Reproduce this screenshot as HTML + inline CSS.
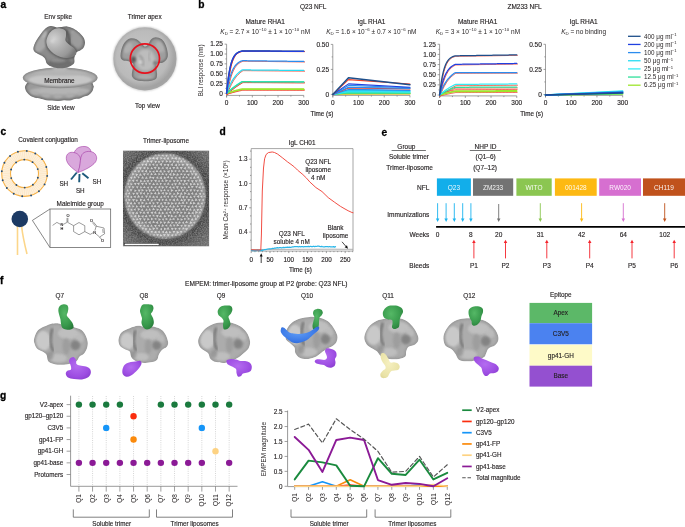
<!DOCTYPE html>
<html><head><meta charset="utf-8"><style>
html,body{margin:0;padding:0;background:#fff;}
svg{display:block;font-family:"Liberation Sans",sans-serif;will-change:transform;}
</style></head><body>
<svg width="685" height="527" viewBox="0 0 685 527">
<rect width="685" height="527" fill="#fff"/>
<text x="0.40" y="7.80" font-size="10.2" text-anchor="start" font-weight="bold" fill="#000" stroke="#000" stroke-width="0.3" >a</text>
<text x="198.20" y="7.80" font-size="10.2" text-anchor="start" font-weight="bold" fill="#000" stroke="#000" stroke-width="0.3" >b</text>
<text x="0.60" y="135.40" font-size="10.2" text-anchor="start" font-weight="bold" fill="#000" stroke="#000" stroke-width="0.3" >c</text>
<text x="219.60" y="135.40" font-size="10.2" text-anchor="start" font-weight="bold" fill="#000" stroke="#000" stroke-width="0.3" >d</text>
<text x="381.60" y="135.50" font-size="10.2" text-anchor="start" font-weight="bold" fill="#000" stroke="#000" stroke-width="0.3" >e</text>
<text x="0.00" y="283.80" font-size="10.2" text-anchor="start" font-weight="bold" fill="#000" stroke="#000" stroke-width="0.3" >f</text>
<text x="0.00" y="399.30" font-size="10.2" text-anchor="start" font-weight="bold" fill="#000" stroke="#000" stroke-width="0.3" >g</text>
<line x1="226.60" y1="44.17" x2="226.60" y2="97.40" stroke="#777" stroke-width="0.7" />
<line x1="226.60" y1="95.40" x2="303.76" y2="95.40" stroke="#777" stroke-width="0.7" />
<line x1="224.60" y1="93.30" x2="226.60" y2="93.30" stroke="#777" stroke-width="0.7" />
<text x="222.90" y="95.60" font-size="6.5" text-anchor="end" font-weight="normal" fill="#231f20" stroke="#231f20" stroke-width="0.14" >0</text>
<line x1="224.60" y1="83.47" x2="226.60" y2="83.47" stroke="#777" stroke-width="0.7" />
<text x="222.90" y="85.77" font-size="6.5" text-anchor="end" font-weight="normal" fill="#231f20" stroke="#231f20" stroke-width="0.14" >0.25</text>
<line x1="224.60" y1="73.65" x2="226.60" y2="73.65" stroke="#777" stroke-width="0.7" />
<text x="222.90" y="75.95" font-size="6.5" text-anchor="end" font-weight="normal" fill="#231f20" stroke="#231f20" stroke-width="0.14" >0.50</text>
<line x1="224.60" y1="63.83" x2="226.60" y2="63.83" stroke="#777" stroke-width="0.7" />
<text x="222.90" y="66.12" font-size="6.5" text-anchor="end" font-weight="normal" fill="#231f20" stroke="#231f20" stroke-width="0.14" >0.75</text>
<line x1="224.60" y1="54.00" x2="226.60" y2="54.00" stroke="#777" stroke-width="0.7" />
<text x="222.90" y="56.30" font-size="6.5" text-anchor="end" font-weight="normal" fill="#231f20" stroke="#231f20" stroke-width="0.14" >1.00</text>
<line x1="224.60" y1="44.17" x2="226.60" y2="44.17" stroke="#777" stroke-width="0.7" />
<text x="222.90" y="46.47" font-size="6.5" text-anchor="end" font-weight="normal" fill="#231f20" stroke="#231f20" stroke-width="0.14" >1.25</text>
<line x1="225.40" y1="88.39" x2="226.60" y2="88.39" stroke="#777" stroke-width="0.7" />
<line x1="225.40" y1="78.56" x2="226.60" y2="78.56" stroke="#777" stroke-width="0.7" />
<line x1="225.40" y1="68.74" x2="226.60" y2="68.74" stroke="#777" stroke-width="0.7" />
<line x1="225.40" y1="58.91" x2="226.60" y2="58.91" stroke="#777" stroke-width="0.7" />
<line x1="225.40" y1="49.09" x2="226.60" y2="49.09" stroke="#777" stroke-width="0.7" />
<line x1="226.60" y1="95.40" x2="226.60" y2="97.40" stroke="#777" stroke-width="0.7" />
<text x="226.60" y="105.20" font-size="6.5" text-anchor="middle" font-weight="normal" fill="#231f20" stroke="#231f20" stroke-width="0.14" >0</text>
<line x1="239.46" y1="95.40" x2="239.46" y2="96.60" stroke="#777" stroke-width="0.7" />
<line x1="252.32" y1="95.40" x2="252.32" y2="97.40" stroke="#777" stroke-width="0.7" />
<text x="252.32" y="105.20" font-size="6.5" text-anchor="middle" font-weight="normal" fill="#231f20" stroke="#231f20" stroke-width="0.14" >100</text>
<line x1="265.18" y1="95.40" x2="265.18" y2="96.60" stroke="#777" stroke-width="0.7" />
<line x1="278.04" y1="95.40" x2="278.04" y2="97.40" stroke="#777" stroke-width="0.7" />
<text x="278.04" y="105.20" font-size="6.5" text-anchor="middle" font-weight="normal" fill="#231f20" stroke="#231f20" stroke-width="0.14" >200</text>
<line x1="290.90" y1="95.40" x2="290.90" y2="96.60" stroke="#777" stroke-width="0.7" />
<line x1="303.76" y1="95.40" x2="303.76" y2="97.40" stroke="#777" stroke-width="0.7" />
<text x="303.76" y="105.20" font-size="6.5" text-anchor="middle" font-weight="normal" fill="#231f20" stroke="#231f20" stroke-width="0.14" >300</text>
<polyline points="227.00,94.20 227.77,93.97 228.54,93.75 229.31,93.53 230.09,93.31 230.86,93.10 231.63,92.89 232.40,92.68 233.17,92.48 233.94,92.28 234.72,92.09 235.49,91.90 236.26,91.71 237.03,91.52 237.80,91.34 238.57,91.17 239.35,90.99 240.12,90.82 240.89,90.65 241.66,90.49 242.43,90.32 243.20,90.27 243.98,90.27 244.75,90.27 245.52,90.27 246.29,90.28 247.06,90.28 247.83,90.28 248.60,90.28 249.38,90.28 250.15,90.28 250.92,90.28 251.69,90.28 252.46,90.28 253.23,90.29 254.01,90.29 254.78,90.29 255.55,90.29 256.32,90.29 257.09,90.29 257.86,90.29 258.64,90.29 259.41,90.30 260.18,90.30 260.95,90.30 261.72,90.30 262.49,90.30 263.27,90.30 264.04,90.30 264.81,90.30 265.58,90.30 266.35,90.31 267.12,90.31 267.89,90.31 268.67,90.31 269.44,90.31 270.21,90.31 270.98,90.31 271.75,90.31 272.52,90.32 273.30,90.32 274.07,90.32 274.84,90.32 275.61,90.32 276.38,90.32 277.15,90.32 277.93,90.32 278.70,90.32 279.47,90.33 280.24,90.33 281.01,90.33 281.78,90.33 282.56,90.33 283.33,90.33 284.10,90.33 284.87,90.33 285.64,90.34 286.41,90.34 287.18,90.34 287.96,90.34 288.73,90.34 289.50,90.34 290.27,90.34 291.04,90.34 291.81,90.34 292.59,90.35 293.36,90.35 294.13,90.35 294.90,90.35 295.67,90.35 296.44,90.35 297.22,90.35 297.99,90.35 298.76,90.35 299.53,90.36 300.30,90.36 301.07,90.36 301.85,90.36 302.62,90.36 303.39,90.36 304.16,90.36" fill="none" stroke="#f0402a" stroke-width="0.9" stroke-linejoin="round" stroke-linecap="round" />
<polyline points="227.00,94.20 227.77,93.94 228.54,93.68 229.31,93.42 230.09,93.18 230.86,92.93 231.63,92.69 232.40,92.45 233.17,92.22 233.94,91.99 234.72,91.77 235.49,91.55 236.26,91.34 237.03,91.12 237.80,90.92 238.57,90.71 239.35,90.51 240.12,90.31 240.89,90.12 241.66,89.93 242.43,89.74 243.20,89.68 243.98,89.68 244.75,89.68 245.52,89.69 246.29,89.69 247.06,89.69 247.83,89.69 248.60,89.69 249.38,89.69 250.15,89.69 250.92,89.69 251.69,89.70 252.46,89.70 253.23,89.70 254.01,89.70 254.78,89.70 255.55,89.70 256.32,89.70 257.09,89.71 257.86,89.71 258.64,89.71 259.41,89.71 260.18,89.71 260.95,89.71 261.72,89.71 262.49,89.72 263.27,89.72 264.04,89.72 264.81,89.72 265.58,89.72 266.35,89.72 267.12,89.72 267.89,89.72 268.67,89.73 269.44,89.73 270.21,89.73 270.98,89.73 271.75,89.73 272.52,89.73 273.30,89.73 274.07,89.74 274.84,89.74 275.61,89.74 276.38,89.74 277.15,89.74 277.93,89.74 278.70,89.74 279.47,89.74 280.24,89.75 281.01,89.75 281.78,89.75 282.56,89.75 283.33,89.75 284.10,89.75 284.87,89.75 285.64,89.76 286.41,89.76 287.18,89.76 287.96,89.76 288.73,89.76 289.50,89.76 290.27,89.76 291.04,89.76 291.81,89.77 292.59,89.77 293.36,89.77 294.13,89.77 294.90,89.77 295.67,89.77 296.44,89.77 297.22,89.78 297.99,89.78 298.76,89.78 299.53,89.78 300.30,89.78 301.07,89.78 301.85,89.78 302.62,89.78 303.39,89.79 304.16,89.79" fill="none" stroke="#f0402a" stroke-width="0.9" stroke-linejoin="round" stroke-linecap="round" />
<polyline points="227.20,94.20 227.97,93.48 228.74,92.77 229.51,92.08 230.29,91.41 231.06,90.75 231.83,90.11 232.60,89.48 233.37,88.87 234.14,88.27 234.92,87.69 235.69,87.12 236.46,86.56 237.23,86.02 238.00,85.49 238.77,84.97 239.55,84.46 240.32,83.97 241.09,83.49 241.86,83.02 242.63,82.56 243.40,82.41 244.18,82.42 244.95,82.42 245.72,82.42 246.49,82.43 247.26,82.43 248.03,82.43 248.80,82.44 249.58,82.44 250.35,82.44 251.12,82.45 251.89,82.45 252.66,82.45 253.43,82.46 254.21,82.46 254.98,82.47 255.75,82.47 256.52,82.47 257.29,82.48 258.06,82.48 258.84,82.48 259.61,82.49 260.38,82.49 261.15,82.49 261.92,82.50 262.69,82.50 263.47,82.50 264.24,82.51 265.01,82.51 265.78,82.51 266.55,82.52 267.32,82.52 268.09,82.52 268.87,82.53 269.64,82.53 270.41,82.54 271.18,82.54 271.95,82.54 272.72,82.55 273.50,82.55 274.27,82.55 275.04,82.56 275.81,82.56 276.58,82.56 277.35,82.57 278.13,82.57 278.90,82.57 279.67,82.58 280.44,82.58 281.21,82.58 281.98,82.59 282.76,82.59 283.53,82.59 284.30,82.60 285.07,82.60 285.84,82.61 286.61,82.61 287.38,82.61 288.16,82.62 288.93,82.62 289.70,82.62 290.47,82.63 291.24,82.63 292.01,82.63 292.79,82.64 293.56,82.64 294.33,82.64 295.10,82.65 295.87,82.65 296.64,82.65 297.42,82.66 298.19,82.66 298.96,82.66 299.73,82.67 300.50,82.67 301.27,82.67 302.05,82.68 302.82,82.68 303.59,82.68 304.36,82.69" fill="none" stroke="#f0402a" stroke-width="0.9" stroke-linejoin="round" stroke-linecap="round" />
<polyline points="227.20,94.20 227.97,93.49 228.74,92.79 229.51,92.11 230.29,91.45 231.06,90.80 231.83,90.17 232.60,89.56 233.37,88.96 234.14,88.37 234.92,87.79 235.69,87.23 236.46,86.69 237.23,86.15 238.00,85.63 238.77,85.12 239.55,84.63 240.32,84.14 241.09,83.67 241.86,83.21 242.63,82.75 243.40,82.61 244.18,82.61 244.95,82.62 245.72,82.62 246.49,82.62 247.26,82.63 248.03,82.63 248.80,82.63 249.58,82.64 250.35,82.64 251.12,82.64 251.89,82.65 252.66,82.65 253.43,82.65 254.21,82.66 254.98,82.66 255.75,82.66 256.52,82.67 257.29,82.67 258.06,82.67 258.84,82.68 259.61,82.68 260.38,82.69 261.15,82.69 261.92,82.69 262.69,82.70 263.47,82.70 264.24,82.70 265.01,82.71 265.78,82.71 266.55,82.71 267.32,82.72 268.09,82.72 268.87,82.72 269.64,82.73 270.41,82.73 271.18,82.73 271.95,82.74 272.72,82.74 273.50,82.74 274.27,82.75 275.04,82.75 275.81,82.75 276.58,82.76 277.35,82.76 278.13,82.76 278.90,82.77 279.67,82.77 280.44,82.77 281.21,82.78 281.98,82.78 282.76,82.78 283.53,82.79 284.30,82.79 285.07,82.80 285.84,82.80 286.61,82.80 287.38,82.81 288.16,82.81 288.93,82.81 289.70,82.82 290.47,82.82 291.24,82.82 292.01,82.83 292.79,82.83 293.56,82.83 294.33,82.84 295.10,82.84 295.87,82.84 296.64,82.85 297.42,82.85 298.19,82.85 298.96,82.86 299.73,82.86 300.50,82.86 301.27,82.87 302.05,82.87 302.82,82.87 303.59,82.88 304.36,82.88" fill="none" stroke="#f0402a" stroke-width="0.9" stroke-linejoin="round" stroke-linecap="round" />
<polyline points="227.40,94.00 228.17,91.84 228.94,89.84 229.71,87.98 230.49,86.25 231.26,84.65 232.03,83.17 232.80,81.79 233.57,80.52 234.34,79.33 235.12,78.23 235.89,77.21 236.66,76.26 237.43,75.39 238.20,74.57 238.97,73.82 239.75,73.11 240.52,72.46 241.29,71.86 242.06,71.30 242.83,70.78 243.60,70.62 244.38,70.63 245.15,70.64 245.92,70.64 246.69,70.65 247.46,70.66 248.23,70.66 249.00,70.67 249.78,70.68 250.55,70.68 251.32,70.69 252.09,70.70 252.86,70.71 253.63,70.71 254.41,70.72 255.18,70.73 255.95,70.73 256.72,70.74 257.49,70.75 258.26,70.75 259.04,70.76 259.81,70.77 260.58,70.77 261.35,70.78 262.12,70.79 262.89,70.80 263.67,70.80 264.44,70.81 265.21,70.82 265.98,70.82 266.75,70.83 267.52,70.84 268.29,70.84 269.07,70.85 269.84,70.86 270.61,70.87 271.38,70.87 272.15,70.88 272.92,70.89 273.70,70.89 274.47,70.90 275.24,70.91 276.01,70.91 276.78,70.92 277.55,70.93 278.33,70.93 279.10,70.94 279.87,70.95 280.64,70.96 281.41,70.96 282.18,70.97 282.96,70.98 283.73,70.98 284.50,70.99 285.27,71.00 286.04,71.00 286.81,71.01 287.58,71.02 288.36,71.02 289.13,71.03 289.90,71.04 290.67,71.05 291.44,71.05 292.21,71.06 292.99,71.07 293.76,71.07 294.53,71.08 295.30,71.09 296.07,71.09 296.84,71.10 297.62,71.11 298.39,71.11 299.16,71.12 299.93,71.13 300.70,71.13 301.47,71.14 302.25,71.15 303.02,71.16 303.79,71.16 304.56,71.17" fill="none" stroke="#f0402a" stroke-width="0.9" stroke-linejoin="round" stroke-linecap="round" />
<polyline points="227.40,93.80 228.17,89.18 228.94,85.18 229.71,81.71 230.49,78.71 231.26,76.11 232.03,73.86 232.80,71.91 233.57,70.23 234.34,68.77 235.12,67.50 235.89,66.41 236.66,65.46 237.43,64.64 238.20,63.93 238.97,63.31 239.75,62.78 240.52,62.32 241.29,61.92 242.06,61.57 242.83,61.27 243.60,61.19 244.38,61.20 245.15,61.21 245.92,61.22 246.69,61.23 247.46,61.24 248.23,61.25 249.00,61.26 249.78,61.27 250.55,61.28 251.32,61.29 252.09,61.29 252.86,61.30 253.63,61.31 254.41,61.32 255.18,61.33 255.95,61.34 256.72,61.35 257.49,61.36 258.26,61.37 259.04,61.38 259.81,61.39 260.58,61.40 261.35,61.41 262.12,61.42 262.89,61.43 263.67,61.44 264.44,61.45 265.21,61.46 265.98,61.47 266.75,61.48 267.52,61.49 268.29,61.50 269.07,61.51 269.84,61.52 270.61,61.53 271.38,61.54 272.15,61.55 272.92,61.56 273.70,61.57 274.47,61.58 275.24,61.59 276.01,61.60 276.78,61.61 277.55,61.62 278.33,61.62 279.10,61.63 279.87,61.64 280.64,61.65 281.41,61.66 282.18,61.67 282.96,61.68 283.73,61.69 284.50,61.70 285.27,61.71 286.04,61.72 286.81,61.73 287.58,61.74 288.36,61.75 289.13,61.76 289.90,61.77 290.67,61.78 291.44,61.79 292.21,61.80 292.99,61.81 293.76,61.82 294.53,61.83 295.30,61.84 296.07,61.85 296.84,61.86 297.62,61.87 298.39,61.87 299.16,61.88 299.93,61.89 300.70,61.90 301.47,61.91 302.25,61.92 303.02,61.93 303.79,61.94 304.56,61.95" fill="none" stroke="#f0402a" stroke-width="0.9" stroke-linejoin="round" stroke-linecap="round" />
<polyline points="227.20,93.60 227.97,85.74 228.74,79.31 229.51,74.05 230.29,69.75 231.06,66.23 231.83,63.36 232.60,61.00 233.37,59.08 234.14,57.50 234.92,56.22 235.69,55.16 236.46,54.30 237.23,53.60 238.00,53.02 238.77,52.55 239.55,52.16 240.32,51.85 241.09,51.59 241.86,51.38 242.63,51.21 243.40,51.16 244.18,51.16 244.95,51.17 245.72,51.17 246.49,51.17 247.26,51.18 248.03,51.18 248.80,51.19 249.58,51.19 250.35,51.19 251.12,51.20 251.89,51.20 252.66,51.20 253.43,51.21 254.21,51.21 254.98,51.22 255.75,51.22 256.52,51.22 257.29,51.23 258.06,51.23 258.84,51.23 259.61,51.24 260.38,51.24 261.15,51.25 261.92,51.25 262.69,51.25 263.47,51.26 264.24,51.26 265.01,51.27 265.78,51.27 266.55,51.27 267.32,51.28 268.09,51.28 268.87,51.28 269.64,51.29 270.41,51.29 271.18,51.30 271.95,51.30 272.72,51.30 273.50,51.31 274.27,51.31 275.04,51.31 275.81,51.32 276.58,51.32 277.35,51.33 278.13,51.33 278.90,51.33 279.67,51.34 280.44,51.34 281.21,51.35 281.98,51.35 282.76,51.35 283.53,51.36 284.30,51.36 285.07,51.36 285.84,51.37 286.61,51.37 287.38,51.38 288.16,51.38 288.93,51.38 289.70,51.39 290.47,51.39 291.24,51.39 292.01,51.40 292.79,51.40 293.56,51.41 294.33,51.41 295.10,51.41 295.87,51.42 296.64,51.42 297.42,51.43 298.19,51.43 298.96,51.43 299.73,51.44 300.50,51.44 301.27,51.44 302.05,51.45 302.82,51.45 303.59,51.46 304.36,51.46" fill="none" stroke="#f0402a" stroke-width="0.9" stroke-linejoin="round" stroke-linecap="round" />
<polyline points="227.20,93.60 227.97,85.78 228.74,79.38 229.51,74.14 230.29,69.86 231.06,66.36 231.83,63.50 232.60,61.15 233.37,59.24 234.14,57.67 234.92,56.39 235.69,55.34 236.46,54.48 237.23,53.78 238.00,53.21 238.77,52.74 239.55,52.35 240.32,52.04 241.09,51.78 241.86,51.57 242.63,51.40 243.40,51.36 244.18,51.36 244.95,51.36 245.72,51.37 246.49,51.37 247.26,51.37 248.03,51.38 248.80,51.38 249.58,51.39 250.35,51.39 251.12,51.39 251.89,51.40 252.66,51.40 253.43,51.40 254.21,51.41 254.98,51.41 255.75,51.42 256.52,51.42 257.29,51.42 258.06,51.43 258.84,51.43 259.61,51.43 260.38,51.44 261.15,51.44 261.92,51.45 262.69,51.45 263.47,51.45 264.24,51.46 265.01,51.46 265.78,51.47 266.55,51.47 267.32,51.47 268.09,51.48 268.87,51.48 269.64,51.48 270.41,51.49 271.18,51.49 271.95,51.50 272.72,51.50 273.50,51.50 274.27,51.51 275.04,51.51 275.81,51.51 276.58,51.52 277.35,51.52 278.13,51.53 278.90,51.53 279.67,51.53 280.44,51.54 281.21,51.54 281.98,51.54 282.76,51.55 283.53,51.55 284.30,51.56 285.07,51.56 285.84,51.56 286.61,51.57 287.38,51.57 288.16,51.57 288.93,51.58 289.70,51.58 290.47,51.59 291.24,51.59 292.01,51.59 292.79,51.60 293.56,51.60 294.33,51.61 295.10,51.61 295.87,51.61 296.64,51.62 297.42,51.62 298.19,51.62 298.96,51.63 299.73,51.63 300.50,51.64 301.27,51.64 302.05,51.64 302.82,51.65 303.59,51.65 304.36,51.65" fill="none" stroke="#f0402a" stroke-width="0.9" stroke-linejoin="round" stroke-linecap="round" />
<polyline points="226.60,93.30 227.37,93.07 228.14,92.85 228.91,92.63 229.69,92.41 230.46,92.20 231.23,91.99 232.00,91.78 232.77,91.58 233.54,91.38 234.32,91.19 235.09,91.00 235.86,90.81 236.63,90.62 237.40,90.44 238.17,90.27 238.95,90.09 239.72,89.92 240.49,89.75 241.26,89.59 242.03,89.42 242.80,89.37 243.58,89.37 244.35,89.37 245.12,89.37 245.89,89.38 246.66,89.38 247.43,89.38 248.20,89.38 248.98,89.38 249.75,89.38 250.52,89.38 251.29,89.38 252.06,89.38 252.83,89.39 253.61,89.39 254.38,89.39 255.15,89.39 255.92,89.39 256.69,89.39 257.46,89.39 258.24,89.39 259.01,89.40 259.78,89.40 260.55,89.40 261.32,89.40 262.09,89.40 262.87,89.40 263.64,89.40 264.41,89.40 265.18,89.40 265.95,89.41 266.72,89.41 267.49,89.41 268.27,89.41 269.04,89.41 269.81,89.41 270.58,89.41 271.35,89.41 272.12,89.42 272.90,89.42 273.67,89.42 274.44,89.42 275.21,89.42 275.98,89.42 276.75,89.42 277.53,89.42 278.30,89.42 279.07,89.43 279.84,89.43 280.61,89.43 281.38,89.43 282.16,89.43 282.93,89.43 283.70,89.43 284.47,89.43 285.24,89.44 286.01,89.44 286.78,89.44 287.56,89.44 288.33,89.44 289.10,89.44 289.87,89.44 290.64,89.44 291.41,89.44 292.19,89.45 292.96,89.45 293.73,89.45 294.50,89.45 295.27,89.45 296.04,89.45 296.82,89.45 297.59,89.45 298.36,89.45 299.13,89.46 299.90,89.46 300.67,89.46 301.45,89.46 302.22,89.46 302.99,89.46 303.76,89.46" fill="none" stroke="#9ee52c" stroke-width="1.25" stroke-linejoin="round" stroke-linecap="round" />
<polyline points="226.60,93.30 227.37,93.04 228.14,92.78 228.91,92.52 229.69,92.28 230.46,92.03 231.23,91.79 232.00,91.55 232.77,91.32 233.54,91.09 234.32,90.87 235.09,90.65 235.86,90.44 236.63,90.22 237.40,90.02 238.17,89.81 238.95,89.61 239.72,89.41 240.49,89.22 241.26,89.03 242.03,88.84 242.80,88.78 243.58,88.78 244.35,88.78 245.12,88.79 245.89,88.79 246.66,88.79 247.43,88.79 248.20,88.79 248.98,88.79 249.75,88.79 250.52,88.79 251.29,88.80 252.06,88.80 252.83,88.80 253.61,88.80 254.38,88.80 255.15,88.80 255.92,88.80 256.69,88.81 257.46,88.81 258.24,88.81 259.01,88.81 259.78,88.81 260.55,88.81 261.32,88.81 262.09,88.82 262.87,88.82 263.64,88.82 264.41,88.82 265.18,88.82 265.95,88.82 266.72,88.82 267.49,88.82 268.27,88.83 269.04,88.83 269.81,88.83 270.58,88.83 271.35,88.83 272.12,88.83 272.90,88.83 273.67,88.84 274.44,88.84 275.21,88.84 275.98,88.84 276.75,88.84 277.53,88.84 278.30,88.84 279.07,88.84 279.84,88.85 280.61,88.85 281.38,88.85 282.16,88.85 282.93,88.85 283.70,88.85 284.47,88.85 285.24,88.86 286.01,88.86 286.78,88.86 287.56,88.86 288.33,88.86 289.10,88.86 289.87,88.86 290.64,88.86 291.41,88.87 292.19,88.87 292.96,88.87 293.73,88.87 294.50,88.87 295.27,88.87 296.04,88.87 296.82,88.88 297.59,88.88 298.36,88.88 299.13,88.88 299.90,88.88 300.67,88.88 301.45,88.88 302.22,88.88 302.99,88.89 303.76,88.89" fill="none" stroke="#9ee52c" stroke-width="1.25" stroke-linejoin="round" stroke-linecap="round" />
<polyline points="226.60,93.30 227.37,92.58 228.14,91.87 228.91,91.18 229.69,90.51 230.46,89.85 231.23,89.21 232.00,88.58 232.77,87.97 233.54,87.37 234.32,86.79 235.09,86.22 235.86,85.66 236.63,85.12 237.40,84.59 238.17,84.07 238.95,83.56 239.72,83.07 240.49,82.59 241.26,82.12 242.03,81.66 242.80,81.51 243.58,81.52 244.35,81.52 245.12,81.52 245.89,81.53 246.66,81.53 247.43,81.53 248.20,81.54 248.98,81.54 249.75,81.54 250.52,81.55 251.29,81.55 252.06,81.55 252.83,81.56 253.61,81.56 254.38,81.57 255.15,81.57 255.92,81.57 256.69,81.58 257.46,81.58 258.24,81.58 259.01,81.59 259.78,81.59 260.55,81.59 261.32,81.60 262.09,81.60 262.87,81.60 263.64,81.61 264.41,81.61 265.18,81.61 265.95,81.62 266.72,81.62 267.49,81.62 268.27,81.63 269.04,81.63 269.81,81.64 270.58,81.64 271.35,81.64 272.12,81.65 272.90,81.65 273.67,81.65 274.44,81.66 275.21,81.66 275.98,81.66 276.75,81.67 277.53,81.67 278.30,81.67 279.07,81.68 279.84,81.68 280.61,81.68 281.38,81.69 282.16,81.69 282.93,81.69 283.70,81.70 284.47,81.70 285.24,81.71 286.01,81.71 286.78,81.71 287.56,81.72 288.33,81.72 289.10,81.72 289.87,81.73 290.64,81.73 291.41,81.73 292.19,81.74 292.96,81.74 293.73,81.74 294.50,81.75 295.27,81.75 296.04,81.75 296.82,81.76 297.59,81.76 298.36,81.76 299.13,81.77 299.90,81.77 300.67,81.77 301.45,81.78 302.22,81.78 302.99,81.78 303.76,81.79" fill="none" stroke="#34ecf4" stroke-width="1.25" stroke-linejoin="round" stroke-linecap="round" />
<polyline points="226.60,93.30 227.37,92.59 228.14,91.89 228.91,91.21 229.69,90.55 230.46,89.90 231.23,89.27 232.00,88.66 232.77,88.06 233.54,87.47 234.32,86.89 235.09,86.33 235.86,85.79 236.63,85.25 237.40,84.73 238.17,84.22 238.95,83.73 239.72,83.24 240.49,82.77 241.26,82.31 242.03,81.85 242.80,81.71 243.58,81.71 244.35,81.72 245.12,81.72 245.89,81.72 246.66,81.73 247.43,81.73 248.20,81.73 248.98,81.74 249.75,81.74 250.52,81.74 251.29,81.75 252.06,81.75 252.83,81.75 253.61,81.76 254.38,81.76 255.15,81.76 255.92,81.77 256.69,81.77 257.46,81.77 258.24,81.78 259.01,81.78 259.78,81.79 260.55,81.79 261.32,81.79 262.09,81.80 262.87,81.80 263.64,81.80 264.41,81.81 265.18,81.81 265.95,81.81 266.72,81.82 267.49,81.82 268.27,81.82 269.04,81.83 269.81,81.83 270.58,81.83 271.35,81.84 272.12,81.84 272.90,81.84 273.67,81.85 274.44,81.85 275.21,81.85 275.98,81.86 276.75,81.86 277.53,81.86 278.30,81.87 279.07,81.87 279.84,81.87 280.61,81.88 281.38,81.88 282.16,81.88 282.93,81.89 283.70,81.89 284.47,81.90 285.24,81.90 286.01,81.90 286.78,81.91 287.56,81.91 288.33,81.91 289.10,81.92 289.87,81.92 290.64,81.92 291.41,81.93 292.19,81.93 292.96,81.93 293.73,81.94 294.50,81.94 295.27,81.94 296.04,81.95 296.82,81.95 297.59,81.95 298.36,81.96 299.13,81.96 299.90,81.96 300.67,81.97 301.45,81.97 302.22,81.97 302.99,81.98 303.76,81.98" fill="none" stroke="#2fe09a" stroke-width="1.25" stroke-linejoin="round" stroke-linecap="round" />
<polyline points="226.60,93.30 227.37,91.14 228.14,89.14 228.91,87.28 229.69,85.55 230.46,83.95 231.23,82.47 232.00,81.09 232.77,79.82 233.54,78.63 234.32,77.53 235.09,76.51 235.86,75.56 236.63,74.69 237.40,73.87 238.17,73.12 238.95,72.41 239.72,71.76 240.49,71.16 241.26,70.60 242.03,70.08 242.80,69.92 243.58,69.93 244.35,69.94 245.12,69.94 245.89,69.95 246.66,69.96 247.43,69.96 248.20,69.97 248.98,69.98 249.75,69.98 250.52,69.99 251.29,70.00 252.06,70.01 252.83,70.01 253.61,70.02 254.38,70.03 255.15,70.03 255.92,70.04 256.69,70.05 257.46,70.05 258.24,70.06 259.01,70.07 259.78,70.07 260.55,70.08 261.32,70.09 262.09,70.10 262.87,70.10 263.64,70.11 264.41,70.12 265.18,70.12 265.95,70.13 266.72,70.14 267.49,70.14 268.27,70.15 269.04,70.16 269.81,70.17 270.58,70.17 271.35,70.18 272.12,70.19 272.90,70.19 273.67,70.20 274.44,70.21 275.21,70.21 275.98,70.22 276.75,70.23 277.53,70.23 278.30,70.24 279.07,70.25 279.84,70.26 280.61,70.26 281.38,70.27 282.16,70.28 282.93,70.28 283.70,70.29 284.47,70.30 285.24,70.30 286.01,70.31 286.78,70.32 287.56,70.32 288.33,70.33 289.10,70.34 289.87,70.35 290.64,70.35 291.41,70.36 292.19,70.37 292.96,70.37 293.73,70.38 294.50,70.39 295.27,70.39 296.04,70.40 296.82,70.41 297.59,70.41 298.36,70.42 299.13,70.43 299.90,70.43 300.67,70.44 301.45,70.45 302.22,70.46 302.99,70.46 303.76,70.47" fill="none" stroke="#28dcf2" stroke-width="1.25" stroke-linejoin="round" stroke-linecap="round" />
<polyline points="226.60,93.30 227.37,88.68 228.14,84.68 228.91,81.21 229.69,78.21 230.46,75.61 231.23,73.36 232.00,71.41 232.77,69.73 233.54,68.27 234.32,67.00 235.09,65.91 235.86,64.96 236.63,64.14 237.40,63.43 238.17,62.81 238.95,62.28 239.72,61.82 240.49,61.42 241.26,61.07 242.03,60.77 242.80,60.69 243.58,60.70 244.35,60.71 245.12,60.72 245.89,60.73 246.66,60.74 247.43,60.75 248.20,60.76 248.98,60.77 249.75,60.78 250.52,60.79 251.29,60.79 252.06,60.80 252.83,60.81 253.61,60.82 254.38,60.83 255.15,60.84 255.92,60.85 256.69,60.86 257.46,60.87 258.24,60.88 259.01,60.89 259.78,60.90 260.55,60.91 261.32,60.92 262.09,60.93 262.87,60.94 263.64,60.95 264.41,60.96 265.18,60.97 265.95,60.98 266.72,60.99 267.49,61.00 268.27,61.01 269.04,61.02 269.81,61.03 270.58,61.04 271.35,61.05 272.12,61.06 272.90,61.07 273.67,61.08 274.44,61.09 275.21,61.10 275.98,61.11 276.75,61.12 277.53,61.12 278.30,61.13 279.07,61.14 279.84,61.15 280.61,61.16 281.38,61.17 282.16,61.18 282.93,61.19 283.70,61.20 284.47,61.21 285.24,61.22 286.01,61.23 286.78,61.24 287.56,61.25 288.33,61.26 289.10,61.27 289.87,61.28 290.64,61.29 291.41,61.30 292.19,61.31 292.96,61.32 293.73,61.33 294.50,61.34 295.27,61.35 296.04,61.36 296.82,61.37 297.59,61.37 298.36,61.38 299.13,61.39 299.90,61.40 300.67,61.41 301.45,61.42 302.22,61.43 302.99,61.44 303.76,61.45" fill="none" stroke="#2b8cee" stroke-width="1.25" stroke-linejoin="round" stroke-linecap="round" />
<polyline points="226.60,93.30 227.37,85.44 228.14,79.01 228.91,73.75 229.69,69.45 230.46,65.93 231.23,63.06 232.00,60.70 232.77,58.78 233.54,57.20 234.32,55.92 235.09,54.86 235.86,54.00 236.63,53.30 237.40,52.72 238.17,52.25 238.95,51.86 239.72,51.55 240.49,51.29 241.26,51.08 242.03,50.91 242.80,50.86 243.58,50.86 244.35,50.87 245.12,50.87 245.89,50.87 246.66,50.88 247.43,50.88 248.20,50.89 248.98,50.89 249.75,50.89 250.52,50.90 251.29,50.90 252.06,50.90 252.83,50.91 253.61,50.91 254.38,50.92 255.15,50.92 255.92,50.92 256.69,50.93 257.46,50.93 258.24,50.93 259.01,50.94 259.78,50.94 260.55,50.95 261.32,50.95 262.09,50.95 262.87,50.96 263.64,50.96 264.41,50.97 265.18,50.97 265.95,50.97 266.72,50.98 267.49,50.98 268.27,50.98 269.04,50.99 269.81,50.99 270.58,51.00 271.35,51.00 272.12,51.00 272.90,51.01 273.67,51.01 274.44,51.01 275.21,51.02 275.98,51.02 276.75,51.03 277.53,51.03 278.30,51.03 279.07,51.04 279.84,51.04 280.61,51.05 281.38,51.05 282.16,51.05 282.93,51.06 283.70,51.06 284.47,51.06 285.24,51.07 286.01,51.07 286.78,51.08 287.56,51.08 288.33,51.08 289.10,51.09 289.87,51.09 290.64,51.09 291.41,51.10 292.19,51.10 292.96,51.11 293.73,51.11 294.50,51.11 295.27,51.12 296.04,51.12 296.82,51.13 297.59,51.13 298.36,51.13 299.13,51.14 299.90,51.14 300.67,51.14 301.45,51.15 302.22,51.15 302.99,51.16 303.76,51.16" fill="none" stroke="#1d4e8a" stroke-width="1.25" stroke-linejoin="round" stroke-linecap="round" />
<polyline points="226.60,93.30 227.37,85.48 228.14,79.08 228.91,73.84 229.69,69.56 230.46,66.06 231.23,63.20 232.00,60.85 232.77,58.94 233.54,57.37 234.32,56.09 235.09,55.04 235.86,54.18 236.63,53.48 237.40,52.91 238.17,52.44 238.95,52.05 239.72,51.74 240.49,51.48 241.26,51.27 242.03,51.10 242.80,51.06 243.58,51.06 244.35,51.06 245.12,51.07 245.89,51.07 246.66,51.07 247.43,51.08 248.20,51.08 248.98,51.09 249.75,51.09 250.52,51.09 251.29,51.10 252.06,51.10 252.83,51.10 253.61,51.11 254.38,51.11 255.15,51.12 255.92,51.12 256.69,51.12 257.46,51.13 258.24,51.13 259.01,51.13 259.78,51.14 260.55,51.14 261.32,51.15 262.09,51.15 262.87,51.15 263.64,51.16 264.41,51.16 265.18,51.17 265.95,51.17 266.72,51.17 267.49,51.18 268.27,51.18 269.04,51.18 269.81,51.19 270.58,51.19 271.35,51.20 272.12,51.20 272.90,51.20 273.67,51.21 274.44,51.21 275.21,51.21 275.98,51.22 276.75,51.22 277.53,51.23 278.30,51.23 279.07,51.23 279.84,51.24 280.61,51.24 281.38,51.24 282.16,51.25 282.93,51.25 283.70,51.26 284.47,51.26 285.24,51.26 286.01,51.27 286.78,51.27 287.56,51.27 288.33,51.28 289.10,51.28 289.87,51.29 290.64,51.29 291.41,51.29 292.19,51.30 292.96,51.30 293.73,51.31 294.50,51.31 295.27,51.31 296.04,51.32 296.82,51.32 297.59,51.32 298.36,51.33 299.13,51.33 299.90,51.34 300.67,51.34 301.45,51.34 302.22,51.35 302.99,51.35 303.76,51.35" fill="none" stroke="#2040e0" stroke-width="1.25" stroke-linejoin="round" stroke-linecap="round" />
<line x1="439.60" y1="44.25" x2="439.60" y2="97.90" stroke="#777" stroke-width="0.7" />
<line x1="439.60" y1="95.90" x2="516.76" y2="95.90" stroke="#777" stroke-width="0.7" />
<line x1="437.60" y1="95.00" x2="439.60" y2="95.00" stroke="#777" stroke-width="0.7" />
<text x="435.90" y="97.30" font-size="6.5" text-anchor="end" font-weight="normal" fill="#231f20" stroke="#231f20" stroke-width="0.14" >0</text>
<line x1="437.60" y1="84.85" x2="439.60" y2="84.85" stroke="#777" stroke-width="0.7" />
<text x="435.90" y="87.15" font-size="6.5" text-anchor="end" font-weight="normal" fill="#231f20" stroke="#231f20" stroke-width="0.14" >0.25</text>
<line x1="437.60" y1="74.70" x2="439.60" y2="74.70" stroke="#777" stroke-width="0.7" />
<text x="435.90" y="77.00" font-size="6.5" text-anchor="end" font-weight="normal" fill="#231f20" stroke="#231f20" stroke-width="0.14" >0.50</text>
<line x1="437.60" y1="64.55" x2="439.60" y2="64.55" stroke="#777" stroke-width="0.7" />
<text x="435.90" y="66.85" font-size="6.5" text-anchor="end" font-weight="normal" fill="#231f20" stroke="#231f20" stroke-width="0.14" >0.75</text>
<line x1="437.60" y1="54.40" x2="439.60" y2="54.40" stroke="#777" stroke-width="0.7" />
<text x="435.90" y="56.70" font-size="6.5" text-anchor="end" font-weight="normal" fill="#231f20" stroke="#231f20" stroke-width="0.14" >1.00</text>
<line x1="437.60" y1="44.25" x2="439.60" y2="44.25" stroke="#777" stroke-width="0.7" />
<text x="435.90" y="46.55" font-size="6.5" text-anchor="end" font-weight="normal" fill="#231f20" stroke="#231f20" stroke-width="0.14" >1.25</text>
<line x1="438.40" y1="89.92" x2="439.60" y2="89.92" stroke="#777" stroke-width="0.7" />
<line x1="438.40" y1="79.78" x2="439.60" y2="79.78" stroke="#777" stroke-width="0.7" />
<line x1="438.40" y1="69.62" x2="439.60" y2="69.62" stroke="#777" stroke-width="0.7" />
<line x1="438.40" y1="59.48" x2="439.60" y2="59.48" stroke="#777" stroke-width="0.7" />
<line x1="438.40" y1="49.32" x2="439.60" y2="49.32" stroke="#777" stroke-width="0.7" />
<line x1="439.60" y1="95.90" x2="439.60" y2="97.90" stroke="#777" stroke-width="0.7" />
<text x="439.60" y="105.20" font-size="6.5" text-anchor="middle" font-weight="normal" fill="#231f20" stroke="#231f20" stroke-width="0.14" >0</text>
<line x1="452.46" y1="95.90" x2="452.46" y2="97.10" stroke="#777" stroke-width="0.7" />
<line x1="465.32" y1="95.90" x2="465.32" y2="97.90" stroke="#777" stroke-width="0.7" />
<text x="465.32" y="105.20" font-size="6.5" text-anchor="middle" font-weight="normal" fill="#231f20" stroke="#231f20" stroke-width="0.14" >100</text>
<line x1="478.18" y1="95.90" x2="478.18" y2="97.10" stroke="#777" stroke-width="0.7" />
<line x1="491.04" y1="95.90" x2="491.04" y2="97.90" stroke="#777" stroke-width="0.7" />
<text x="491.04" y="105.20" font-size="6.5" text-anchor="middle" font-weight="normal" fill="#231f20" stroke="#231f20" stroke-width="0.14" >200</text>
<line x1="503.90" y1="95.90" x2="503.90" y2="97.10" stroke="#777" stroke-width="0.7" />
<line x1="516.76" y1="95.90" x2="516.76" y2="97.90" stroke="#777" stroke-width="0.7" />
<text x="516.76" y="105.20" font-size="6.5" text-anchor="middle" font-weight="normal" fill="#231f20" stroke="#231f20" stroke-width="0.14" >300</text>
<polyline points="439.90,96.00 440.67,95.80 441.44,95.60 442.21,95.41 442.99,95.22 443.76,95.03 444.53,94.85 445.30,94.67 446.07,94.49 446.84,94.32 447.62,94.15 448.39,93.98 449.16,93.81 449.93,93.65 450.70,93.49 451.47,93.34 452.25,93.18 453.02,93.03 453.79,92.88 454.56,92.74 455.33,92.60 456.10,92.55 456.88,92.55 457.65,92.55 458.42,92.55 459.19,92.54 459.96,92.54 460.73,92.54 461.50,92.54 462.28,92.54 463.05,92.54 463.82,92.54 464.59,92.54 465.36,92.54 466.13,92.53 466.91,92.53 467.68,92.53 468.45,92.53 469.22,92.53 469.99,92.53 470.76,92.53 471.54,92.53 472.31,92.53 473.08,92.53 473.85,92.52 474.62,92.52 475.39,92.52 476.17,92.52 476.94,92.52 477.71,92.52 478.48,92.52 479.25,92.52 480.02,92.52 480.79,92.52 481.57,92.51 482.34,92.51 483.11,92.51 483.88,92.51 484.65,92.51 485.42,92.51 486.20,92.51 486.97,92.51 487.74,92.51 488.51,92.50 489.28,92.50 490.05,92.50 490.83,92.50 491.60,92.50 492.37,92.50 493.14,92.50 493.91,92.50 494.68,92.50 495.46,92.50 496.23,92.49 497.00,92.49 497.77,92.49 498.54,92.49 499.31,92.49 500.08,92.49 500.86,92.49 501.63,92.49 502.40,92.49 503.17,92.48 503.94,92.48 504.71,92.48 505.49,92.48 506.26,92.48 507.03,92.48 507.80,92.48 508.57,92.48 509.34,92.48 510.12,92.48 510.89,92.47 511.66,92.47 512.43,92.47 513.20,92.47 513.97,92.47 514.75,92.47 515.52,92.47 516.29,92.47 517.06,92.47" fill="none" stroke="#f0402a" stroke-width="0.9" stroke-linejoin="round" stroke-linecap="round" />
<polyline points="439.90,93.80 440.67,93.56 441.44,93.33 442.21,93.10 442.99,92.88 443.76,92.66 444.53,92.44 445.30,92.23 446.07,92.02 446.84,91.82 447.62,91.62 448.39,91.42 449.16,91.23 449.93,91.04 450.70,90.85 451.47,90.67 452.25,90.49 453.02,90.31 453.79,90.13 454.56,89.96 455.33,89.80 456.10,89.74 456.88,89.73 457.65,89.73 458.42,89.73 459.19,89.72 459.96,89.72 460.73,89.72 461.50,89.71 462.28,89.71 463.05,89.70 463.82,89.70 464.59,89.70 465.36,89.69 466.13,89.69 466.91,89.69 467.68,89.68 468.45,89.68 469.22,89.67 469.99,89.67 470.76,89.67 471.54,89.66 472.31,89.66 473.08,89.66 473.85,89.65 474.62,89.65 475.39,89.65 476.17,89.64 476.94,89.64 477.71,89.63 478.48,89.63 479.25,89.63 480.02,89.62 480.79,89.62 481.57,89.62 482.34,89.61 483.11,89.61 483.88,89.60 484.65,89.60 485.42,89.60 486.20,89.59 486.97,89.59 487.74,89.58 488.51,89.58 489.28,89.58 490.05,89.57 490.83,89.57 491.60,89.57 492.37,89.56 493.14,89.56 493.91,89.55 494.68,89.55 495.46,89.55 496.23,89.54 497.00,89.54 497.77,89.54 498.54,89.53 499.31,89.53 500.08,89.52 500.86,89.52 501.63,89.52 502.40,89.51 503.17,89.51 503.94,89.50 504.71,89.50 505.49,89.50 506.26,89.49 507.03,89.49 507.80,89.49 508.57,89.48 509.34,89.48 510.12,89.47 510.89,89.47 511.66,89.47 512.43,89.46 513.20,89.46 513.97,89.45 514.75,89.45 515.52,89.45 516.29,89.44 517.06,89.44" fill="none" stroke="#f0402a" stroke-width="0.9" stroke-linejoin="round" stroke-linecap="round" />
<polyline points="440.10,95.80 440.87,95.31 441.64,94.84 442.41,94.38 443.19,93.93 443.96,93.49 444.73,93.07 445.50,92.66 446.27,92.25 447.04,91.86 447.82,91.48 448.59,91.11 449.36,90.75 450.13,90.39 450.90,90.05 451.67,89.72 452.45,89.39 453.22,89.08 453.99,88.77 454.76,88.47 455.53,88.18 456.30,88.08 457.08,88.08 457.85,88.08 458.62,88.08 459.39,88.08 460.16,88.07 460.93,88.07 461.70,88.07 462.48,88.07 463.25,88.06 464.02,88.06 464.79,88.06 465.56,88.06 466.33,88.05 467.11,88.05 467.88,88.05 468.65,88.05 469.42,88.05 470.19,88.04 470.96,88.04 471.74,88.04 472.51,88.04 473.28,88.03 474.05,88.03 474.82,88.03 475.59,88.03 476.37,88.02 477.14,88.02 477.91,88.02 478.68,88.02 479.45,88.01 480.22,88.01 480.99,88.01 481.77,88.01 482.54,88.01 483.31,88.00 484.08,88.00 484.85,88.00 485.62,88.00 486.40,87.99 487.17,87.99 487.94,87.99 488.71,87.99 489.48,87.98 490.25,87.98 491.03,87.98 491.80,87.98 492.57,87.97 493.34,87.97 494.11,87.97 494.88,87.97 495.66,87.97 496.43,87.96 497.20,87.96 497.97,87.96 498.74,87.96 499.51,87.95 500.28,87.95 501.06,87.95 501.83,87.95 502.60,87.94 503.37,87.94 504.14,87.94 504.91,87.94 505.69,87.93 506.46,87.93 507.23,87.93 508.00,87.93 508.77,87.93 509.54,87.92 510.32,87.92 511.09,87.92 511.86,87.92 512.63,87.91 513.40,87.91 514.17,87.91 514.95,87.91 515.72,87.90 516.49,87.90 517.26,87.90" fill="none" stroke="#f0402a" stroke-width="0.9" stroke-linejoin="round" stroke-linecap="round" />
<polyline points="440.20,96.30 440.97,95.62 441.74,94.95 442.51,94.31 443.29,93.69 444.06,93.08 444.83,92.49 445.60,91.92 446.37,91.37 447.14,90.83 447.92,90.31 448.69,89.80 449.46,89.31 450.23,88.83 451.00,88.37 451.77,87.92 452.55,87.49 453.32,87.06 454.09,86.65 454.86,86.26 455.63,85.87 456.40,85.74 457.18,85.73 457.95,85.73 458.72,85.72 459.49,85.71 460.26,85.71 461.03,85.70 461.80,85.70 462.58,85.69 463.35,85.68 464.12,85.68 464.89,85.67 465.66,85.66 466.43,85.66 467.21,85.65 467.98,85.64 468.75,85.64 469.52,85.63 470.29,85.63 471.06,85.62 471.84,85.61 472.61,85.61 473.38,85.60 474.15,85.59 474.92,85.59 475.69,85.58 476.47,85.57 477.24,85.57 478.01,85.56 478.78,85.55 479.55,85.55 480.32,85.54 481.09,85.54 481.87,85.53 482.64,85.52 483.41,85.52 484.18,85.51 484.95,85.50 485.72,85.50 486.50,85.49 487.27,85.48 488.04,85.48 488.81,85.47 489.58,85.46 490.35,85.46 491.13,85.45 491.90,85.44 492.67,85.44 493.44,85.43 494.21,85.42 494.98,85.42 495.76,85.41 496.53,85.41 497.30,85.40 498.07,85.39 498.84,85.39 499.61,85.38 500.38,85.37 501.16,85.37 501.93,85.36 502.70,85.35 503.47,85.35 504.24,85.34 505.01,85.33 505.79,85.33 506.56,85.32 507.33,85.31 508.10,85.31 508.87,85.30 509.64,85.29 510.42,85.29 511.19,85.28 511.96,85.27 512.73,85.27 513.50,85.26 514.27,85.25 515.05,85.25 515.82,85.24 516.59,85.23 517.36,85.23" fill="none" stroke="#f0402a" stroke-width="0.9" stroke-linejoin="round" stroke-linecap="round" />
<polyline points="440.20,95.60 440.97,93.54 441.74,91.62 442.51,89.85 443.29,88.20 444.06,86.67 444.83,85.26 445.60,83.94 446.37,82.72 447.14,81.59 447.92,80.54 448.69,79.57 449.46,78.66 450.23,77.82 451.00,77.05 451.77,76.32 452.55,75.66 453.32,75.03 454.09,74.46 454.86,73.92 455.63,73.43 456.40,73.27 457.18,73.27 457.95,73.27 458.72,73.27 459.49,73.26 460.26,73.26 461.03,73.26 461.80,73.26 462.58,73.26 463.35,73.26 464.12,73.26 464.89,73.25 465.66,73.25 466.43,73.25 467.21,73.25 467.98,73.25 468.75,73.25 469.52,73.25 470.29,73.24 471.06,73.24 471.84,73.24 472.61,73.24 473.38,73.24 474.15,73.24 474.92,73.24 475.69,73.24 476.47,73.23 477.24,73.23 478.01,73.23 478.78,73.23 479.55,73.23 480.32,73.23 481.09,73.23 481.87,73.22 482.64,73.22 483.41,73.22 484.18,73.22 484.95,73.22 485.72,73.22 486.50,73.22 487.27,73.22 488.04,73.21 488.81,73.21 489.58,73.21 490.35,73.21 491.13,73.21 491.90,73.21 492.67,73.21 493.44,73.20 494.21,73.20 494.98,73.20 495.76,73.20 496.53,73.20 497.30,73.20 498.07,73.20 498.84,73.20 499.61,73.19 500.38,73.19 501.16,73.19 501.93,73.19 502.70,73.19 503.47,73.19 504.24,73.19 505.01,73.18 505.79,73.18 506.56,73.18 507.33,73.18 508.10,73.18 508.87,73.18 509.64,73.18 510.42,73.18 511.19,73.17 511.96,73.17 512.73,73.17 513.50,73.17 514.27,73.17 515.05,73.17 515.82,73.17 516.59,73.16 517.36,73.16" fill="none" stroke="#f0402a" stroke-width="0.9" stroke-linejoin="round" stroke-linecap="round" />
<polyline points="440.20,95.60 440.97,91.67 441.74,88.20 442.51,85.14 443.29,82.45 444.06,80.07 444.83,77.98 445.60,76.13 446.37,74.51 447.14,73.07 447.92,71.81 448.69,70.69 449.46,69.71 450.23,68.84 451.00,68.08 451.77,67.40 452.55,66.81 453.32,66.28 454.09,65.82 454.86,65.42 455.63,65.06 456.40,64.94 457.18,64.93 457.95,64.92 458.72,64.91 459.49,64.90 460.26,64.88 461.03,64.87 461.80,64.86 462.58,64.85 463.35,64.84 464.12,64.83 464.89,64.82 465.66,64.81 466.43,64.80 467.21,64.78 467.98,64.77 468.75,64.76 469.52,64.75 470.29,64.74 471.06,64.73 471.84,64.72 472.61,64.71 473.38,64.70 474.15,64.68 474.92,64.67 475.69,64.66 476.47,64.65 477.24,64.64 478.01,64.63 478.78,64.62 479.55,64.61 480.32,64.60 481.09,64.58 481.87,64.57 482.64,64.56 483.41,64.55 484.18,64.54 484.95,64.53 485.72,64.52 486.50,64.51 487.27,64.49 488.04,64.48 488.81,64.47 489.58,64.46 490.35,64.45 491.13,64.44 491.90,64.43 492.67,64.42 493.44,64.41 494.21,64.39 494.98,64.38 495.76,64.37 496.53,64.36 497.30,64.35 498.07,64.34 498.84,64.33 499.61,64.32 500.38,64.30 501.16,64.29 501.93,64.28 502.70,64.27 503.47,64.26 504.24,64.25 505.01,64.24 505.79,64.23 506.56,64.21 507.33,64.20 508.10,64.19 508.87,64.18 509.64,64.17 510.42,64.16 511.19,64.15 511.96,64.13 512.73,64.12 513.50,64.11 514.27,64.10 515.05,64.09 515.82,64.08 516.59,64.07 517.36,64.06" fill="none" stroke="#f0402a" stroke-width="0.9" stroke-linejoin="round" stroke-linecap="round" />
<polyline points="440.10,95.50 440.87,88.88 441.64,83.34 442.41,78.72 443.19,74.86 443.96,71.64 444.73,68.94 445.50,66.69 446.27,64.81 447.04,63.24 447.82,61.93 448.59,60.84 449.36,59.92 450.13,59.16 450.90,58.52 451.67,57.99 452.45,57.54 453.22,57.17 453.99,56.86 454.76,56.60 455.53,56.38 456.30,56.31 457.08,56.30 457.85,56.29 458.62,56.28 459.39,56.27 460.16,56.25 460.93,56.24 461.70,56.23 462.48,56.22 463.25,56.21 464.02,56.20 464.79,56.18 465.56,56.17 466.33,56.16 467.11,56.15 467.88,56.14 468.65,56.12 469.42,56.11 470.19,56.10 470.96,56.09 471.74,56.08 472.51,56.07 473.28,56.05 474.05,56.04 474.82,56.03 475.59,56.02 476.37,56.01 477.14,55.99 477.91,55.98 478.68,55.97 479.45,55.96 480.22,55.95 480.99,55.94 481.77,55.92 482.54,55.91 483.31,55.90 484.08,55.89 484.85,55.88 485.62,55.86 486.40,55.85 487.17,55.84 487.94,55.83 488.71,55.82 489.48,55.80 490.25,55.79 491.03,55.78 491.80,55.77 492.57,55.76 493.34,55.74 494.11,55.73 494.88,55.72 495.66,55.71 496.43,55.70 497.20,55.69 497.97,55.67 498.74,55.66 499.51,55.65 500.28,55.64 501.06,55.63 501.83,55.61 502.60,55.60 503.37,55.59 504.14,55.58 504.91,55.57 505.69,55.55 506.46,55.54 507.23,55.53 508.00,55.52 508.77,55.51 509.54,55.49 510.32,55.48 511.09,55.47 511.86,55.46 512.63,55.45 513.40,55.43 514.17,55.42 514.95,55.41 515.72,55.40 516.49,55.39 517.26,55.37" fill="none" stroke="#f0402a" stroke-width="0.9" stroke-linejoin="round" stroke-linecap="round" />
<polyline points="439.60,95.00 440.37,94.80 441.14,94.60 441.91,94.41 442.69,94.22 443.46,94.03 444.23,93.85 445.00,93.67 445.77,93.49 446.54,93.32 447.32,93.15 448.09,92.98 448.86,92.81 449.63,92.65 450.40,92.49 451.17,92.34 451.95,92.18 452.72,92.03 453.49,91.88 454.26,91.74 455.03,91.60 455.80,91.55 456.58,91.55 457.35,91.55 458.12,91.55 458.89,91.54 459.66,91.54 460.43,91.54 461.20,91.54 461.98,91.54 462.75,91.54 463.52,91.54 464.29,91.54 465.06,91.54 465.83,91.53 466.61,91.53 467.38,91.53 468.15,91.53 468.92,91.53 469.69,91.53 470.46,91.53 471.24,91.53 472.01,91.53 472.78,91.53 473.55,91.52 474.32,91.52 475.09,91.52 475.87,91.52 476.64,91.52 477.41,91.52 478.18,91.52 478.95,91.52 479.72,91.52 480.49,91.52 481.27,91.51 482.04,91.51 482.81,91.51 483.58,91.51 484.35,91.51 485.12,91.51 485.90,91.51 486.67,91.51 487.44,91.51 488.21,91.50 488.98,91.50 489.75,91.50 490.53,91.50 491.30,91.50 492.07,91.50 492.84,91.50 493.61,91.50 494.38,91.50 495.16,91.50 495.93,91.49 496.70,91.49 497.47,91.49 498.24,91.49 499.01,91.49 499.78,91.49 500.56,91.49 501.33,91.49 502.10,91.49 502.87,91.48 503.64,91.48 504.41,91.48 505.19,91.48 505.96,91.48 506.73,91.48 507.50,91.48 508.27,91.48 509.04,91.48 509.82,91.48 510.59,91.47 511.36,91.47 512.13,91.47 512.90,91.47 513.67,91.47 514.45,91.47 515.22,91.47 515.99,91.47 516.76,91.47" fill="none" stroke="#9ee52c" stroke-width="1.25" stroke-linejoin="round" stroke-linecap="round" />
<polyline points="439.60,95.00 440.37,94.76 441.14,94.53 441.91,94.30 442.69,94.08 443.46,93.86 444.23,93.64 445.00,93.43 445.77,93.22 446.54,93.02 447.32,92.82 448.09,92.62 448.86,92.43 449.63,92.24 450.40,92.05 451.17,91.87 451.95,91.69 452.72,91.51 453.49,91.33 454.26,91.16 455.03,91.00 455.80,90.94 456.58,90.93 457.35,90.93 458.12,90.93 458.89,90.92 459.66,90.92 460.43,90.92 461.20,90.91 461.98,90.91 462.75,90.90 463.52,90.90 464.29,90.90 465.06,90.89 465.83,90.89 466.61,90.89 467.38,90.88 468.15,90.88 468.92,90.87 469.69,90.87 470.46,90.87 471.24,90.86 472.01,90.86 472.78,90.86 473.55,90.85 474.32,90.85 475.09,90.85 475.87,90.84 476.64,90.84 477.41,90.83 478.18,90.83 478.95,90.83 479.72,90.82 480.49,90.82 481.27,90.82 482.04,90.81 482.81,90.81 483.58,90.80 484.35,90.80 485.12,90.80 485.90,90.79 486.67,90.79 487.44,90.78 488.21,90.78 488.98,90.78 489.75,90.77 490.53,90.77 491.30,90.77 492.07,90.76 492.84,90.76 493.61,90.75 494.38,90.75 495.16,90.75 495.93,90.74 496.70,90.74 497.47,90.74 498.24,90.73 499.01,90.73 499.78,90.72 500.56,90.72 501.33,90.72 502.10,90.71 502.87,90.71 503.64,90.70 504.41,90.70 505.19,90.70 505.96,90.69 506.73,90.69 507.50,90.69 508.27,90.68 509.04,90.68 509.82,90.67 510.59,90.67 511.36,90.67 512.13,90.66 512.90,90.66 513.67,90.65 514.45,90.65 515.22,90.65 515.99,90.64 516.76,90.64" fill="none" stroke="#9ee52c" stroke-width="1.25" stroke-linejoin="round" stroke-linecap="round" />
<polyline points="439.60,95.00 440.37,94.51 441.14,94.04 441.91,93.58 442.69,93.13 443.46,92.69 444.23,92.27 445.00,91.86 445.77,91.45 446.54,91.06 447.32,90.68 448.09,90.31 448.86,89.95 449.63,89.59 450.40,89.25 451.17,88.92 451.95,88.59 452.72,88.28 453.49,87.97 454.26,87.67 455.03,87.38 455.80,87.28 456.58,87.28 457.35,87.28 458.12,87.28 458.89,87.28 459.66,87.27 460.43,87.27 461.20,87.27 461.98,87.27 462.75,87.26 463.52,87.26 464.29,87.26 465.06,87.26 465.83,87.25 466.61,87.25 467.38,87.25 468.15,87.25 468.92,87.25 469.69,87.24 470.46,87.24 471.24,87.24 472.01,87.24 472.78,87.23 473.55,87.23 474.32,87.23 475.09,87.23 475.87,87.22 476.64,87.22 477.41,87.22 478.18,87.22 478.95,87.21 479.72,87.21 480.49,87.21 481.27,87.21 482.04,87.21 482.81,87.20 483.58,87.20 484.35,87.20 485.12,87.20 485.90,87.19 486.67,87.19 487.44,87.19 488.21,87.19 488.98,87.18 489.75,87.18 490.53,87.18 491.30,87.18 492.07,87.17 492.84,87.17 493.61,87.17 494.38,87.17 495.16,87.17 495.93,87.16 496.70,87.16 497.47,87.16 498.24,87.16 499.01,87.15 499.78,87.15 500.56,87.15 501.33,87.15 502.10,87.14 502.87,87.14 503.64,87.14 504.41,87.14 505.19,87.13 505.96,87.13 506.73,87.13 507.50,87.13 508.27,87.13 509.04,87.12 509.82,87.12 510.59,87.12 511.36,87.12 512.13,87.11 512.90,87.11 513.67,87.11 514.45,87.11 515.22,87.10 515.99,87.10 516.76,87.10" fill="none" stroke="#2fe09a" stroke-width="1.25" stroke-linejoin="round" stroke-linecap="round" />
<polyline points="439.60,95.00 440.37,94.32 441.14,93.65 441.91,93.01 442.69,92.39 443.46,91.78 444.23,91.19 445.00,90.62 445.77,90.07 446.54,89.53 447.32,89.01 448.09,88.50 448.86,88.01 449.63,87.53 450.40,87.07 451.17,86.62 451.95,86.19 452.72,85.76 453.49,85.35 454.26,84.96 455.03,84.57 455.80,84.44 456.58,84.43 457.35,84.43 458.12,84.42 458.89,84.41 459.66,84.41 460.43,84.40 461.20,84.40 461.98,84.39 462.75,84.38 463.52,84.38 464.29,84.37 465.06,84.36 465.83,84.36 466.61,84.35 467.38,84.34 468.15,84.34 468.92,84.33 469.69,84.33 470.46,84.32 471.24,84.31 472.01,84.31 472.78,84.30 473.55,84.29 474.32,84.29 475.09,84.28 475.87,84.27 476.64,84.27 477.41,84.26 478.18,84.25 478.95,84.25 479.72,84.24 480.49,84.24 481.27,84.23 482.04,84.22 482.81,84.22 483.58,84.21 484.35,84.20 485.12,84.20 485.90,84.19 486.67,84.18 487.44,84.18 488.21,84.17 488.98,84.16 489.75,84.16 490.53,84.15 491.30,84.14 492.07,84.14 492.84,84.13 493.61,84.12 494.38,84.12 495.16,84.11 495.93,84.11 496.70,84.10 497.47,84.09 498.24,84.09 499.01,84.08 499.78,84.07 500.56,84.07 501.33,84.06 502.10,84.05 502.87,84.05 503.64,84.04 504.41,84.03 505.19,84.03 505.96,84.02 506.73,84.01 507.50,84.01 508.27,84.00 509.04,83.99 509.82,83.99 510.59,83.98 511.36,83.97 512.13,83.97 512.90,83.96 513.67,83.95 514.45,83.95 515.22,83.94 515.99,83.93 516.76,83.93" fill="none" stroke="#34ecf4" stroke-width="1.25" stroke-linejoin="round" stroke-linecap="round" />
<polyline points="439.60,95.00 440.37,92.94 441.14,91.02 441.91,89.25 442.69,87.60 443.46,86.07 444.23,84.66 445.00,83.34 445.77,82.12 446.54,80.99 447.32,79.94 448.09,78.97 448.86,78.06 449.63,77.22 450.40,76.45 451.17,75.72 451.95,75.06 452.72,74.43 453.49,73.86 454.26,73.32 455.03,72.83 455.80,72.67 456.58,72.67 457.35,72.67 458.12,72.67 458.89,72.66 459.66,72.66 460.43,72.66 461.20,72.66 461.98,72.66 462.75,72.66 463.52,72.66 464.29,72.65 465.06,72.65 465.83,72.65 466.61,72.65 467.38,72.65 468.15,72.65 468.92,72.65 469.69,72.64 470.46,72.64 471.24,72.64 472.01,72.64 472.78,72.64 473.55,72.64 474.32,72.64 475.09,72.64 475.87,72.63 476.64,72.63 477.41,72.63 478.18,72.63 478.95,72.63 479.72,72.63 480.49,72.63 481.27,72.62 482.04,72.62 482.81,72.62 483.58,72.62 484.35,72.62 485.12,72.62 485.90,72.62 486.67,72.62 487.44,72.61 488.21,72.61 488.98,72.61 489.75,72.61 490.53,72.61 491.30,72.61 492.07,72.61 492.84,72.60 493.61,72.60 494.38,72.60 495.16,72.60 495.93,72.60 496.70,72.60 497.47,72.60 498.24,72.60 499.01,72.59 499.78,72.59 500.56,72.59 501.33,72.59 502.10,72.59 502.87,72.59 503.64,72.59 504.41,72.58 505.19,72.58 505.96,72.58 506.73,72.58 507.50,72.58 508.27,72.58 509.04,72.58 509.82,72.58 510.59,72.57 511.36,72.57 512.13,72.57 512.90,72.57 513.67,72.57 514.45,72.57 515.22,72.57 515.99,72.56 516.76,72.56" fill="none" stroke="#2b8cee" stroke-width="1.25" stroke-linejoin="round" stroke-linecap="round" />
<polyline points="439.60,95.00 440.37,91.07 441.14,87.60 441.91,84.54 442.69,81.85 443.46,79.47 444.23,77.38 445.00,75.53 445.77,73.91 446.54,72.47 447.32,71.21 448.09,70.09 448.86,69.11 449.63,68.24 450.40,67.48 451.17,66.80 451.95,66.21 452.72,65.68 453.49,65.22 454.26,64.82 455.03,64.46 455.80,64.34 456.58,64.33 457.35,64.32 458.12,64.31 458.89,64.30 459.66,64.28 460.43,64.27 461.20,64.26 461.98,64.25 462.75,64.24 463.52,64.23 464.29,64.22 465.06,64.21 465.83,64.20 466.61,64.18 467.38,64.17 468.15,64.16 468.92,64.15 469.69,64.14 470.46,64.13 471.24,64.12 472.01,64.11 472.78,64.10 473.55,64.08 474.32,64.07 475.09,64.06 475.87,64.05 476.64,64.04 477.41,64.03 478.18,64.02 478.95,64.01 479.72,64.00 480.49,63.98 481.27,63.97 482.04,63.96 482.81,63.95 483.58,63.94 484.35,63.93 485.12,63.92 485.90,63.91 486.67,63.89 487.44,63.88 488.21,63.87 488.98,63.86 489.75,63.85 490.53,63.84 491.30,63.83 492.07,63.82 492.84,63.81 493.61,63.79 494.38,63.78 495.16,63.77 495.93,63.76 496.70,63.75 497.47,63.74 498.24,63.73 499.01,63.72 499.78,63.70 500.56,63.69 501.33,63.68 502.10,63.67 502.87,63.66 503.64,63.65 504.41,63.64 505.19,63.63 505.96,63.61 506.73,63.60 507.50,63.59 508.27,63.58 509.04,63.57 509.82,63.56 510.59,63.55 511.36,63.53 512.13,63.52 512.90,63.51 513.67,63.50 514.45,63.49 515.22,63.48 515.99,63.47 516.76,63.46" fill="none" stroke="#2040e0" stroke-width="1.25" stroke-linejoin="round" stroke-linecap="round" />
<polyline points="439.60,95.00 440.37,88.38 441.14,82.84 441.91,78.22 442.69,74.36 443.46,71.14 444.23,68.44 445.00,66.19 445.77,64.31 446.54,62.74 447.32,61.43 448.09,60.34 448.86,59.42 449.63,58.66 450.40,58.02 451.17,57.49 451.95,57.04 452.72,56.67 453.49,56.36 454.26,56.10 455.03,55.88 455.80,55.81 456.58,55.80 457.35,55.79 458.12,55.78 458.89,55.77 459.66,55.75 460.43,55.74 461.20,55.73 461.98,55.72 462.75,55.71 463.52,55.70 464.29,55.68 465.06,55.67 465.83,55.66 466.61,55.65 467.38,55.64 468.15,55.62 468.92,55.61 469.69,55.60 470.46,55.59 471.24,55.58 472.01,55.57 472.78,55.55 473.55,55.54 474.32,55.53 475.09,55.52 475.87,55.51 476.64,55.49 477.41,55.48 478.18,55.47 478.95,55.46 479.72,55.45 480.49,55.44 481.27,55.42 482.04,55.41 482.81,55.40 483.58,55.39 484.35,55.38 485.12,55.36 485.90,55.35 486.67,55.34 487.44,55.33 488.21,55.32 488.98,55.30 489.75,55.29 490.53,55.28 491.30,55.27 492.07,55.26 492.84,55.24 493.61,55.23 494.38,55.22 495.16,55.21 495.93,55.20 496.70,55.19 497.47,55.17 498.24,55.16 499.01,55.15 499.78,55.14 500.56,55.13 501.33,55.11 502.10,55.10 502.87,55.09 503.64,55.08 504.41,55.07 505.19,55.05 505.96,55.04 506.73,55.03 507.50,55.02 508.27,55.01 509.04,54.99 509.82,54.98 510.59,54.97 511.36,54.96 512.13,54.95 512.90,54.93 513.67,54.92 514.45,54.91 515.22,54.90 515.99,54.89 516.76,54.87" fill="none" stroke="#1d4e8a" stroke-width="1.25" stroke-linejoin="round" stroke-linecap="round" />
<line x1="332.80" y1="44.40" x2="332.80" y2="97.40" stroke="#777" stroke-width="0.7" />
<line x1="332.80" y1="95.40" x2="409.96" y2="95.40" stroke="#777" stroke-width="0.7" />
<line x1="330.80" y1="94.40" x2="332.80" y2="94.40" stroke="#777" stroke-width="0.7" />
<text x="329.10" y="96.70" font-size="6.5" text-anchor="end" font-weight="normal" fill="#231f20" stroke="#231f20" stroke-width="0.14" >0</text>
<line x1="330.80" y1="69.40" x2="332.80" y2="69.40" stroke="#777" stroke-width="0.7" />
<text x="329.10" y="71.70" font-size="6.5" text-anchor="end" font-weight="normal" fill="#231f20" stroke="#231f20" stroke-width="0.14" >0.25</text>
<line x1="330.80" y1="44.40" x2="332.80" y2="44.40" stroke="#777" stroke-width="0.7" />
<text x="329.10" y="46.70" font-size="6.5" text-anchor="end" font-weight="normal" fill="#231f20" stroke="#231f20" stroke-width="0.14" >0.50</text>
<line x1="331.60" y1="81.90" x2="332.80" y2="81.90" stroke="#777" stroke-width="0.7" />
<line x1="331.60" y1="56.90" x2="332.80" y2="56.90" stroke="#777" stroke-width="0.7" />
<line x1="332.80" y1="95.40" x2="332.80" y2="97.40" stroke="#777" stroke-width="0.7" />
<text x="332.80" y="105.20" font-size="6.5" text-anchor="middle" font-weight="normal" fill="#231f20" stroke="#231f20" stroke-width="0.14" >0</text>
<line x1="345.66" y1="95.40" x2="345.66" y2="96.60" stroke="#777" stroke-width="0.7" />
<line x1="358.52" y1="95.40" x2="358.52" y2="97.40" stroke="#777" stroke-width="0.7" />
<text x="358.52" y="105.20" font-size="6.5" text-anchor="middle" font-weight="normal" fill="#231f20" stroke="#231f20" stroke-width="0.14" >100</text>
<line x1="371.38" y1="95.40" x2="371.38" y2="96.60" stroke="#777" stroke-width="0.7" />
<line x1="384.24" y1="95.40" x2="384.24" y2="97.40" stroke="#777" stroke-width="0.7" />
<text x="384.24" y="105.20" font-size="6.5" text-anchor="middle" font-weight="normal" fill="#231f20" stroke="#231f20" stroke-width="0.14" >200</text>
<line x1="397.10" y1="95.40" x2="397.10" y2="96.60" stroke="#777" stroke-width="0.7" />
<line x1="409.96" y1="95.40" x2="409.96" y2="97.40" stroke="#777" stroke-width="0.7" />
<text x="409.96" y="105.20" font-size="6.5" text-anchor="middle" font-weight="normal" fill="#231f20" stroke="#231f20" stroke-width="0.14" >300</text>
<polyline points="332.80,94.40 348.49,94.00 409.96,93.40" fill="none" stroke="#9ee52c" stroke-width="1.1" stroke-linejoin="round" stroke-linecap="round" />
<polyline points="332.80,94.40 348.49,93.60 409.96,93.00" fill="none" stroke="#9ee52c" stroke-width="1.1" stroke-linejoin="round" stroke-linecap="round" />
<polyline points="332.80,94.40 348.49,94.20 409.96,94.10" fill="none" stroke="#e8c040" stroke-width="1.1" stroke-linejoin="round" stroke-linecap="round" />
<polyline points="332.80,94.40 348.49,92.90 409.96,93.20" fill="none" stroke="#2fe09a" stroke-width="1.1" stroke-linejoin="round" stroke-linecap="round" />
<polyline points="332.80,94.40 348.49,92.40 409.96,92.70" fill="none" stroke="#2fe09a" stroke-width="1.1" stroke-linejoin="round" stroke-linecap="round" />
<polyline points="332.80,94.40 348.49,91.60 409.96,92.20" fill="none" stroke="#34ecf4" stroke-width="1.1" stroke-linejoin="round" stroke-linecap="round" />
<polyline points="332.80,94.40 348.49,90.90 409.96,91.40" fill="none" stroke="#28dcf2" stroke-width="1.1" stroke-linejoin="round" stroke-linecap="round" />
<polyline points="332.80,94.40 348.49,90.10 409.96,90.90" fill="none" stroke="#28dcf2" stroke-width="1.1" stroke-linejoin="round" stroke-linecap="round" />
<polyline points="332.80,94.40 348.49,89.40 409.96,90.40" fill="none" stroke="#2b8cee" stroke-width="1.1" stroke-linejoin="round" stroke-linecap="round" />
<polyline points="332.80,94.40 348.49,87.90 409.96,88.90" fill="none" stroke="#f0402a" stroke-width="1.1" stroke-linejoin="round" stroke-linecap="round" />
<polyline points="332.80,94.40 348.49,87.20 409.96,88.40" fill="none" stroke="#2b8cee" stroke-width="1.1" stroke-linejoin="round" stroke-linecap="round" />
<polyline points="332.80,94.40 348.49,85.40 409.96,87.80" fill="none" stroke="#2b8cee" stroke-width="1.1" stroke-linejoin="round" stroke-linecap="round" />
<polyline points="332.80,94.40 348.49,83.90 409.96,87.20" fill="none" stroke="#2040e0" stroke-width="1.1" stroke-linejoin="round" stroke-linecap="round" />
<polyline points="332.80,94.40 348.49,79.60 409.96,84.00" fill="none" stroke="#f0402a" stroke-width="1.1" stroke-linejoin="round" stroke-linecap="round" />
<polyline points="332.80,94.40 348.49,77.80 409.96,84.70" fill="none" stroke="#1d4e8a" stroke-width="1.5" stroke-linejoin="round" stroke-linecap="round" />
<line x1="545.50" y1="44.30" x2="545.50" y2="97.40" stroke="#777" stroke-width="0.7" />
<line x1="545.50" y1="95.40" x2="622.66" y2="95.40" stroke="#777" stroke-width="0.7" />
<line x1="543.50" y1="94.50" x2="545.50" y2="94.50" stroke="#777" stroke-width="0.7" />
<text x="541.80" y="96.80" font-size="6.5" text-anchor="end" font-weight="normal" fill="#231f20" stroke="#231f20" stroke-width="0.14" >0</text>
<line x1="543.50" y1="69.40" x2="545.50" y2="69.40" stroke="#777" stroke-width="0.7" />
<text x="541.80" y="71.70" font-size="6.5" text-anchor="end" font-weight="normal" fill="#231f20" stroke="#231f20" stroke-width="0.14" >0.25</text>
<line x1="543.50" y1="44.30" x2="545.50" y2="44.30" stroke="#777" stroke-width="0.7" />
<text x="541.80" y="46.60" font-size="6.5" text-anchor="end" font-weight="normal" fill="#231f20" stroke="#231f20" stroke-width="0.14" >0.50</text>
<line x1="544.30" y1="81.95" x2="545.50" y2="81.95" stroke="#777" stroke-width="0.7" />
<line x1="544.30" y1="56.85" x2="545.50" y2="56.85" stroke="#777" stroke-width="0.7" />
<line x1="545.50" y1="95.40" x2="545.50" y2="97.40" stroke="#777" stroke-width="0.7" />
<text x="545.50" y="105.20" font-size="6.5" text-anchor="middle" font-weight="normal" fill="#231f20" stroke="#231f20" stroke-width="0.14" >0</text>
<line x1="558.36" y1="95.40" x2="558.36" y2="96.60" stroke="#777" stroke-width="0.7" />
<line x1="571.22" y1="95.40" x2="571.22" y2="97.40" stroke="#777" stroke-width="0.7" />
<text x="571.22" y="105.20" font-size="6.5" text-anchor="middle" font-weight="normal" fill="#231f20" stroke="#231f20" stroke-width="0.14" >100</text>
<line x1="584.08" y1="95.40" x2="584.08" y2="96.60" stroke="#777" stroke-width="0.7" />
<line x1="596.94" y1="95.40" x2="596.94" y2="97.40" stroke="#777" stroke-width="0.7" />
<text x="596.94" y="105.20" font-size="6.5" text-anchor="middle" font-weight="normal" fill="#231f20" stroke="#231f20" stroke-width="0.14" >200</text>
<line x1="609.80" y1="95.40" x2="609.80" y2="96.60" stroke="#777" stroke-width="0.7" />
<line x1="622.66" y1="95.40" x2="622.66" y2="97.40" stroke="#777" stroke-width="0.7" />
<text x="622.66" y="105.20" font-size="6.5" text-anchor="middle" font-weight="normal" fill="#231f20" stroke="#231f20" stroke-width="0.14" >300</text>
<polyline points="545.50,95.00 622.66,94.00" fill="none" stroke="#9ee52c" stroke-width="1.5" stroke-linejoin="round" stroke-linecap="round" />
<polyline points="545.50,95.00 622.66,93.50" fill="none" stroke="#2fe09a" stroke-width="1.5" stroke-linejoin="round" stroke-linecap="round" />
<polyline points="545.50,95.00 622.66,90.99" fill="none" stroke="#34ecf4" stroke-width="1.5" stroke-linejoin="round" stroke-linecap="round" />
<polyline points="545.50,95.00 622.66,91.49" fill="none" stroke="#28dcf2" stroke-width="1.5" stroke-linejoin="round" stroke-linecap="round" />
<polyline points="545.50,95.00 622.66,91.99" fill="none" stroke="#2b8cee" stroke-width="1.5" stroke-linejoin="round" stroke-linecap="round" />
<polyline points="545.50,95.00 622.66,92.49" fill="none" stroke="#2040e0" stroke-width="1.5" stroke-linejoin="round" stroke-linecap="round" />
<polyline points="545.50,95.00 622.66,92.99" fill="none" stroke="#1d4e8a" stroke-width="1.5" stroke-linejoin="round" stroke-linecap="round" />
<text x="313.20" y="8.80" font-size="6.5" text-anchor="middle" font-weight="normal" fill="#231f20" stroke="#231f20" stroke-width="0.14" >Q23 NFL</text>
<text x="524.60" y="8.80" font-size="6.5" text-anchor="middle" font-weight="normal" fill="#231f20" stroke="#231f20" stroke-width="0.14" >ZM233 NFL</text>
<text x="265.30" y="23.60" font-size="6.5" text-anchor="middle" font-weight="normal" fill="#231f20" stroke="#231f20" stroke-width="0.14" >Mature RHA1</text>
<text x="371.50" y="23.60" font-size="6.5" text-anchor="middle" font-weight="normal" fill="#231f20" stroke="#231f20" stroke-width="0.14" >IgL RHA1</text>
<text x="477.60" y="23.60" font-size="6.5" text-anchor="middle" font-weight="normal" fill="#231f20" stroke="#231f20" stroke-width="0.14" >Mature RHA1</text>
<text x="583.70" y="23.60" font-size="6.5" text-anchor="middle" font-weight="normal" fill="#231f20" stroke="#231f20" stroke-width="0.14" >IgL RHA1</text>
<text x="265.2" y="33.9" font-size="6.5" text-anchor="middle" fill="#231f20"><tspan font-style="italic">K</tspan><tspan font-size="4.4" dy="1.3">D</tspan><tspan dy="-1.3"> = 2.7 × 10<tspan font-size="4.4" dy="-2.7">−10</tspan><tspan dy="2.7"> ± 1 × 10</tspan><tspan font-size="4.4" dy="-2.7">−10</tspan><tspan dy="2.7"> nM</tspan></tspan></text>
<text x="371.3" y="33.9" font-size="6.5" text-anchor="middle" fill="#231f20"><tspan font-style="italic">K</tspan><tspan font-size="4.4" dy="1.3">D</tspan><tspan dy="-1.3"> = 1.6 × 10<tspan font-size="4.4" dy="-2.7">−6</tspan><tspan dy="2.7"> ± 0.7 × 10</tspan><tspan font-size="4.4" dy="-2.7">−6</tspan><tspan dy="2.7"> nM</tspan></tspan></text>
<text x="477.9" y="33.9" font-size="6.5" text-anchor="middle" fill="#231f20"><tspan font-style="italic">K</tspan><tspan font-size="4.4" dy="1.3">D</tspan><tspan dy="-1.3"> = 3 × 10<tspan font-size="4.4" dy="-2.7">−10</tspan><tspan dy="2.7"> ± 1 × 10</tspan><tspan font-size="4.4" dy="-2.7">−10</tspan><tspan dy="2.7"> nM</tspan></tspan></text>
<text x="583.6" y="33.9" font-size="6.5" text-anchor="middle" fill="#231f20"><tspan font-style="italic">K</tspan><tspan font-size="4.4" dy="1.3">D</tspan><tspan dy="-1.3"> = no binding</tspan></text>
<text x="322.00" y="115.80" font-size="6.3" text-anchor="middle" font-weight="normal" fill="#231f20" stroke="#231f20" stroke-width="0.14" >Time (s)</text>
<text x="531.70" y="115.80" font-size="6.3" text-anchor="middle" font-weight="normal" fill="#231f20" stroke="#231f20" stroke-width="0.14" >Time (s)</text>
<text transform="translate(203.4,70.3) rotate(-90)" font-size="6.3" text-anchor="middle" fill="#231f20">BLI response (nm)</text>
<line x1="628.00" y1="36.30" x2="640.60" y2="36.30" stroke="#1d4e8a" stroke-width="1.3" />
<text x="644" y="38.50" font-size="6.3" fill="#231f20">400 μg ml<tspan font-size="4.2" dy="-2.4">−1</tspan></text>
<line x1="628.00" y1="44.45" x2="640.60" y2="44.45" stroke="#2040e0" stroke-width="1.3" />
<text x="644" y="46.65" font-size="6.3" fill="#231f20">200 μg ml<tspan font-size="4.2" dy="-2.4">−1</tspan></text>
<line x1="628.00" y1="52.60" x2="640.60" y2="52.60" stroke="#2b8cee" stroke-width="1.3" />
<text x="644" y="54.80" font-size="6.3" fill="#231f20">100 μg ml<tspan font-size="4.2" dy="-2.4">−1</tspan></text>
<line x1="628.00" y1="60.75" x2="640.60" y2="60.75" stroke="#28dcf2" stroke-width="1.3" />
<text x="644" y="62.95" font-size="6.3" fill="#231f20">50 μg ml<tspan font-size="4.2" dy="-2.4">−1</tspan></text>
<line x1="628.00" y1="68.90" x2="640.60" y2="68.90" stroke="#34ecf4" stroke-width="1.3" />
<text x="644" y="71.10" font-size="6.3" fill="#231f20">25 μg ml<tspan font-size="4.2" dy="-2.4">−1</tspan></text>
<line x1="628.00" y1="77.05" x2="640.60" y2="77.05" stroke="#2fe09a" stroke-width="1.3" />
<text x="644" y="79.25" font-size="6.3" fill="#231f20">12.5 μg ml<tspan font-size="4.2" dy="-2.4">−1</tspan></text>
<line x1="628.00" y1="85.20" x2="640.60" y2="85.20" stroke="#9ee52c" stroke-width="1.3" />
<text x="644" y="87.40" font-size="6.3" fill="#231f20">6.25 μg ml<tspan font-size="4.2" dy="-2.4">−1</tspan></text>
<defs>
<radialGradient id="gA" cx="0.35" cy="0.3" r="0.8"><stop offset="0" stop-color="#dcdcdc"/><stop offset="0.55" stop-color="#a4a4a4"/><stop offset="1" stop-color="#5e5e5e"/></radialGradient>
<radialGradient id="gB" cx="0.4" cy="0.35" r="0.75"><stop offset="0" stop-color="#d2d2d2"/><stop offset="0.6" stop-color="#9a9a9a"/><stop offset="1" stop-color="#666"/></radialGradient>
<linearGradient id="gDisc" x1="0" y1="0" x2="0" y2="1"><stop offset="0" stop-color="#a9a9a9"/><stop offset="0.35" stop-color="#c4c4c4"/><stop offset="0.7" stop-color="#bdbdbd"/><stop offset="1" stop-color="#8c8c8c"/></linearGradient>
<linearGradient id="gLow" x1="0" y1="0" x2="0" y2="1"><stop offset="0" stop-color="#7a7a7a"/><stop offset="0.4" stop-color="#a2a2a2"/><stop offset="1" stop-color="#6e6e6e"/></linearGradient>
<radialGradient id="gTop" cx="0.45" cy="0.45" r="0.6"><stop offset="0" stop-color="#c9c9c9"/><stop offset="0.8" stop-color="#bcbcbc"/><stop offset="1" stop-color="#9a9a9a"/></radialGradient>
<radialGradient id="gLobe" cx="0.5" cy="0.4" r="0.7"><stop offset="0" stop-color="#8d8d8d"/><stop offset="0.7" stop-color="#9f9f9f"/><stop offset="1" stop-color="#777"/></radialGradient>
<radialGradient id="gCen" cx="0.45" cy="0.4" r="0.6"><stop offset="0" stop-color="#d8d8d8"/><stop offset="1" stop-color="#a5a5a5"/></radialGradient>
</defs>
<filter id="blur1" x="-0.3" y="-0.3" width="1.6" height="1.6"><feGaussianBlur stdDeviation="1.0"/></filter>
<filter id="blur2" x="-0.3" y="-0.3" width="1.6" height="1.6"><feGaussianBlur stdDeviation="1.8"/></filter>
<clipPath id="clLow"><path d="M25.20,86.00 C25.93,84.50 26.70,82.17 30.00,81.00 C33.30,79.83 40.00,79.42 45.00,79.00 C50.00,78.58 55.00,78.50 60.00,78.50 C65.00,78.50 70.00,78.58 75.00,79.00 C80.00,79.42 86.90,79.83 90.00,81.00 C93.10,82.17 93.03,84.83 93.60,86.00 C94.17,87.17 93.58,87.17 93.40,88.00 C93.22,88.83 92.98,90.08 92.50,91.00 C92.02,91.92 91.25,92.75 90.50,93.50 C89.75,94.25 89.08,95.00 88.00,95.50 C86.92,96.00 85.33,96.00 84.00,96.50 C82.67,97.00 81.50,98.08 80.00,98.50 C78.50,98.92 76.67,98.67 75.00,99.00 C73.33,99.33 71.83,100.30 70.00,100.50 C68.17,100.70 66.00,100.10 64.00,100.20 C62.00,100.30 60.00,101.05 58.00,101.10 C56.00,101.15 54.00,100.65 52.00,100.50 C50.00,100.35 48.00,100.53 46.00,100.20 C44.00,99.87 41.83,98.90 40.00,98.50 C38.17,98.10 36.67,98.30 35.00,97.80 C33.33,97.30 31.33,96.38 30.00,95.50 C28.67,94.62 27.73,93.42 27.00,92.50 C26.27,91.58 25.90,91.08 25.60,90.00 C25.30,88.92 24.47,87.50 25.20,86.00 Z"/></clipPath>
<g clip-path="url(#clLow)"><path d="M25.20,86.00 C25.93,84.50 26.70,82.17 30.00,81.00 C33.30,79.83 40.00,79.42 45.00,79.00 C50.00,78.58 55.00,78.50 60.00,78.50 C65.00,78.50 70.00,78.58 75.00,79.00 C80.00,79.42 86.90,79.83 90.00,81.00 C93.10,82.17 93.03,84.83 93.60,86.00 C94.17,87.17 93.58,87.17 93.40,88.00 C93.22,88.83 92.98,90.08 92.50,91.00 C92.02,91.92 91.25,92.75 90.50,93.50 C89.75,94.25 89.08,95.00 88.00,95.50 C86.92,96.00 85.33,96.00 84.00,96.50 C82.67,97.00 81.50,98.08 80.00,98.50 C78.50,98.92 76.67,98.67 75.00,99.00 C73.33,99.33 71.83,100.30 70.00,100.50 C68.17,100.70 66.00,100.10 64.00,100.20 C62.00,100.30 60.00,101.05 58.00,101.10 C56.00,101.15 54.00,100.65 52.00,100.50 C50.00,100.35 48.00,100.53 46.00,100.20 C44.00,99.87 41.83,98.90 40.00,98.50 C38.17,98.10 36.67,98.30 35.00,97.80 C33.33,97.30 31.33,96.38 30.00,95.50 C28.67,94.62 27.73,93.42 27.00,92.50 C26.27,91.58 25.90,91.08 25.60,90.00 C25.30,88.92 24.47,87.50 25.20,86.00 Z" fill="#9a9a9a"/>
<ellipse cx="60" cy="91" rx="30" ry="4" fill="#b4b4b4" filter="url(#blur1)"/>
<ellipse cx="34" cy="93" rx="4.5" ry="2.2" fill="#acacac" filter="url(#blur1)"/>
<ellipse cx="46" cy="95.5" rx="4.5" ry="2.2" fill="#acacac" filter="url(#blur1)"/>
<ellipse cx="58" cy="96.5" rx="4.5" ry="2.2" fill="#acacac" filter="url(#blur1)"/>
<ellipse cx="70" cy="95.5" rx="4.5" ry="2.2" fill="#acacac" filter="url(#blur1)"/>
<ellipse cx="82" cy="93.5" rx="4.5" ry="2.2" fill="#acacac" filter="url(#blur1)"/>
<path d="M25.20,86.00 C25.93,84.50 26.70,82.17 30.00,81.00 C33.30,79.83 40.00,79.42 45.00,79.00 C50.00,78.58 55.00,78.50 60.00,78.50 C65.00,78.50 70.00,78.58 75.00,79.00 C80.00,79.42 86.90,79.83 90.00,81.00 C93.10,82.17 93.03,84.83 93.60,86.00 C94.17,87.17 93.58,87.17 93.40,88.00 C93.22,88.83 92.98,90.08 92.50,91.00 C92.02,91.92 91.25,92.75 90.50,93.50 C89.75,94.25 89.08,95.00 88.00,95.50 C86.92,96.00 85.33,96.00 84.00,96.50 C82.67,97.00 81.50,98.08 80.00,98.50 C78.50,98.92 76.67,98.67 75.00,99.00 C73.33,99.33 71.83,100.30 70.00,100.50 C68.17,100.70 66.00,100.10 64.00,100.20 C62.00,100.30 60.00,101.05 58.00,101.10 C56.00,101.15 54.00,100.65 52.00,100.50 C50.00,100.35 48.00,100.53 46.00,100.20 C44.00,99.87 41.83,98.90 40.00,98.50 C38.17,98.10 36.67,98.30 35.00,97.80 C33.33,97.30 31.33,96.38 30.00,95.50 C28.67,94.62 27.73,93.42 27.00,92.50 C26.27,91.58 25.90,91.08 25.60,90.00 C25.30,88.92 24.47,87.50 25.20,86.00 Z" fill="none" stroke="#6a6a6a" stroke-width="2.6" filter="url(#blur1)"/>
</g>
<clipPath id="clDisc"><ellipse cx="60.2" cy="77.8" rx="37.5" ry="10.4"/></clipPath>
<g clip-path="url(#clDisc)"><ellipse cx="60.2" cy="77.8" rx="37.5" ry="10.4" fill="#adadad"/>
<ellipse cx="60.2" cy="80" rx="32" ry="6.5" fill="#c6c6c6" filter="url(#blur1)"/>
<ellipse cx="60.2" cy="72.5" rx="28" ry="3.2" fill="#b4b4b4" filter="url(#blur1)"/>
<ellipse cx="60.2" cy="77.8" rx="37.5" ry="10.4" fill="none" stroke="#7e7e7e" stroke-width="2.4" filter="url(#blur1)"/>
</g>
<ellipse cx="60" cy="69" rx="8" ry="3" fill="#b8b8b8" filter="url(#blur1)"/>
<clipPath id="clSp"><path d="M33.40,48.10 C33.57,46.53 34.50,44.08 35.40,42.20 C36.30,40.32 37.57,38.62 38.80,36.80 C40.03,34.98 41.48,32.87 42.80,31.30 C44.12,29.73 45.22,28.27 46.70,27.40 C48.18,26.53 50.05,26.10 51.70,26.10 C53.35,26.10 54.97,27.27 56.60,27.40 C58.23,27.53 59.70,27.07 61.50,26.90 C63.30,26.73 65.42,26.15 67.40,26.40 C69.38,26.65 71.42,27.33 73.40,28.40 C75.38,29.47 77.58,31.23 79.30,32.80 C81.02,34.37 82.75,36.15 83.70,37.80 C84.65,39.45 85.00,41.07 85.00,42.70 C85.00,44.33 84.48,46.28 83.70,47.60 C82.92,48.92 81.53,49.78 80.30,50.60 C79.07,51.42 77.28,51.35 76.30,52.50 C75.32,53.65 74.72,55.85 74.40,57.50 C74.08,59.15 74.90,61.08 74.40,62.40 C73.90,63.72 72.88,64.50 71.40,65.40 C69.92,66.30 67.80,67.33 65.50,67.80 C63.20,68.27 60.07,68.45 57.60,68.20 C55.13,67.95 52.52,67.10 50.70,66.30 C48.88,65.50 47.60,64.55 46.70,63.40 C45.80,62.25 45.95,60.55 45.30,59.40 C44.65,58.25 44.03,57.40 42.80,56.50 C41.57,55.60 39.30,54.82 37.90,54.00 C36.50,53.18 35.15,52.58 34.40,51.60 C33.65,50.62 33.23,49.67 33.40,48.10 Z"/></clipPath>
<g clip-path="url(#clSp)"><path d="M33.40,48.10 C33.57,46.53 34.50,44.08 35.40,42.20 C36.30,40.32 37.57,38.62 38.80,36.80 C40.03,34.98 41.48,32.87 42.80,31.30 C44.12,29.73 45.22,28.27 46.70,27.40 C48.18,26.53 50.05,26.10 51.70,26.10 C53.35,26.10 54.97,27.27 56.60,27.40 C58.23,27.53 59.70,27.07 61.50,26.90 C63.30,26.73 65.42,26.15 67.40,26.40 C69.38,26.65 71.42,27.33 73.40,28.40 C75.38,29.47 77.58,31.23 79.30,32.80 C81.02,34.37 82.75,36.15 83.70,37.80 C84.65,39.45 85.00,41.07 85.00,42.70 C85.00,44.33 84.48,46.28 83.70,47.60 C82.92,48.92 81.53,49.78 80.30,50.60 C79.07,51.42 77.28,51.35 76.30,52.50 C75.32,53.65 74.72,55.85 74.40,57.50 C74.08,59.15 74.90,61.08 74.40,62.40 C73.90,63.72 72.88,64.50 71.40,65.40 C69.92,66.30 67.80,67.33 65.50,67.80 C63.20,68.27 60.07,68.45 57.60,68.20 C55.13,67.95 52.52,67.10 50.70,66.30 C48.88,65.50 47.60,64.55 46.70,63.40 C45.80,62.25 45.95,60.55 45.30,59.40 C44.65,58.25 44.03,57.40 42.80,56.50 C41.57,55.60 39.30,54.82 37.90,54.00 C36.50,53.18 35.15,52.58 34.40,51.60 C33.65,50.62 33.23,49.67 33.40,48.10 Z" fill="#8c8c8c"/>
<ellipse cx="41" cy="43" rx="6" ry="11" fill="#a8a8a8" transform="rotate(35 41 43)" filter="url(#blur1)"/>
<ellipse cx="44" cy="34" rx="3" ry="4" fill="#b4b4b4" filter="url(#blur1)"/>
<ellipse cx="76" cy="32" rx="5" ry="3" fill="#a6a6a6" filter="url(#blur1)"/>
<ellipse cx="77" cy="39" rx="6" ry="9" fill="#9c9c9c" filter="url(#blur1)"/>
<path d="M66,30 C69,35 70,41 69,46" fill="none" stroke="#4e4e4e" stroke-width="2.2" filter="url(#blur1)"/>
<ellipse cx="60" cy="63" rx="12" ry="4.5" fill="#6e6e6e" filter="url(#blur1)"/>
<ellipse cx="58" cy="60" rx="8" ry="2.5" fill="#8e8e8e" filter="url(#blur1)"/>
<path d="M33.40,48.10 C33.57,46.53 34.50,44.08 35.40,42.20 C36.30,40.32 37.57,38.62 38.80,36.80 C40.03,34.98 41.48,32.87 42.80,31.30 C44.12,29.73 45.22,28.27 46.70,27.40 C48.18,26.53 50.05,26.10 51.70,26.10 C53.35,26.10 54.97,27.27 56.60,27.40 C58.23,27.53 59.70,27.07 61.50,26.90 C63.30,26.73 65.42,26.15 67.40,26.40 C69.38,26.65 71.42,27.33 73.40,28.40 C75.38,29.47 77.58,31.23 79.30,32.80 C81.02,34.37 82.75,36.15 83.70,37.80 C84.65,39.45 85.00,41.07 85.00,42.70 C85.00,44.33 84.48,46.28 83.70,47.60 C82.92,48.92 81.53,49.78 80.30,50.60 C79.07,51.42 77.28,51.35 76.30,52.50 C75.32,53.65 74.72,55.85 74.40,57.50 C74.08,59.15 74.90,61.08 74.40,62.40 C73.90,63.72 72.88,64.50 71.40,65.40 C69.92,66.30 67.80,67.33 65.50,67.80 C63.20,68.27 60.07,68.45 57.60,68.20 C55.13,67.95 52.52,67.10 50.70,66.30 C48.88,65.50 47.60,64.55 46.70,63.40 C45.80,62.25 45.95,60.55 45.30,59.40 C44.65,58.25 44.03,57.40 42.80,56.50 C41.57,55.60 39.30,54.82 37.90,54.00 C36.50,53.18 35.15,52.58 34.40,51.60 C33.65,50.62 33.23,49.67 33.40,48.10 Z" fill="none" stroke="#5e5e5e" stroke-width="1.8" filter="url(#blur1)"/>
</g>
<radialGradient id="gFront" gradientUnits="userSpaceOnUse" cx="54" cy="39" r="24"><stop offset="0" stop-color="#d2d2d2"/><stop offset="0.4" stop-color="#b2b2b2"/><stop offset="0.8" stop-color="#989898"/><stop offset="1" stop-color="#7a7a7a"/></radialGradient>
<path d="M46.70,39.20 C47.20,37.38 48.38,34.52 49.70,32.80 C51.02,31.08 52.80,29.63 54.60,28.90 C56.40,28.17 58.68,28.08 60.50,28.40 C62.32,28.72 64.58,29.57 65.50,30.80 C66.42,32.03 66.00,34.15 66.00,35.80 C66.00,37.45 64.93,39.22 65.50,40.70 C66.07,42.18 67.92,43.38 69.40,44.70 C70.88,46.02 73.25,47.13 74.40,48.60 C75.55,50.07 76.47,52.18 76.30,53.50 C76.13,54.82 74.88,55.75 73.40,56.50 C71.92,57.25 69.55,57.92 67.40,58.00 C65.25,58.08 62.80,57.75 60.50,57.00 C58.20,56.25 55.57,54.90 53.60,53.50 C51.63,52.10 49.85,50.23 48.70,48.60 C47.55,46.97 47.03,45.27 46.70,43.70 C46.37,42.13 46.20,41.02 46.70,39.20 Z" fill="none" stroke="#505050" stroke-width="2.0" filter="url(#blur1)" clip-path="url(#clSp)"/>
<path d="M46.70,39.20 C47.20,37.38 48.38,34.52 49.70,32.80 C51.02,31.08 52.80,29.63 54.60,28.90 C56.40,28.17 58.68,28.08 60.50,28.40 C62.32,28.72 64.58,29.57 65.50,30.80 C66.42,32.03 66.00,34.15 66.00,35.80 C66.00,37.45 64.93,39.22 65.50,40.70 C66.07,42.18 67.92,43.38 69.40,44.70 C70.88,46.02 73.25,47.13 74.40,48.60 C75.55,50.07 76.47,52.18 76.30,53.50 C76.13,54.82 74.88,55.75 73.40,56.50 C71.92,57.25 69.55,57.92 67.40,58.00 C65.25,58.08 62.80,57.75 60.50,57.00 C58.20,56.25 55.57,54.90 53.60,53.50 C51.63,52.10 49.85,50.23 48.70,48.60 C47.55,46.97 47.03,45.27 46.70,43.70 C46.37,42.13 46.20,41.02 46.70,39.20 Z" fill="url(#gFront)"/>
<circle cx="52.3" cy="41.3" r="1.1" fill="#e6e6e6" filter="url(#blur1)"/>
<radialGradient id="gTV" gradientUnits="userSpaceOnUse" cx="142" cy="55" r="33"><stop offset="0" stop-color="#c6c6c6"/><stop offset="0.8" stop-color="#bababa"/><stop offset="1" stop-color="#a2a2a2"/></radialGradient>
<circle cx="144.9" cy="58.9" r="31.6" fill="url(#gTV)"/>
<circle cx="144.9" cy="58.9" r="31.0" fill="none" stroke="#a8a8a8" stroke-width="1.2" filter="url(#blur1)"/>
<clipPath id="clTV"><path d="M120.60,57.20 C120.27,55.43 120.63,52.33 121.30,49.90 C121.97,47.47 123.17,44.48 124.60,42.60 C126.03,40.72 127.90,39.15 129.90,38.60 C131.90,38.05 134.60,38.42 136.60,39.30 C138.60,40.18 140.47,42.68 141.90,43.90 C143.33,45.12 144.10,46.60 145.20,46.60 C146.30,46.60 147.50,45.12 148.50,43.90 C149.50,42.68 149.98,40.40 151.20,39.30 C152.42,38.20 154.03,37.30 155.80,37.30 C157.57,37.30 160.13,37.98 161.80,39.30 C163.47,40.62 164.80,42.88 165.80,45.20 C166.80,47.52 167.58,50.98 167.80,53.20 C168.02,55.42 167.88,56.95 167.10,58.50 C166.32,60.05 164.77,61.62 163.10,62.50 C161.43,63.38 158.20,62.68 157.10,63.80 C156.00,64.92 156.50,67.42 156.50,69.20 C156.50,70.98 157.22,72.85 157.10,74.50 C156.98,76.15 157.02,78.00 155.80,79.10 C154.58,80.20 152.12,80.77 149.80,81.10 C147.48,81.43 144.33,81.32 141.90,81.10 C139.47,80.88 136.87,80.68 135.20,79.80 C133.53,78.92 132.33,77.57 131.90,75.80 C131.47,74.03 132.38,71.20 132.60,69.20 C132.82,67.20 133.87,65.13 133.20,63.80 C132.53,62.47 130.25,61.75 128.60,61.20 C126.95,60.65 124.63,61.17 123.30,60.50 C121.97,59.83 120.93,58.97 120.60,57.20 Z"/></clipPath>
<g clip-path="url(#clTV)"><path d="M120.60,57.20 C120.27,55.43 120.63,52.33 121.30,49.90 C121.97,47.47 123.17,44.48 124.60,42.60 C126.03,40.72 127.90,39.15 129.90,38.60 C131.90,38.05 134.60,38.42 136.60,39.30 C138.60,40.18 140.47,42.68 141.90,43.90 C143.33,45.12 144.10,46.60 145.20,46.60 C146.30,46.60 147.50,45.12 148.50,43.90 C149.50,42.68 149.98,40.40 151.20,39.30 C152.42,38.20 154.03,37.30 155.80,37.30 C157.57,37.30 160.13,37.98 161.80,39.30 C163.47,40.62 164.80,42.88 165.80,45.20 C166.80,47.52 167.58,50.98 167.80,53.20 C168.02,55.42 167.88,56.95 167.10,58.50 C166.32,60.05 164.77,61.62 163.10,62.50 C161.43,63.38 158.20,62.68 157.10,63.80 C156.00,64.92 156.50,67.42 156.50,69.20 C156.50,70.98 157.22,72.85 157.10,74.50 C156.98,76.15 157.02,78.00 155.80,79.10 C154.58,80.20 152.12,80.77 149.80,81.10 C147.48,81.43 144.33,81.32 141.90,81.10 C139.47,80.88 136.87,80.68 135.20,79.80 C133.53,78.92 132.33,77.57 131.90,75.80 C131.47,74.03 132.38,71.20 132.60,69.20 C132.82,67.20 133.87,65.13 133.20,63.80 C132.53,62.47 130.25,61.75 128.60,61.20 C126.95,60.65 124.63,61.17 123.30,60.50 C121.97,59.83 120.93,58.97 120.60,57.20 Z" fill="#9e9e9e"/>
<ellipse cx="128" cy="48" rx="4" ry="6" fill="#b0b0b0" transform="rotate(35 128 48)" filter="url(#blur1)"/>
<ellipse cx="160" cy="47" rx="4" ry="6" fill="#b0b0b0" transform="rotate(-30 160 47)" filter="url(#blur1)"/>
<ellipse cx="145" cy="77" rx="7" ry="3" fill="#aaaaaa" filter="url(#blur1)"/>
<path d="M120.60,57.20 C120.27,55.43 120.63,52.33 121.30,49.90 C121.97,47.47 123.17,44.48 124.60,42.60 C126.03,40.72 127.90,39.15 129.90,38.60 C131.90,38.05 134.60,38.42 136.60,39.30 C138.60,40.18 140.47,42.68 141.90,43.90 C143.33,45.12 144.10,46.60 145.20,46.60 C146.30,46.60 147.50,45.12 148.50,43.90 C149.50,42.68 149.98,40.40 151.20,39.30 C152.42,38.20 154.03,37.30 155.80,37.30 C157.57,37.30 160.13,37.98 161.80,39.30 C163.47,40.62 164.80,42.88 165.80,45.20 C166.80,47.52 167.58,50.98 167.80,53.20 C168.02,55.42 167.88,56.95 167.10,58.50 C166.32,60.05 164.77,61.62 163.10,62.50 C161.43,63.38 158.20,62.68 157.10,63.80 C156.00,64.92 156.50,67.42 156.50,69.20 C156.50,70.98 157.22,72.85 157.10,74.50 C156.98,76.15 157.02,78.00 155.80,79.10 C154.58,80.20 152.12,80.77 149.80,81.10 C147.48,81.43 144.33,81.32 141.90,81.10 C139.47,80.88 136.87,80.68 135.20,79.80 C133.53,78.92 132.33,77.57 131.90,75.80 C131.47,74.03 132.38,71.20 132.60,69.20 C132.82,67.20 133.87,65.13 133.20,63.80 C132.53,62.47 130.25,61.75 128.60,61.20 C126.95,60.65 124.63,61.17 123.30,60.50 C121.97,59.83 120.93,58.97 120.60,57.20 Z" fill="none" stroke="#6c6c6c" stroke-width="2.6" filter="url(#blur1)"/>
<ellipse cx="145.5" cy="60" rx="10" ry="11" fill="#bdbdbd" filter="url(#blur2)"/>
<ellipse cx="133.5" cy="59.5" rx="2.5" ry="3" fill="#5a5a5a" filter="url(#blur1)"/>
<ellipse cx="155" cy="63" rx="2" ry="2" fill="#7a7a7a" filter="url(#blur1)"/>
<ellipse cx="141" cy="62" rx="2" ry="1.2" fill="#e0e0e0" filter="url(#blur1)"/>
<path d="M139,55 C142,57 144,60 143,66" fill="none" stroke="#8a8a8a" stroke-width="1.2" filter="url(#blur1)"/>
<path d="M150,52 C148,55 148,58 150,61" fill="none" stroke="#949494" stroke-width="1.0" filter="url(#blur1)"/>
</g>
<circle cx="144.9" cy="58.5" r="14.6" fill="none" stroke="#e8101c" stroke-width="1.7"/>
<text x="58.20" y="19.30" font-size="6.4" text-anchor="middle" font-weight="normal" fill="#231f20" stroke="#231f20" stroke-width="0.14" >Env spike</text>
<text x="59.40" y="83.00" font-size="6.4" text-anchor="middle" font-weight="normal" fill="#231f20" stroke="#231f20" stroke-width="0.14" >Membrane</text>
<text x="60.90" y="110.00" font-size="6.4" text-anchor="middle" font-weight="normal" fill="#231f20" stroke="#231f20" stroke-width="0.14" >Side view</text>
<text x="144.70" y="19.20" font-size="6.4" text-anchor="middle" font-weight="normal" fill="#231f20" stroke="#231f20" stroke-width="0.14" >Trimer apex</text>
<text x="147.50" y="108.30" font-size="6.4" text-anchor="middle" font-weight="normal" fill="#231f20" stroke="#231f20" stroke-width="0.14" >Top view</text>
<text x="48.10" y="142.30" font-size="6.4" text-anchor="middle" font-weight="normal" fill="#231f20" stroke="#231f20" stroke-width="0.14" >Covalent conjugation</text>
<circle cx="24.5" cy="173.6" r="18.4" fill="none" stroke="#fef1dd" stroke-width="9.2"/>
<line x1="39.10" y1="173.60" x2="46.70" y2="173.60" stroke="#f9dcae" stroke-width="0.4" />
<line x1="39.03" y1="175.03" x2="46.59" y2="175.78" stroke="#f9dcae" stroke-width="0.4" />
<line x1="38.82" y1="176.45" x2="46.27" y2="177.93" stroke="#f9dcae" stroke-width="0.4" />
<line x1="38.47" y1="177.84" x2="45.74" y2="180.04" stroke="#f9dcae" stroke-width="0.4" />
<line x1="37.99" y1="179.19" x2="45.01" y2="182.10" stroke="#f9dcae" stroke-width="0.4" />
<line x1="37.38" y1="180.48" x2="44.08" y2="184.07" stroke="#f9dcae" stroke-width="0.4" />
<line x1="36.64" y1="181.71" x2="42.96" y2="185.93" stroke="#f9dcae" stroke-width="0.4" />
<line x1="35.79" y1="182.86" x2="41.66" y2="187.68" stroke="#f9dcae" stroke-width="0.4" />
<line x1="34.82" y1="183.92" x2="40.20" y2="189.30" stroke="#f9dcae" stroke-width="0.4" />
<line x1="33.76" y1="184.89" x2="38.58" y2="190.76" stroke="#f9dcae" stroke-width="0.4" />
<line x1="32.61" y1="185.74" x2="36.83" y2="192.06" stroke="#f9dcae" stroke-width="0.4" />
<line x1="31.38" y1="186.48" x2="34.97" y2="193.18" stroke="#f9dcae" stroke-width="0.4" />
<line x1="30.09" y1="187.09" x2="33.00" y2="194.11" stroke="#f9dcae" stroke-width="0.4" />
<line x1="28.74" y1="187.57" x2="30.94" y2="194.84" stroke="#f9dcae" stroke-width="0.4" />
<line x1="27.35" y1="187.92" x2="28.83" y2="195.37" stroke="#f9dcae" stroke-width="0.4" />
<line x1="25.93" y1="188.13" x2="26.68" y2="195.69" stroke="#f9dcae" stroke-width="0.4" />
<line x1="24.50" y1="188.20" x2="24.50" y2="195.80" stroke="#f9dcae" stroke-width="0.4" />
<line x1="23.07" y1="188.13" x2="22.32" y2="195.69" stroke="#f9dcae" stroke-width="0.4" />
<line x1="21.65" y1="187.92" x2="20.17" y2="195.37" stroke="#f9dcae" stroke-width="0.4" />
<line x1="20.26" y1="187.57" x2="18.06" y2="194.84" stroke="#f9dcae" stroke-width="0.4" />
<line x1="18.91" y1="187.09" x2="16.00" y2="194.11" stroke="#f9dcae" stroke-width="0.4" />
<line x1="17.62" y1="186.48" x2="14.03" y2="193.18" stroke="#f9dcae" stroke-width="0.4" />
<line x1="16.39" y1="185.74" x2="12.17" y2="192.06" stroke="#f9dcae" stroke-width="0.4" />
<line x1="15.24" y1="184.89" x2="10.42" y2="190.76" stroke="#f9dcae" stroke-width="0.4" />
<line x1="14.18" y1="183.92" x2="8.80" y2="189.30" stroke="#f9dcae" stroke-width="0.4" />
<line x1="13.21" y1="182.86" x2="7.34" y2="187.68" stroke="#f9dcae" stroke-width="0.4" />
<line x1="12.36" y1="181.71" x2="6.04" y2="185.93" stroke="#f9dcae" stroke-width="0.4" />
<line x1="11.62" y1="180.48" x2="4.92" y2="184.07" stroke="#f9dcae" stroke-width="0.4" />
<line x1="11.01" y1="179.19" x2="3.99" y2="182.10" stroke="#f9dcae" stroke-width="0.4" />
<line x1="10.53" y1="177.84" x2="3.26" y2="180.04" stroke="#f9dcae" stroke-width="0.4" />
<line x1="10.18" y1="176.45" x2="2.73" y2="177.93" stroke="#f9dcae" stroke-width="0.4" />
<line x1="9.97" y1="175.03" x2="2.41" y2="175.78" stroke="#f9dcae" stroke-width="0.4" />
<line x1="9.90" y1="173.60" x2="2.30" y2="173.60" stroke="#f9dcae" stroke-width="0.4" />
<line x1="9.97" y1="172.17" x2="2.41" y2="171.42" stroke="#f9dcae" stroke-width="0.4" />
<line x1="10.18" y1="170.75" x2="2.73" y2="169.27" stroke="#f9dcae" stroke-width="0.4" />
<line x1="10.53" y1="169.36" x2="3.26" y2="167.16" stroke="#f9dcae" stroke-width="0.4" />
<line x1="11.01" y1="168.01" x2="3.99" y2="165.10" stroke="#f9dcae" stroke-width="0.4" />
<line x1="11.62" y1="166.72" x2="4.92" y2="163.13" stroke="#f9dcae" stroke-width="0.4" />
<line x1="12.36" y1="165.49" x2="6.04" y2="161.27" stroke="#f9dcae" stroke-width="0.4" />
<line x1="13.21" y1="164.34" x2="7.34" y2="159.52" stroke="#f9dcae" stroke-width="0.4" />
<line x1="14.18" y1="163.28" x2="8.80" y2="157.90" stroke="#f9dcae" stroke-width="0.4" />
<line x1="15.24" y1="162.31" x2="10.42" y2="156.44" stroke="#f9dcae" stroke-width="0.4" />
<line x1="16.39" y1="161.46" x2="12.17" y2="155.14" stroke="#f9dcae" stroke-width="0.4" />
<line x1="17.62" y1="160.72" x2="14.03" y2="154.02" stroke="#f9dcae" stroke-width="0.4" />
<line x1="18.91" y1="160.11" x2="16.00" y2="153.09" stroke="#f9dcae" stroke-width="0.4" />
<line x1="20.26" y1="159.63" x2="18.06" y2="152.36" stroke="#f9dcae" stroke-width="0.4" />
<line x1="21.65" y1="159.28" x2="20.17" y2="151.83" stroke="#f9dcae" stroke-width="0.4" />
<line x1="23.07" y1="159.07" x2="22.32" y2="151.51" stroke="#f9dcae" stroke-width="0.4" />
<line x1="24.50" y1="159.00" x2="24.50" y2="151.40" stroke="#f9dcae" stroke-width="0.4" />
<line x1="25.93" y1="159.07" x2="26.68" y2="151.51" stroke="#f9dcae" stroke-width="0.4" />
<line x1="27.35" y1="159.28" x2="28.83" y2="151.83" stroke="#f9dcae" stroke-width="0.4" />
<line x1="28.74" y1="159.63" x2="30.94" y2="152.36" stroke="#f9dcae" stroke-width="0.4" />
<line x1="30.09" y1="160.11" x2="33.00" y2="153.09" stroke="#f9dcae" stroke-width="0.4" />
<line x1="31.38" y1="160.72" x2="34.97" y2="154.02" stroke="#f9dcae" stroke-width="0.4" />
<line x1="32.61" y1="161.46" x2="36.83" y2="155.14" stroke="#f9dcae" stroke-width="0.4" />
<line x1="33.76" y1="162.31" x2="38.58" y2="156.44" stroke="#f9dcae" stroke-width="0.4" />
<line x1="34.82" y1="163.28" x2="40.20" y2="157.90" stroke="#f9dcae" stroke-width="0.4" />
<line x1="35.79" y1="164.34" x2="41.66" y2="159.52" stroke="#f9dcae" stroke-width="0.4" />
<line x1="36.64" y1="165.49" x2="42.96" y2="161.27" stroke="#f9dcae" stroke-width="0.4" />
<line x1="37.38" y1="166.72" x2="44.08" y2="163.13" stroke="#f9dcae" stroke-width="0.4" />
<line x1="37.99" y1="168.01" x2="45.01" y2="165.10" stroke="#f9dcae" stroke-width="0.4" />
<line x1="38.47" y1="169.36" x2="45.74" y2="167.16" stroke="#f9dcae" stroke-width="0.4" />
<line x1="38.82" y1="170.75" x2="46.27" y2="169.27" stroke="#f9dcae" stroke-width="0.4" />
<line x1="39.03" y1="172.17" x2="46.59" y2="171.42" stroke="#f9dcae" stroke-width="0.4" />
<circle cx="24.5" cy="173.6" r="22.8" fill="none" stroke="#f5b24a" stroke-width="1.1"/>
<circle cx="24.5" cy="173.6" r="14.0" fill="none" stroke="#f5b24a" stroke-width="1.1"/>
<circle cx="47.19" cy="175.88" r="0.95" fill="#1f4a78"/>
<circle cx="44.59" cy="184.38" r="0.95" fill="#1f4a78"/>
<circle cx="38.93" cy="191.25" r="0.95" fill="#1f4a78"/>
<circle cx="31.08" cy="195.43" r="0.95" fill="#1f4a78"/>
<circle cx="22.22" cy="196.29" r="0.95" fill="#1f4a78"/>
<circle cx="13.72" cy="193.69" r="0.95" fill="#1f4a78"/>
<circle cx="6.85" cy="188.03" r="0.95" fill="#1f4a78"/>
<circle cx="2.67" cy="180.18" r="0.95" fill="#1f4a78"/>
<circle cx="1.81" cy="171.32" r="0.95" fill="#1f4a78"/>
<circle cx="4.41" cy="162.82" r="0.95" fill="#1f4a78"/>
<circle cx="10.07" cy="155.95" r="0.95" fill="#1f4a78"/>
<circle cx="17.92" cy="151.77" r="0.95" fill="#1f4a78"/>
<circle cx="26.78" cy="150.91" r="0.95" fill="#1f4a78"/>
<circle cx="35.28" cy="153.51" r="0.95" fill="#1f4a78"/>
<circle cx="42.15" cy="159.17" r="0.95" fill="#1f4a78"/>
<circle cx="46.33" cy="167.02" r="0.95" fill="#1f4a78"/>
<circle cx="37.87" cy="177.74" r="0.95" fill="#1f4a78"/>
<circle cx="32.89" cy="184.81" r="0.95" fill="#1f4a78"/>
<circle cx="24.70" cy="187.60" r="0.95" fill="#1f4a78"/>
<circle cx="16.43" cy="185.04" r="0.95" fill="#1f4a78"/>
<circle cx="11.25" cy="178.11" r="0.95" fill="#1f4a78"/>
<circle cx="11.13" cy="169.46" r="0.95" fill="#1f4a78"/>
<circle cx="16.11" cy="162.39" r="0.95" fill="#1f4a78"/>
<circle cx="24.30" cy="159.60" r="0.95" fill="#1f4a78"/>
<circle cx="32.57" cy="162.16" r="0.95" fill="#1f4a78"/>
<circle cx="37.75" cy="169.09" r="0.95" fill="#1f4a78"/>
<g stroke="#a23aa4" stroke-width="0.6" fill="#d9a8dc"><path d="M73.5,156 C74,149 79,146 85,146.5 C90,147 92,151 91,156 L82,160 Z"/><path d="M78,172.5 C72,168 66.5,164 66.3,158.5 C66,153.5 70,151.5 74,152.5 C78,153.5 80.5,156 80.5,160 C80.5,165 79.5,169 78,172.5 Z"/><path d="M78,172.5 C85,170 92,166.5 95.5,162 C97.8,158.5 96.5,154 93,152.3 C89,150.5 84,151.5 82,154.5 C80,158 80.5,163 79.5,167 Z"/></g>
<g stroke="#1d5a7c" stroke-width="1.9" stroke-linecap="butt"><line x1="76.8" y1="172.5" x2="71" y2="179.5"/><line x1="79.5" y1="174" x2="79.2" y2="182.2"/><line x1="82.3" y1="173.2" x2="88.5" y2="178.2"/></g>
<text x="63.80" y="185.60" font-size="6.3" text-anchor="middle" font-weight="normal" fill="#231f20" stroke="#231f20" stroke-width="0.14" >SH</text>
<text x="80.30" y="193.40" font-size="6.3" text-anchor="middle" font-weight="normal" fill="#231f20" stroke="#231f20" stroke-width="0.14" >SH</text>
<text x="96.90" y="183.70" font-size="6.3" text-anchor="middle" font-weight="normal" fill="#231f20" stroke="#231f20" stroke-width="0.14" >SH</text>
<g stroke="#fcd68a" stroke-width="1.6" fill="none" stroke-linecap="butt"><path d="M17.5,225 L17.5,255"/><path d="M21.6,226 C22.5,235 25,246 27,254"/></g>
<circle cx="19.8" cy="219" r="8.3" fill="#1c3a64"/>
<text x="80.20" y="205.90" font-size="6.4" text-anchor="middle" font-weight="normal" fill="#231f20" stroke="#231f20" stroke-width="0.14" >Maleimide group</text>
<rect x="50" y="209" width="60.7" height="38.6" fill="none" stroke="#555" stroke-width="0.7"/>
<line x1="32.40" y1="220.40" x2="50.00" y2="209.00" stroke="#555" stroke-width="0.7" />
<line x1="32.40" y1="220.40" x2="50.00" y2="247.60" stroke="#555" stroke-width="0.7" />
<polyline points="52.60,225.40 56.90,222.40 60.60,224.40" fill="none" stroke="#3a3a3a" stroke-width="0.5" stroke-linejoin="round"/>
<polyline points="63.30,224.40 67.40,222.20 73.60,225.70" fill="none" stroke="#3a3a3a" stroke-width="0.5" stroke-linejoin="round"/>
<polyline points="67.00,222.00 67.00,217.90" fill="none" stroke="#3a3a3a" stroke-width="0.5" stroke-linejoin="round"/>
<polyline points="67.90,222.00 67.90,217.90" fill="none" stroke="#3a3a3a" stroke-width="0.5" stroke-linejoin="round"/>
<polyline points="73.60,225.70 79.00,222.50 84.80,225.70 84.80,231.60 79.00,234.80 73.60,231.60 73.60,225.70" fill="none" stroke="#3a3a3a" stroke-width="0.5" stroke-linejoin="round"/>
<polyline points="84.80,231.60 90.20,234.40 93.40,232.60" fill="none" stroke="#3a3a3a" stroke-width="0.5" stroke-linejoin="round"/>
<polyline points="94.90,230.60 96.20,226.20 104.00,228.00 104.60,233.80 99.60,237.00 95.60,233.60" fill="none" stroke="#3a3a3a" stroke-width="0.5" stroke-linejoin="round"/>
<polyline points="102.70,229.20 103.20,233.00" fill="none" stroke="#3a3a3a" stroke-width="0.5" stroke-linejoin="round"/>
<polyline points="95.60,226.40 92.30,222.50" fill="none" stroke="#3a3a3a" stroke-width="0.5" stroke-linejoin="round"/>
<polyline points="96.60,225.80 93.20,221.80" fill="none" stroke="#3a3a3a" stroke-width="0.5" stroke-linejoin="round"/>
<polyline points="99.60,237.00 101.80,239.60" fill="none" stroke="#3a3a3a" stroke-width="0.5" stroke-linejoin="round"/>
<text x="67.90" y="217.40" font-size="3.9" text-anchor="middle" font-weight="normal" fill="#231f20" stroke="#231f20" stroke-width="0.14" >O</text>
<text x="61.90" y="226.00" font-size="3.9" text-anchor="middle" font-weight="normal" fill="#231f20" stroke="#231f20" stroke-width="0.14" >N</text>
<text x="61.90" y="230.40" font-size="3.9" text-anchor="middle" font-weight="normal" fill="#231f20" stroke="#231f20" stroke-width="0.14" >H</text>
<text x="91.60" y="222.20" font-size="3.9" text-anchor="middle" font-weight="normal" fill="#231f20" stroke="#231f20" stroke-width="0.14" >O</text>
<text x="94.60" y="233.70" font-size="3.9" text-anchor="middle" font-weight="normal" fill="#231f20" stroke="#231f20" stroke-width="0.14" >N</text>
<text x="102.60" y="242.40" font-size="3.9" text-anchor="middle" font-weight="normal" fill="#231f20" stroke="#231f20" stroke-width="0.14" >O</text>
<defs><pattern id="tri" width="27" height="27" patternUnits="userSpaceOnUse"><rect width="27" height="27" fill="#8c8c8c"/><polygon points="2.65,0.94 1.39,2.91 0.32,0.83" fill="#d4d4d4"/><circle cx="1.45" cy="1.56" r="0.45" fill="#7a7a7a"/><polygon points="3.31,0.80 5.65,0.86 4.43,2.86" fill="#d4d4d4"/><circle cx="4.47" cy="1.51" r="0.45" fill="#7a7a7a"/><polygon points="6.26,0.53 8.50,1.20 6.80,2.80" fill="#d4d4d4"/><circle cx="7.18" cy="1.51" r="0.45" fill="#7a7a7a"/><polygon points="10.35,2.37 9.91,0.07 12.12,0.84" fill="#d4d4d4"/><circle cx="10.79" cy="1.09" r="0.45" fill="#7a7a7a"/><polygon points="12.62,0.54 14.42,2.04 12.23,2.85" fill="#d4d4d4"/><circle cx="13.09" cy="1.81" r="0.45" fill="#7a7a7a"/><polygon points="17.36,1.69 15.64,3.27 15.13,0.99" fill="#d4d4d4"/><circle cx="16.04" cy="1.98" r="0.45" fill="#7a7a7a"/><polygon points="20.40,2.74 18.31,1.69 20.26,0.41" fill="#d4d4d4"/><circle cx="19.65" cy="1.62" r="0.45" fill="#7a7a7a"/><polygon points="23.27,2.02 20.96,2.37 21.81,0.19" fill="#d4d4d4"/><circle cx="22.02" cy="1.53" r="0.45" fill="#7a7a7a"/><polygon points="26.52,1.50 24.31,2.26 24.75,-0.03" fill="#d4d4d4"/><circle cx="25.19" cy="1.24" r="0.45" fill="#7a7a7a"/><polygon points="2.20,3.31 2.07,5.65 0.12,4.36" fill="#d4d4d4"/><circle cx="1.46" cy="4.44" r="0.45" fill="#7a7a7a"/><polygon points="3.17,4.64 5.19,3.47 5.20,5.81" fill="#d4d4d4"/><circle cx="4.52" cy="4.64" r="0.45" fill="#7a7a7a"/><polygon points="7.42,5.79 6.63,3.59 8.93,4.00" fill="#d4d4d4"/><circle cx="7.66" cy="4.46" r="0.45" fill="#7a7a7a"/><polygon points="11.72,3.86 11.62,6.19 9.65,4.94" fill="#d4d4d4"/><circle cx="11.00" cy="5.00" r="0.45" fill="#7a7a7a"/><polygon points="13.88,5.65 12.46,3.80 14.78,3.50" fill="#d4d4d4"/><circle cx="13.71" cy="4.32" r="0.45" fill="#7a7a7a"/><polygon points="16.43,2.73 17.38,4.86 15.06,4.62" fill="#d4d4d4"/><circle cx="16.29" cy="4.07" r="0.45" fill="#7a7a7a"/><polygon points="18.38,5.73 19.15,3.52 20.68,5.29" fill="#d4d4d4"/><circle cx="19.40" cy="4.85" r="0.45" fill="#7a7a7a"/><polygon points="24.31,4.85 22.28,6.01 22.29,3.68" fill="#d4d4d4"/><circle cx="22.96" cy="4.85" r="0.45" fill="#7a7a7a"/><polygon points="23.88,5.16 25.65,3.64 26.09,5.93" fill="#d4d4d4"/><circle cx="25.21" cy="4.91" r="0.45" fill="#7a7a7a"/><polygon points="3.19,8.00 0.86,8.15 1.89,6.05" fill="#d4d4d4"/><circle cx="1.98" cy="7.40" r="0.45" fill="#7a7a7a"/><polygon points="4.46,9.12 3.55,6.96 5.87,7.25" fill="#d4d4d4"/><circle cx="4.63" cy="7.78" r="0.45" fill="#7a7a7a"/><polygon points="8.40,7.03 6.69,8.62 6.17,6.34" fill="#d4d4d4"/><circle cx="7.09" cy="7.33" r="0.45" fill="#7a7a7a"/><polygon points="10.79,8.47 9.57,6.47 11.91,6.42" fill="#d4d4d4"/><circle cx="10.76" cy="7.12" r="0.45" fill="#7a7a7a"/><polygon points="13.49,5.77 14.02,8.05 11.79,7.37" fill="#d4d4d4"/><circle cx="13.10" cy="7.06" r="0.45" fill="#7a7a7a"/><polygon points="14.90,8.00 16.44,6.23 17.20,8.45" fill="#d4d4d4"/><circle cx="16.18" cy="7.56" r="0.45" fill="#7a7a7a"/><polygon points="20.11,8.72 17.87,8.03 19.59,6.44" fill="#d4d4d4"/><circle cx="19.19" cy="7.73" r="0.45" fill="#7a7a7a"/><polygon points="21.46,7.76 22.68,5.77 23.80,7.82" fill="#d4d4d4"/><circle cx="22.64" cy="7.12" r="0.45" fill="#7a7a7a"/><polygon points="26.54,7.02 24.76,8.54 24.34,6.24" fill="#d4d4d4"/><circle cx="25.21" cy="7.27" r="0.45" fill="#7a7a7a"/><polygon points="2.82,9.41 2.07,11.63 0.52,9.88" fill="#d4d4d4"/><circle cx="1.80" cy="10.30" r="0.45" fill="#7a7a7a"/><polygon points="5.03,9.32 4.73,11.64 2.87,10.22" fill="#d4d4d4"/><circle cx="4.21" cy="10.39" r="0.45" fill="#7a7a7a"/><polygon points="8.99,10.01 7.05,11.31 6.89,8.98" fill="#d4d4d4"/><circle cx="7.64" cy="10.10" r="0.45" fill="#7a7a7a"/><polygon points="10.41,8.92 11.27,11.09 8.96,10.76" fill="#d4d4d4"/><circle cx="10.21" cy="10.26" r="0.45" fill="#7a7a7a"/><polygon points="14.54,10.90 12.20,11.04 13.24,8.95" fill="#d4d4d4"/><circle cx="13.33" cy="10.30" r="0.45" fill="#7a7a7a"/><polygon points="16.15,11.93 14.89,9.96 17.23,9.86" fill="#d4d4d4"/><circle cx="16.09" cy="10.58" r="0.45" fill="#7a7a7a"/><polygon points="18.31,10.76 19.91,9.06 20.59,11.29" fill="#d4d4d4"/><circle cx="19.60" cy="10.37" r="0.45" fill="#7a7a7a"/><polygon points="21.75,9.87 24.09,9.74 23.03,11.83" fill="#d4d4d4"/><circle cx="22.96" cy="10.48" r="0.45" fill="#7a7a7a"/><polygon points="26.63,11.30 24.52,10.29 26.45,8.96" fill="#d4d4d4"/><circle cx="25.87" cy="10.18" r="0.45" fill="#7a7a7a"/><polygon points="1.91,15.17 0.74,13.15 3.07,13.14" fill="#d4d4d4"/><circle cx="1.91" cy="13.82" r="0.45" fill="#7a7a7a"/><polygon points="5.45,13.25 3.99,15.07 3.13,12.90" fill="#d4d4d4"/><circle cx="4.19" cy="13.74" r="0.45" fill="#7a7a7a"/><polygon points="8.19,13.04 7.49,15.27 5.91,13.54" fill="#d4d4d4"/><circle cx="7.20" cy="13.95" r="0.45" fill="#7a7a7a"/><polygon points="11.68,14.24 9.36,13.94 10.78,12.08" fill="#d4d4d4"/><circle cx="10.60" cy="13.42" r="0.45" fill="#7a7a7a"/><polygon points="13.14,15.31 11.82,13.38 14.16,13.20" fill="#d4d4d4"/><circle cx="13.04" cy="13.96" r="0.45" fill="#7a7a7a"/><polygon points="17.31,12.05 17.45,14.38 15.36,13.34" fill="#d4d4d4"/><circle cx="16.70" cy="13.26" r="0.45" fill="#7a7a7a"/><polygon points="20.21,14.50 18.25,13.22 20.33,12.16" fill="#d4d4d4"/><circle cx="19.60" cy="13.29" r="0.45" fill="#7a7a7a"/><polygon points="22.90,14.41 21.47,12.56 23.79,12.24" fill="#d4d4d4"/><circle cx="22.72" cy="13.07" r="0.45" fill="#7a7a7a"/><polygon points="24.54,12.96 26.84,13.42 25.30,15.18" fill="#d4d4d4"/><circle cx="25.56" cy="13.85" r="0.45" fill="#7a7a7a"/><polygon points="1.67,18.21 -0.03,16.60 2.21,15.94" fill="#d4d4d4"/><circle cx="1.28" cy="16.92" r="0.45" fill="#7a7a7a"/><polygon points="2.74,16.72 4.26,14.94 5.04,17.14" fill="#d4d4d4"/><circle cx="4.02" cy="16.27" r="0.45" fill="#7a7a7a"/><polygon points="6.14,17.17 6.66,14.89 8.38,16.47" fill="#d4d4d4"/><circle cx="7.06" cy="16.18" r="0.45" fill="#7a7a7a"/><polygon points="9.70,17.16 10.12,14.86 11.90,16.37" fill="#d4d4d4"/><circle cx="10.57" cy="16.13" r="0.45" fill="#7a7a7a"/><polygon points="13.15,15.85 15.24,16.90 13.29,18.19" fill="#d4d4d4"/><circle cx="13.89" cy="16.98" r="0.45" fill="#7a7a7a"/><polygon points="17.55,17.63 15.36,16.81 17.16,15.32" fill="#d4d4d4"/><circle cx="16.69" cy="16.58" r="0.45" fill="#7a7a7a"/><polygon points="20.18,15.30 19.09,17.37 17.84,15.39" fill="#d4d4d4"/><circle cx="19.04" cy="16.02" r="0.45" fill="#7a7a7a"/><polygon points="24.04,17.14 21.88,18.03 22.19,15.71" fill="#d4d4d4"/><circle cx="22.70" cy="16.96" r="0.45" fill="#7a7a7a"/><polygon points="25.47,15.14 26.88,17.01 24.56,17.30" fill="#d4d4d4"/><circle cx="25.64" cy="16.48" r="0.45" fill="#7a7a7a"/><polygon points="2.52,20.61 0.19,20.73 1.25,18.65" fill="#d4d4d4"/><circle cx="1.32" cy="20.00" r="0.45" fill="#7a7a7a"/><polygon points="5.64,18.94 4.69,21.08 3.31,19.19" fill="#d4d4d4"/><circle cx="4.55" cy="19.74" r="0.45" fill="#7a7a7a"/><polygon points="8.10,18.40 8.68,20.67 6.43,20.04" fill="#d4d4d4"/><circle cx="7.74" cy="19.70" r="0.45" fill="#7a7a7a"/><polygon points="10.38,18.11 12.26,19.51 10.11,20.44" fill="#d4d4d4"/><circle cx="10.92" cy="19.35" r="0.45" fill="#7a7a7a"/><polygon points="12.73,20.54 13.90,18.52 15.07,20.55" fill="#d4d4d4"/><circle cx="13.90" cy="19.87" r="0.45" fill="#7a7a7a"/><polygon points="15.58,19.27 17.91,19.11 16.88,21.21" fill="#d4d4d4"/><circle cx="16.79" cy="19.86" r="0.45" fill="#7a7a7a"/><polygon points="18.45,18.71 20.79,18.70 19.63,20.73" fill="#d4d4d4"/><circle cx="19.62" cy="19.38" r="0.45" fill="#7a7a7a"/><polygon points="21.74,18.04 23.94,18.85 22.14,20.35" fill="#d4d4d4"/><circle cx="22.61" cy="19.08" r="0.45" fill="#7a7a7a"/><polygon points="25.81,18.54 27.24,20.39 24.93,20.71" fill="#d4d4d4"/><circle cx="25.99" cy="19.88" r="0.45" fill="#7a7a7a"/><polygon points="0.21,22.08 2.55,22.04 1.41,24.08" fill="#d4d4d4"/><circle cx="1.39" cy="22.74" r="0.45" fill="#7a7a7a"/><polygon points="5.61,23.52 3.27,23.51 4.44,21.49" fill="#d4d4d4"/><circle cx="4.44" cy="22.84" r="0.45" fill="#7a7a7a"/><polygon points="6.66,21.23 8.99,21.49 7.60,23.37" fill="#d4d4d4"/><circle cx="7.75" cy="22.03" r="0.45" fill="#7a7a7a"/><polygon points="10.05,20.95 11.80,22.50 9.59,23.24" fill="#d4d4d4"/><circle cx="10.48" cy="22.23" r="0.45" fill="#7a7a7a"/><polygon points="14.68,21.97 13.47,23.96 12.34,21.91" fill="#d4d4d4"/><circle cx="13.50" cy="22.61" r="0.45" fill="#7a7a7a"/><polygon points="15.83,23.29 15.36,21.00 17.58,21.74" fill="#d4d4d4"/><circle cx="16.26" cy="22.01" r="0.45" fill="#7a7a7a"/><polygon points="20.33,23.38 18.33,22.18 20.37,21.05" fill="#d4d4d4"/><circle cx="19.68" cy="22.20" r="0.45" fill="#7a7a7a"/><polygon points="21.64,23.14 23.12,21.33 23.95,23.51" fill="#d4d4d4"/><circle cx="22.91" cy="22.66" r="0.45" fill="#7a7a7a"/><polygon points="25.21,21.16 27.24,22.32 25.22,23.50" fill="#d4d4d4"/><circle cx="25.89" cy="22.33" r="0.45" fill="#7a7a7a"/><polygon points="1.66,24.16 2.06,26.47 -0.13,25.66" fill="#d4d4d4"/><circle cx="1.20" cy="25.43" r="0.45" fill="#7a7a7a"/><polygon points="3.90,26.78 4.64,24.56 6.20,26.31" fill="#d4d4d4"/><circle cx="4.91" cy="25.88" r="0.45" fill="#7a7a7a"/><polygon points="8.47,26.34 6.26,25.57 8.02,24.04" fill="#d4d4d4"/><circle cx="7.58" cy="25.32" r="0.45" fill="#7a7a7a"/><polygon points="11.28,24.74 11.06,27.07 9.15,25.71" fill="#d4d4d4"/><circle cx="10.50" cy="25.84" r="0.45" fill="#7a7a7a"/><polygon points="13.48,27.28 12.67,25.09 14.98,25.48" fill="#d4d4d4"/><circle cx="13.71" cy="25.95" r="0.45" fill="#7a7a7a"/><polygon points="15.96,26.78 15.12,24.60 17.43,24.97" fill="#d4d4d4"/><circle cx="16.17" cy="25.45" r="0.45" fill="#7a7a7a"/><polygon points="18.26,24.46 20.52,25.07 18.86,26.72" fill="#d4d4d4"/><circle cx="19.21" cy="25.41" r="0.45" fill="#7a7a7a"/><polygon points="23.21,24.17 23.13,26.51 21.14,25.27" fill="#d4d4d4"/><circle cx="22.49" cy="25.32" r="0.45" fill="#7a7a7a"/><polygon points="27.19,26.06 24.85,26.19 25.91,24.10" fill="#d4d4d4"/><circle cx="25.98" cy="25.45" r="0.45" fill="#7a7a7a"/></pattern><filter id="noise" x="0" y="0" width="1" height="1"><feTurbulence type="fractalNoise" baseFrequency="0.8" numOctaves="2" seed="3"/><feColorMatrix type="matrix" values="0 0 0 0 0.5  0 0 0 0 0.5  0 0 0 0 0.5  1.4 0 0 0 -0.45"/></filter><clipPath id="emclip"><rect x="122.9" y="150.4" width="86.4" height="96.1"/></clipPath><radialGradient id="emBg" gradientUnits="userSpaceOnUse" cx="165" cy="196" r="62"><stop offset="0" stop-color="#3a3a3a"/><stop offset="0.68" stop-color="#3e3e3e"/><stop offset="0.82" stop-color="#565656"/><stop offset="1" stop-color="#6e6e6e"/></radialGradient><radialGradient id="emRim" gradientUnits="userSpaceOnUse" cx="165" cy="196" r="42"><stop offset="0" stop-color="#fff" stop-opacity="0"/><stop offset="0.78" stop-color="#fff" stop-opacity="0"/><stop offset="0.97" stop-color="#fff" stop-opacity="0.3"/><stop offset="1" stop-color="#fff" stop-opacity="0.1"/></radialGradient></defs>
<g clip-path="url(#emclip)">
<rect x="122.9" y="150.4" width="86.4" height="96.1" fill="url(#emBg)"/>
<rect x="122.9" y="150.4" width="86.4" height="96.1" fill="#888" filter="url(#noise)" opacity="0.55"/>
<clipPath id="emc2"><ellipse cx="165" cy="196" rx="40.8" ry="43"/></clipPath>
<ellipse cx="165" cy="196" rx="40.8" ry="43" fill="#7e7e7e"/>
<path clip-path="url(#emc2)" fill="#cfcfcf" d="M150.7,153.7 L153.1,154.8 L151.0,156.3Z M157.0,155.7 L154.2,156.2 L155.2,153.4Z M160.2,155.8 L157.6,156.0 L158.7,153.6Z M163.9,156.5 L161.3,155.8 L163.2,153.9Z M165.2,154.8 L168.0,154.6 L166.7,157.2Z M171.6,153.6 L171.2,156.4 L169.0,154.6Z M173.1,156.6 L172.6,153.5 L175.5,154.7Z M176.4,154.0 L179.0,155.0 L176.9,156.8Z M147.7,158.7 L145.0,159.1 L146.0,156.5Z M149.4,159.9 L149.0,157.0 L151.7,158.1Z M154.0,156.6 L154.8,159.5 L151.9,158.7Z M155.3,158.2 L158.3,157.0 L157.8,160.1Z M162.7,158.1 L160.6,159.7 L160.2,157.0Z M165.6,159.9 L163.0,158.7 L165.3,157.1Z M168.2,156.8 L169.5,159.5 L166.5,159.2Z M171.8,156.7 L174.0,158.6 L171.3,159.6Z M176.8,156.8 L176.7,160.0 L174.0,158.3Z M181.1,159.2 L178.1,159.6 L179.2,156.8Z M184.0,157.3 L184.2,160.1 L181.7,158.9Z M142.2,162.0 L139.5,163.0 L140.0,160.2Z M145.8,162.0 L142.7,162.4 L143.8,159.6Z M146.4,162.6 L147.5,159.6 L149.5,162.1Z M149.7,161.0 L152.8,160.3 L151.8,163.3Z M155.4,163.5 L154.4,160.8 L157.2,161.3Z M160.5,161.5 L158.7,163.4 L157.9,160.8Z M162.8,163.1 L161.1,160.7 L164.0,160.4Z M168.3,161.5 L165.8,162.8 L165.8,160.0Z M171.8,161.1 L169.8,163.3 L168.9,160.5Z M173.3,160.3 L175.5,161.8 L173.1,162.9Z M179.2,160.5 L178.4,163.5 L176.2,161.3Z M182.6,162.6 L179.7,162.2 L181.5,159.8Z M185.1,162.8 L183.2,160.9 L185.8,160.2Z M190.2,161.3 L187.9,162.6 L187.9,159.9Z M140.3,165.0 L137.4,166.1 L137.9,163.0Z M142.6,166.2 L141.2,163.7 L144.0,163.8Z M147.2,163.0 L146.9,166.2 L144.3,164.4Z M151.2,165.6 L148.5,165.5 L149.9,163.3Z M154.2,163.3 L154.3,166.0 L151.9,164.7Z M155.4,164.8 L158.0,163.9 L157.5,166.6Z M159.2,164.1 L162.2,163.1 L161.7,166.2Z M164.8,166.6 L163.6,164.0 L166.4,164.2Z M166.4,164.6 L169.3,163.7 L168.7,166.7Z M172.7,162.9 L173.1,166.1 L170.2,164.9Z M176.8,163.4 L177.1,166.4 L174.3,165.2Z M178.4,166.0 L178.7,163.4 L180.8,165.0Z M182.8,166.4 L181.4,163.7 L184.4,163.9Z M188.9,164.1 L187.0,166.6 L185.8,163.6Z M191.2,166.3 L189.4,164.2 L192.1,163.7Z M131.7,166.5 L134.8,167.3 L132.6,169.5Z M136.2,166.5 L139.0,167.8 L136.4,169.6Z M141.9,167.2 L140.4,169.9 L138.8,167.3Z M145.3,169.6 L142.8,167.9 L145.5,166.5Z M149.5,167.9 L147.4,169.8 L146.9,167.0Z M151.4,166.8 L153.1,168.9 L150.5,169.3Z M156.7,166.8 L155.3,169.5 L153.6,167.0Z M160.6,168.0 L158.2,169.8 L157.9,166.8Z M163.8,169.1 L161.3,168.4 L163.2,166.6Z M165.1,167.8 L168.0,166.7 L167.5,169.8Z M170.9,166.9 L171.1,169.6 L168.6,168.3Z M173.9,169.6 L172.3,167.1 L175.2,166.9Z M178.7,169.3 L175.7,168.3 L178.0,166.2Z M179.7,167.1 L182.8,167.1 L181.2,169.8Z M183.3,168.3 L185.9,166.8 L185.8,169.8Z M187.3,168.2 L189.0,166.1 L190.0,168.6Z M192.9,169.7 L190.4,168.1 L193.0,166.8Z M195.5,169.5 L195.4,166.6 L198.0,168.0Z M132.8,172.4 L129.9,172.0 L131.7,169.7Z M135.2,169.4 L136.2,172.1 L133.4,171.7Z M140.3,170.5 L138.9,173.0 L137.4,170.6Z M140.8,171.1 L143.6,169.8 L143.3,172.8Z M144.4,171.5 L146.9,169.5 L147.3,172.7Z M151.5,170.9 L149.8,173.0 L148.8,170.5Z M154.5,170.2 L154.4,172.9 L152.1,171.4Z M158.5,171.9 L155.7,172.0 L156.9,169.6Z M161.1,169.5 L162.0,172.5 L159.0,171.9Z M163.6,170.0 L166.0,171.3 L163.7,172.7Z M169.0,173.3 L166.9,170.9 L170.1,170.3Z M173.8,171.1 L171.2,172.8 L171.0,169.7Z M174.0,171.0 L176.5,169.8 L176.2,172.6Z M179.0,169.6 L180.7,171.6 L178.1,172.0Z M184.8,171.3 L182.3,172.5 L182.6,169.7Z M188.7,171.9 L185.5,172.3 L186.8,169.4Z M192.1,172.5 L189.3,172.1 L191.0,170.0Z M193.8,172.9 L192.7,170.5 L195.4,170.8Z M198.6,170.0 L198.9,172.8 L196.4,171.6Z M127.7,173.9 L130.7,173.7 L129.4,176.4Z M132.3,172.6 L134.6,174.3 L132.0,175.4Z M135.5,173.4 L138.4,174.3 L136.1,176.4Z M142.0,175.4 L138.9,175.7 L140.2,172.9Z M142.6,173.7 L145.7,173.1 L144.7,176.1Z M146.3,173.9 L148.9,172.9 L148.4,175.6Z M153.0,174.7 L150.3,175.2 L151.2,172.6Z M155.4,172.7 L156.7,175.1 L153.9,175.0Z M158.3,175.4 L158.5,172.8 L160.7,174.3Z M162.5,172.4 L164.2,174.7 L161.3,175.1Z M167.7,173.8 L166.2,175.9 L165.1,173.5Z M168.7,174.4 L171.3,172.8 L171.4,175.9Z M173.2,172.7 L175.7,174.6 L172.8,175.9Z M177.1,173.0 L179.2,175.1 L176.3,175.9Z M182.7,174.8 L180.1,175.3 L181.0,172.8Z M184.7,176.1 L183.4,173.7 L186.1,173.8Z M189.7,173.4 L189.0,176.3 L186.8,174.2Z M191.9,175.8 L191.1,173.0 L193.9,173.8Z M195.8,176.2 L194.4,173.3 L197.6,173.6Z M200.2,176.3 L198.6,173.6 L201.7,173.5Z M129.2,177.5 L126.7,178.9 L126.8,176.1Z M131.9,179.2 L129.7,177.2 L132.5,176.4Z M136.1,178.3 L133.3,178.2 L134.8,175.8Z M138.0,178.8 L137.5,176.1 L140.0,177.0Z M142.6,175.9 L144.1,178.5 L141.1,178.5Z M145.1,178.9 L146.1,176.3 L147.9,178.4Z M150.0,175.7 L151.9,178.0 L148.9,178.4Z M154.6,176.8 L153.5,179.5 L151.7,177.2Z M158.5,179.1 L155.8,178.1 L158.0,176.2Z M161.6,176.1 L162.2,179.2 L159.2,178.2Z M164.0,176.3 L166.5,178.1 L163.7,179.3Z M169.3,178.5 L166.6,177.6 L168.7,175.7Z M170.2,177.2 L173.2,176.8 L172.1,179.5Z M174.4,177.8 L176.5,176.4 L176.7,179.0Z M178.0,177.7 L180.6,176.3 L180.5,179.3Z M183.2,175.7 L184.7,178.0 L182.0,178.2Z M186.4,175.9 L188.1,178.0 L185.4,178.4Z M189.1,178.0 L191.5,176.5 L191.6,179.3Z M194.5,176.0 L195.7,178.7 L192.7,178.4Z M199.1,178.6 L196.5,177.5 L198.7,175.8Z M200.5,176.8 L203.1,176.6 L202.0,179.0Z M128.4,179.1 L131.0,180.7 L128.3,182.1Z M131.7,180.5 L134.3,179.3 L134.1,182.2Z M138.2,179.6 L137.2,182.1 L135.5,180.0Z M142.6,181.3 L140.0,182.4 L140.3,179.6Z M143.1,181.6 L144.9,179.6 L145.8,182.2Z M148.3,182.8 L146.2,180.6 L149.1,179.9Z M153.0,180.4 L151.2,182.3 L150.4,179.8Z M157.0,179.7 L156.0,182.5 L154.0,180.2Z M157.5,181.2 L159.6,179.7 L159.8,182.3Z M161.0,181.3 L162.8,179.2 L163.7,181.9Z M165.6,182.3 L165.2,179.2 L168.1,180.5Z M170.7,179.7 L170.6,182.3 L168.4,180.9Z M175.6,180.0 L174.4,182.5 L172.8,180.3Z M179.3,180.7 L176.7,182.2 L176.7,179.3Z M181.0,182.2 L180.1,179.8 L182.7,180.2Z M184.4,182.8 L183.4,179.8 L186.5,180.5Z M187.0,180.5 L189.4,179.3 L189.3,182.0Z M193.7,179.9 L192.7,182.9 L190.7,180.6Z M197.8,180.5 L196.0,182.8 L194.9,180.0Z M199.8,178.8 L201.5,181.1 L198.7,181.5Z M203.4,182.4 L202.6,179.9 L205.2,180.5Z M126.4,184.0 L128.6,182.2 L129.0,185.0Z M132.8,183.9 L130.7,185.6 L130.3,182.9Z M133.7,183.3 L136.5,182.8 L135.5,185.5Z M139.0,185.5 L136.8,183.3 L139.8,182.5Z M144.0,182.8 L142.6,185.6 L140.8,183.0Z M146.7,185.2 L144.7,183.5 L147.1,182.6Z M149.9,185.3 L148.4,183.0 L151.1,182.8Z M153.6,182.6 L155.1,185.1 L152.2,185.1Z M156.1,185.1 L156.8,182.4 L158.8,184.5Z M162.2,183.5 L160.2,185.3 L159.7,182.7Z M165.7,182.9 L165.2,185.6 L163.2,183.8Z M166.9,184.8 L168.1,182.2 L169.8,184.5Z M173.5,183.2 L172.8,185.7 L171.0,183.9Z M176.8,183.1 L175.7,185.8 L173.9,183.5Z M178.1,184.8 L179.3,181.8 L181.3,184.3Z M185.0,184.0 L182.9,185.7 L182.4,183.0Z M184.9,183.5 L187.7,182.4 L187.3,185.4Z M189.8,182.7 L192.7,183.9 L190.2,185.8Z M196.0,184.5 L193.0,185.3 L193.8,182.3Z M196.8,183.0 L199.4,184.1 L197.2,185.8Z M200.3,182.5 L203.2,183.5 L200.9,185.5Z M123.9,186.6 L126.6,185.6 L126.2,188.5Z M128.3,186.1 L130.8,186.4 L129.3,188.5Z M134.8,186.7 L132.7,188.8 L131.9,185.9Z M137.4,188.8 L135.8,186.5 L138.5,186.3Z M140.4,188.8 L140.0,186.2 L142.5,187.1Z M143.0,188.1 L144.4,185.7 L145.7,188.1Z M148.4,189.0 L146.8,186.9 L149.4,186.6Z M151.0,185.7 L153.2,187.3 L150.7,188.4Z M154.1,187.3 L156.5,186.0 L156.4,188.8Z M160.2,185.6 L160.4,188.4 L157.9,187.2Z M162.1,189.1 L161.4,186.1 L164.4,186.9Z M166.8,188.6 L165.0,186.4 L167.8,185.9Z M171.4,188.8 L168.7,187.7 L171.0,186.0Z M174.7,188.7 L172.2,187.8 L174.3,186.1Z M178.8,186.0 L177.6,188.9 L175.7,186.4Z M183.0,186.9 L181.4,189.2 L180.2,186.6Z M184.8,186.0 L186.2,188.2 L183.5,188.3Z M187.7,188.3 L188.4,185.6 L190.4,187.5Z M191.9,188.4 L191.0,185.8 L193.8,186.3Z M198.0,186.6 L196.0,188.4 L195.4,185.8Z M200.5,185.9 L200.7,188.8 L198.1,187.5Z M202.0,188.5 L202.7,185.4 L205.0,187.6Z M125.0,189.4 L124.0,191.8 L122.4,189.7Z M127.8,189.1 L128.9,191.5 L126.3,191.2Z M132.5,189.3 L131.0,191.7 L129.7,189.3Z M134.4,192.0 L134.5,189.3 L136.9,190.7Z M139.0,192.2 L137.7,189.5 L140.7,189.7Z M144.1,190.3 L141.5,191.7 L141.5,188.7Z M147.9,190.0 L146.2,192.0 L145.3,189.5Z M151.5,189.9 L149.3,192.2 L148.4,189.1Z M152.0,190.9 L153.7,188.6 L154.9,191.2Z M158.2,188.5 L158.8,191.5 L155.9,190.5Z M160.0,189.6 L162.7,190.0 L161.0,192.2Z M164.9,188.8 L165.7,191.3 L163.1,190.8Z M168.2,192.1 L166.9,189.8 L169.5,189.8Z M170.9,192.1 L170.8,188.9 L173.6,190.3Z M175.9,192.3 L174.8,189.9 L177.5,190.1Z M178.8,188.8 L180.8,190.8 L178.0,191.6Z M181.8,189.2 L184.7,189.8 L182.6,192.0Z M186.3,189.3 L188.6,190.6 L186.3,192.0Z M189.3,189.6 L192.2,189.3 L191.0,191.9Z M194.5,191.8 L193.1,189.4 L195.8,189.4Z M196.3,189.9 L199.1,189.8 L197.8,192.3Z M200.0,190.7 L202.5,189.4 L202.4,192.1Z M207.1,190.4 L204.9,191.9 L204.8,189.2Z M126.8,192.3 L126.7,195.4 L124.0,193.7Z M130.4,194.5 L127.7,193.9 L129.6,191.9Z M135.1,193.0 L133.4,195.3 L132.2,192.7Z M137.1,195.3 L135.7,192.6 L138.8,192.8Z M139.5,192.3 L142.5,192.6 L140.8,195.0Z M145.1,194.7 L142.6,193.8 L144.7,192.0Z M147.0,192.4 L149.4,193.5 L147.2,195.1Z M150.7,192.1 L153.0,193.6 L150.5,194.8Z M155.8,191.8 L156.5,194.6 L153.7,193.8Z M157.5,194.4 L158.6,191.6 L160.4,194.0Z M163.8,194.8 L161.2,193.3 L163.8,191.8Z M165.8,195.2 L165.3,192.0 L168.3,193.2Z M169.1,194.9 L169.5,192.1 L171.7,193.9Z M173.2,195.1 L173.7,192.5 L175.7,194.2Z M179.6,193.5 L176.8,194.9 L177.0,191.8Z M179.8,194.8 L181.2,192.0 L182.9,194.6Z M186.7,193.5 L184.0,194.7 L184.3,191.8Z M190.3,194.8 L187.3,194.7 L188.9,192.2Z M193.3,194.9 L190.8,193.8 L193.0,192.1Z M197.5,195.0 L194.6,194.5 L196.4,192.2Z M200.6,195.4 L198.5,193.6 L201.1,192.8Z M202.4,194.1 L204.5,192.5 L204.8,195.2Z M125.7,195.7 L124.4,198.4 L122.7,196.0Z M128.3,195.0 L129.1,197.6 L126.4,197.0Z M132.1,195.7 L132.2,198.4 L129.8,197.1Z M133.3,196.5 L135.9,195.4 L135.6,198.2Z M138.3,194.8 L140.2,197.3 L137.1,197.8Z M142.2,195.3 L143.5,197.7 L140.8,197.5Z M145.1,195.5 L148.0,195.8 L146.3,198.2Z M148.5,197.5 L150.0,195.0 L151.4,197.5Z M152.0,197.5 L153.9,195.3 L154.8,198.0Z M155.4,197.0 L157.7,195.5 L157.8,198.2Z M159.7,197.4 L161.6,195.5 L162.3,198.1Z M165.8,197.7 L163.1,196.9 L165.1,194.9Z M166.6,196.7 L169.0,195.5 L168.8,198.1Z M172.0,194.7 L173.8,197.2 L170.8,197.5Z M174.2,196.4 L176.7,195.1 L176.6,197.9Z M181.0,195.1 L180.5,198.3 L178.0,196.3Z M184.0,198.7 L181.5,196.7 L184.5,195.6Z M188.2,196.3 L186.9,198.7 L185.5,196.3Z M192.3,197.8 L189.5,198.1 L190.6,195.5Z M195.7,195.6 L194.7,198.1 L193.0,195.9Z M196.4,196.5 L199.2,195.0 L199.1,198.1Z M199.9,196.6 L202.4,195.3 L202.2,198.1Z M206.0,198.1 L203.2,196.6 L205.9,195.0Z M126.8,201.8 L124.2,200.3 L126.9,198.8Z M128.2,198.8 L130.9,199.7 L128.7,201.6Z M131.9,199.2 L135.1,199.1 L133.5,201.8Z M135.6,199.2 L138.3,200.0 L136.2,201.9Z M142.6,199.7 L140.1,201.4 L139.9,198.4Z M142.8,200.7 L144.5,198.6 L145.5,201.2Z M148.9,198.2 L149.1,201.0 L146.6,199.8Z M150.4,199.4 L153.4,199.5 L151.8,202.1Z M156.8,200.0 L154.3,200.8 L154.8,198.2Z M157.4,199.8 L160.3,198.5 L160.0,201.6Z M161.7,198.6 L164.1,199.7 L162.0,201.2Z M167.5,200.9 L164.7,200.5 L166.4,198.3Z M168.7,199.2 L171.4,199.3 L170.0,201.6Z M175.2,201.4 L172.2,200.3 L174.6,198.2Z M178.9,200.7 L175.9,200.5 L177.6,198.0Z M180.3,201.1 L181.5,198.6 L183.1,200.9Z M183.2,199.5 L186.0,199.1 L184.9,201.7Z M190.5,199.3 L188.6,201.7 L187.5,198.9Z M193.9,200.7 L191.1,201.5 L191.9,198.6Z M197.7,200.5 L194.7,200.9 L195.8,198.1Z M201.0,199.5 L199.3,201.6 L198.3,199.1Z M201.6,200.0 L204.3,198.6 L204.1,201.6Z M127.3,204.5 L126.9,201.7 L129.5,202.7Z M131.4,201.8 L132.4,204.6 L129.4,204.0Z M134.7,201.8 L136.2,204.2 L133.3,204.3Z M139.2,204.7 L137.5,202.6 L140.2,202.2Z M141.4,204.4 L141.5,201.3 L144.1,202.9Z M146.0,201.9 L147.9,203.9 L145.2,204.5Z M150.3,201.5 L151.2,204.3 L148.3,203.6Z M155.0,203.0 L153.0,204.8 L152.4,202.1Z M157.5,204.4 L156.2,202.0 L159.0,202.2Z M161.1,201.9 L162.6,204.3 L159.8,204.4Z M165.1,204.9 L163.3,202.3 L166.5,202.1Z M167.6,201.7 L170.3,203.3 L167.6,204.9Z M171.5,201.7 L173.8,203.8 L170.9,204.8Z M174.3,202.7 L177.1,202.4 L175.9,205.0Z M180.9,204.1 L177.8,204.2 L179.2,201.5Z M184.4,204.0 L181.3,203.5 L183.2,201.1Z M188.3,203.2 L185.8,204.1 L186.3,201.5Z M190.2,201.6 L192.5,203.6 L189.6,204.6Z M192.8,204.6 L193.4,201.6 L195.8,203.6Z M199.9,204.2 L196.8,204.5 L198.0,201.7Z M203.2,204.5 L200.5,204.1 L202.2,202.0Z M206.2,201.4 L205.9,204.5 L203.4,202.7Z M124.9,205.5 L127.5,206.3 L125.5,208.2Z M129.3,204.5 L130.6,207.0 L127.9,206.8Z M134.7,206.6 L132.2,207.6 L132.5,204.9Z M135.7,207.7 L136.3,205.0 L138.4,206.9Z M142.0,205.0 L141.7,208.0 L139.3,206.2Z M142.4,207.0 L144.2,204.6 L145.4,207.4Z M146.4,206.2 L149.0,205.4 L148.4,208.1Z M152.7,204.7 L152.9,207.4 L150.4,206.2Z M155.2,204.4 L156.6,207.2 L153.4,207.0Z M157.0,206.5 L159.6,204.8 L159.8,207.9Z M161.6,207.9 L161.9,204.8 L164.4,206.6Z M166.1,208.3 L165.2,205.7 L167.9,206.2Z M171.7,207.5 L168.8,207.0 L170.7,204.7Z M173.1,204.9 L175.4,206.9 L172.5,207.9Z M176.4,207.3 L177.6,204.7 L179.2,207.0Z M182.8,205.1 L181.9,207.6 L180.2,205.6Z M186.2,205.3 L185.0,207.9 L183.3,205.5Z M188.8,208.3 L187.1,206.0 L190.0,205.7Z M192.5,204.9 L194.0,207.5 L191.0,207.4Z M197.0,207.8 L194.3,206.4 L196.8,204.7Z M200.8,208.0 L198.3,206.5 L200.8,205.2Z M204.9,207.6 L202.1,206.9 L204.2,204.9Z M128.5,210.9 L126.4,209.2 L129.0,208.2Z M132.4,211.1 L130.0,210.0 L132.2,208.4Z M133.4,209.3 L135.9,208.3 L135.5,210.9Z M140.4,209.1 L138.0,211.0 L137.6,208.0Z M143.5,210.9 L140.7,210.6 L142.4,208.3Z M146.4,208.2 L148.0,210.5 L145.2,210.8Z M150.9,210.7 L148.2,210.3 L149.9,208.1Z M152.1,210.3 L153.3,207.5 L155.1,210.0Z M156.3,208.4 L159.1,209.2 L156.9,211.2Z M159.3,210.7 L160.6,207.9 L162.3,210.4Z M163.4,208.8 L166.5,208.6 L165.1,211.3Z M168.0,207.6 L170.0,210.0 L167.0,210.6Z M173.3,208.3 L173.0,211.3 L170.6,209.5Z M175.2,211.2 L174.9,208.2 L177.6,209.3Z M179.6,207.8 L180.5,210.7 L177.6,210.1Z M181.8,210.2 L183.4,207.8 L184.7,210.3Z M186.2,207.9 L188.8,209.6 L186.0,211.1Z M190.7,208.1 L191.6,210.8 L188.8,210.3Z M195.9,210.3 L193.1,211.2 L193.8,208.3Z M199.3,209.2 L197.5,211.5 L196.4,208.7Z M199.7,209.2 L202.7,208.4 L201.9,211.3Z M130.4,211.4 L130.4,214.3 L127.9,212.9Z M133.6,214.8 L131.5,212.6 L134.4,211.9Z M138.2,214.3 L135.1,213.5 L137.3,211.2Z M140.3,214.1 L139.3,211.5 L142.1,211.9Z M142.5,213.6 L144.1,211.0 L145.5,213.7Z M148.2,214.4 L146.3,212.0 L149.3,211.5Z M152.4,214.6 L150.4,212.2 L153.4,211.6Z M156.6,213.9 L153.7,213.0 L155.9,210.9Z M157.7,213.2 L159.9,211.3 L160.5,214.2Z M161.6,214.5 L162.0,211.5 L164.4,213.3Z M165.2,213.3 L167.3,211.5 L167.8,214.2Z M171.1,211.1 L171.1,213.9 L168.7,212.5Z M173.1,213.8 L173.8,211.1 L175.7,213.1Z M179.4,212.6 L176.7,214.1 L176.7,211.0Z M180.7,214.2 L180.1,211.4 L182.8,212.3Z M184.1,211.5 L186.6,212.8 L184.3,214.3Z M190.7,213.7 L187.7,214.2 L188.8,211.3Z M193.9,214.4 L191.0,213.3 L193.4,211.3Z M198.1,212.6 L195.2,214.0 L195.4,210.8Z M201.2,213.5 L198.5,213.2 L200.1,211.1Z M130.3,217.5 L130.6,214.8 L132.8,216.3Z M136.3,217.8 L133.6,216.2 L136.3,214.6Z M138.0,214.6 L140.7,216.2 L138.0,217.8Z M143.3,217.9 L141.0,215.9 L143.8,214.9Z M144.5,216.9 L146.5,214.4 L147.6,217.3Z M150.1,217.4 L148.5,215.2 L151.2,214.9Z M152.1,216.0 L154.1,214.2 L154.6,216.8Z M155.5,215.6 L158.6,214.7 L157.8,217.7Z M159.0,216.6 L161.2,214.6 L161.8,217.5Z M163.7,217.4 L164.4,214.6 L166.4,216.7Z M167.6,214.4 L170.4,215.4 L168.2,217.3Z M171.0,214.4 L173.6,216.3 L170.7,217.6Z M174.0,216.2 L176.6,215.0 L176.4,217.8Z M179.4,214.0 L181.4,216.2 L178.5,216.8Z M182.0,217.5 L182.6,214.7 L184.7,216.6Z M187.3,217.8 L185.3,215.7 L188.1,215.0Z M191.3,214.6 L191.4,217.4 L188.9,216.1Z M192.9,215.9 L195.4,214.6 L195.3,217.3Z M197.0,214.9 L199.8,216.2 L197.2,217.9Z M201.1,217.5 L200.4,214.6 L203.2,215.5Z M135.0,219.8 L132.1,220.7 L132.9,217.7Z M138.7,219.7 L136.0,220.3 L136.9,217.7Z M141.8,218.2 L140.3,220.7 L138.8,218.1Z M145.9,218.5 L144.5,221.1 L142.9,218.6Z M147.6,217.7 L149.8,219.6 L147.0,220.6Z M151.0,217.6 L153.5,219.0 L151.0,220.4Z M156.3,220.3 L154.1,218.8 L156.5,217.7Z M158.4,218.1 L161.0,219.4 L158.6,221.0Z M161.6,218.8 L164.3,218.4 L163.3,221.0Z M165.7,220.6 L165.5,217.8 L168.1,219.0Z M171.9,220.1 L169.1,220.6 L170.0,217.8Z M174.3,217.4 L174.7,220.3 L171.9,219.2Z M179.6,219.3 L177.0,220.5 L177.3,217.7Z M183.1,219.3 L180.8,221.0 L180.4,218.2Z M184.0,217.7 L186.5,218.7 L184.4,220.4Z M190.2,218.9 L187.6,220.3 L187.7,217.3Z M193.7,220.5 L190.6,220.4 L192.2,217.7Z M195.6,217.3 L197.4,219.4 L194.7,219.9Z M201.7,219.5 L198.7,220.2 L199.6,217.2Z M135.1,221.1 L136.7,223.2 L134.0,223.6Z M137.1,223.0 L139.4,220.8 L140.2,223.9Z M142.0,221.3 L143.8,223.2 L141.2,223.7Z M146.5,221.1 L146.8,223.7 L144.3,222.7Z M150.7,224.1 L148.0,222.6 L150.7,221.0Z M152.4,223.3 L153.1,220.5 L155.3,222.5Z M158.3,223.9 L155.5,222.8 L157.9,220.9Z M159.8,221.3 L162.5,222.1 L160.4,224.1Z M166.3,222.0 L164.3,224.3 L163.3,221.5Z M170.2,222.9 L167.0,223.4 L168.2,220.4Z M171.4,224.1 L171.4,221.2 L174.0,222.6Z M174.8,221.7 L177.6,222.0 L176.0,224.2Z M178.2,223.9 L179.0,221.0 L181.1,223.1Z M183.8,221.2 L184.3,223.9 L181.7,222.9Z M185.0,223.0 L186.6,220.5 L188.0,223.1Z M192.5,223.1 L189.5,223.9 L190.4,220.9Z M193.1,222.0 L195.8,221.8 L194.6,224.2Z M197.5,220.9 L200.1,222.8 L197.2,224.1Z M135.2,224.7 L138.2,224.1 L137.2,227.1Z M141.9,225.1 L140.3,227.3 L139.2,224.9Z M142.9,226.1 L144.9,224.2 L145.5,226.9Z M148.3,224.2 L149.1,227.0 L146.3,226.2Z M151.7,224.2 L152.7,226.8 L150.0,226.4Z M156.8,224.8 L155.8,227.5 L153.9,225.3Z M159.7,227.1 L157.6,225.4 L160.1,224.4Z M161.5,227.0 L162.1,224.1 L164.3,226.1Z M167.4,226.8 L165.0,225.8 L167.1,224.2Z M172.0,226.6 L169.0,226.2 L170.8,223.8Z M172.8,224.4 L175.6,224.7 L174.0,227.0Z M179.5,225.7 L176.4,226.6 L177.1,223.5Z M180.2,224.9 L182.9,224.7 L181.8,227.2Z M186.9,225.0 L184.9,227.3 L183.9,224.4Z M188.9,227.4 L187.7,225.1 L190.3,225.2Z M193.6,226.1 L190.9,226.1 L192.2,223.9Z M137.1,229.5 L139.3,227.3 L140.1,230.4Z M141.4,227.5 L144.3,227.8 L142.6,230.1Z M145.9,230.8 L144.5,228.2 L147.4,228.3Z M149.2,227.7 L151.6,229.2 L149.2,230.5Z M155.4,228.2 L153.0,230.3 L152.3,227.2Z M157.0,230.1 L155.7,227.6 L158.5,227.7Z M162.1,227.8 L162.0,230.4 L159.8,229.0Z M163.8,227.5 L166.7,228.7 L164.2,230.6Z M168.1,226.7 L169.6,229.5 L166.5,229.4Z M170.7,227.7 L173.8,227.9 L172.1,230.4Z M175.5,230.2 L174.2,227.8 L176.9,228.0Z M179.6,230.1 L178.1,227.9 L180.8,227.7Z M183.0,226.9 L184.8,228.9 L182.2,229.5Z M186.9,230.9 L184.9,228.5 L188.0,227.9Z M191.9,230.3 L189.2,229.4 L191.4,227.5Z M145.0,230.9 L144.8,233.8 L142.4,232.2Z M148.8,230.4 L148.9,233.3 L146.4,232.0Z M152.1,233.2 L150.4,231.2 L153.0,230.8Z M156.7,233.5 L153.8,232.3 L156.3,230.4Z M159.9,233.3 L157.4,232.0 L159.7,230.5Z M163.9,233.3 L161.4,231.9 L163.9,230.4Z M167.8,233.5 L164.7,232.9 L166.8,230.5Z M169.2,230.9 L171.5,232.3 L169.1,233.6Z M173.9,233.4 L172.6,231.0 L175.3,231.1Z M179.4,232.3 L176.7,233.9 L176.6,230.8Z M182.3,230.9 L181.3,233.4 L179.7,231.3Z M186.7,231.7 L184.6,233.2 L184.3,230.7Z M151.1,236.2 L148.6,235.3 L150.6,233.7Z M154.5,236.7 L152.2,235.0 L154.8,233.9Z M156.2,234.3 L158.9,234.1 L157.7,236.5Z M160.4,233.9 L162.3,235.8 L159.6,236.5Z M163.1,233.9 L166.0,234.3 L164.1,236.6Z M166.9,233.9 L169.9,234.4 L167.9,236.7Z M172.8,236.7 L170.8,234.9 L173.4,234.1Z M175.7,233.6 L177.4,235.7 L174.8,236.1Z M180.7,233.6 L180.5,236.7 L177.9,235.0Z M184.6,234.0 L183.3,236.5 L181.7,234.1Z M156.4,239.9 L153.9,238.0 L156.8,236.8Z M157.9,239.4 L158.6,236.5 L160.7,238.6Z M160.9,239.0 L162.8,236.8 L163.8,239.5Z M167.0,236.9 L167.3,240.0 L164.5,238.7Z M168.8,239.7 L169.7,236.8 L171.8,239.1Z M175.2,238.2 L173.3,240.3 L172.4,237.5Z"/>
<ellipse cx="165" cy="196" rx="40.8" ry="43" fill="url(#emRim)"/>
<ellipse cx="165" cy="196" rx="40.8" ry="43" fill="#fff" filter="url(#noise)" opacity="0.18"/>
<ellipse cx="165" cy="196" rx="40.8" ry="43" fill="none" stroke="#707070" stroke-width="1.6" filter="url(#blur1)"/>
</g>
<rect x="124.6" y="243.5" width="34.4" height="1.8" fill="#fff" stroke="#222" stroke-width="0.4"/>
<text x="166.00" y="143.30" font-size="6.4" text-anchor="middle" font-weight="normal" fill="#231f20" stroke="#231f20" stroke-width="0.14" >Trimer-liposome</text>
<path d="M251.2,148.6 L353.0,148.6 L353.0,251.1 L251.2,251.1 Z" fill="none" stroke="#8a8a8a" stroke-width="0.75"/>
<line x1="249.20" y1="159.20" x2="251.20" y2="159.20" stroke="#777" stroke-width="0.7" />
<text x="247.60" y="161.40" font-size="6.3" text-anchor="end" font-weight="normal" fill="#231f20" stroke="#231f20" stroke-width="0.14" >1.3</text>
<line x1="249.20" y1="183.50" x2="251.20" y2="183.50" stroke="#777" stroke-width="0.7" />
<text x="247.60" y="185.70" font-size="6.3" text-anchor="end" font-weight="normal" fill="#231f20" stroke="#231f20" stroke-width="0.14" >1.0</text>
<line x1="249.20" y1="207.80" x2="251.20" y2="207.80" stroke="#777" stroke-width="0.7" />
<text x="247.60" y="210.00" font-size="6.3" text-anchor="end" font-weight="normal" fill="#231f20" stroke="#231f20" stroke-width="0.14" >0.7</text>
<line x1="249.20" y1="232.10" x2="251.20" y2="232.10" stroke="#777" stroke-width="0.7" />
<text x="247.60" y="234.30" font-size="6.3" text-anchor="end" font-weight="normal" fill="#231f20" stroke="#231f20" stroke-width="0.14" >0.4</text>
<line x1="250.00" y1="240.20" x2="251.20" y2="240.20" stroke="#777" stroke-width="0.7" />
<line x1="250.00" y1="224.00" x2="251.20" y2="224.00" stroke="#777" stroke-width="0.7" />
<line x1="250.00" y1="215.90" x2="251.20" y2="215.90" stroke="#777" stroke-width="0.7" />
<line x1="250.00" y1="199.70" x2="251.20" y2="199.70" stroke="#777" stroke-width="0.7" />
<line x1="250.00" y1="191.60" x2="251.20" y2="191.60" stroke="#777" stroke-width="0.7" />
<line x1="250.00" y1="175.40" x2="251.20" y2="175.40" stroke="#777" stroke-width="0.7" />
<line x1="250.00" y1="167.30" x2="251.20" y2="167.30" stroke="#777" stroke-width="0.7" />
<line x1="250.00" y1="151.10" x2="251.20" y2="151.10" stroke="#777" stroke-width="0.7" />
<line x1="251.20" y1="251.10" x2="251.20" y2="253.10" stroke="#777" stroke-width="0.7" />
<line x1="254.96" y1="251.10" x2="254.96" y2="252.20" stroke="#777" stroke-width="0.7" />
<line x1="258.72" y1="251.10" x2="258.72" y2="252.20" stroke="#777" stroke-width="0.7" />
<line x1="262.48" y1="251.10" x2="262.48" y2="252.20" stroke="#777" stroke-width="0.7" />
<line x1="266.24" y1="251.10" x2="266.24" y2="252.20" stroke="#777" stroke-width="0.7" />
<line x1="270.00" y1="251.10" x2="270.00" y2="253.10" stroke="#777" stroke-width="0.7" />
<line x1="273.76" y1="251.10" x2="273.76" y2="252.20" stroke="#777" stroke-width="0.7" />
<line x1="277.52" y1="251.10" x2="277.52" y2="252.20" stroke="#777" stroke-width="0.7" />
<line x1="281.28" y1="251.10" x2="281.28" y2="252.20" stroke="#777" stroke-width="0.7" />
<line x1="285.04" y1="251.10" x2="285.04" y2="252.20" stroke="#777" stroke-width="0.7" />
<line x1="288.80" y1="251.10" x2="288.80" y2="253.10" stroke="#777" stroke-width="0.7" />
<line x1="292.56" y1="251.10" x2="292.56" y2="252.20" stroke="#777" stroke-width="0.7" />
<line x1="296.32" y1="251.10" x2="296.32" y2="252.20" stroke="#777" stroke-width="0.7" />
<line x1="300.08" y1="251.10" x2="300.08" y2="252.20" stroke="#777" stroke-width="0.7" />
<line x1="303.84" y1="251.10" x2="303.84" y2="252.20" stroke="#777" stroke-width="0.7" />
<line x1="307.60" y1="251.10" x2="307.60" y2="253.10" stroke="#777" stroke-width="0.7" />
<line x1="311.36" y1="251.10" x2="311.36" y2="252.20" stroke="#777" stroke-width="0.7" />
<line x1="315.12" y1="251.10" x2="315.12" y2="252.20" stroke="#777" stroke-width="0.7" />
<line x1="318.88" y1="251.10" x2="318.88" y2="252.20" stroke="#777" stroke-width="0.7" />
<line x1="322.64" y1="251.10" x2="322.64" y2="252.20" stroke="#777" stroke-width="0.7" />
<line x1="326.40" y1="251.10" x2="326.40" y2="253.10" stroke="#777" stroke-width="0.7" />
<line x1="330.16" y1="251.10" x2="330.16" y2="252.20" stroke="#777" stroke-width="0.7" />
<line x1="333.92" y1="251.10" x2="333.92" y2="252.20" stroke="#777" stroke-width="0.7" />
<line x1="337.68" y1="251.10" x2="337.68" y2="252.20" stroke="#777" stroke-width="0.7" />
<line x1="341.44" y1="251.10" x2="341.44" y2="252.20" stroke="#777" stroke-width="0.7" />
<line x1="345.20" y1="251.10" x2="345.20" y2="253.10" stroke="#777" stroke-width="0.7" />
<line x1="348.96" y1="251.10" x2="348.96" y2="252.20" stroke="#777" stroke-width="0.7" />
<line x1="352.72" y1="251.10" x2="352.72" y2="252.20" stroke="#777" stroke-width="0.7" />
<text x="251.20" y="262.00" font-size="6.3" text-anchor="middle" font-weight="normal" fill="#231f20" stroke="#231f20" stroke-width="0.14" >0</text>
<text x="270.00" y="262.00" font-size="6.3" text-anchor="middle" font-weight="normal" fill="#231f20" stroke="#231f20" stroke-width="0.14" >50</text>
<text x="288.80" y="262.00" font-size="6.3" text-anchor="middle" font-weight="normal" fill="#231f20" stroke="#231f20" stroke-width="0.14" >100</text>
<text x="307.60" y="262.00" font-size="6.3" text-anchor="middle" font-weight="normal" fill="#231f20" stroke="#231f20" stroke-width="0.14" >150</text>
<text x="326.40" y="262.00" font-size="6.3" text-anchor="middle" font-weight="normal" fill="#231f20" stroke="#231f20" stroke-width="0.14" >200</text>
<text x="345.20" y="262.00" font-size="6.3" text-anchor="middle" font-weight="normal" fill="#231f20" stroke="#231f20" stroke-width="0.14" >250</text>
<text x="300.40" y="272.00" font-size="6.3" text-anchor="middle" font-weight="normal" fill="#231f20" stroke="#231f20" stroke-width="0.14" >Time (s)</text>
<text x="302.10" y="145.00" font-size="6.4" text-anchor="middle" font-weight="normal" fill="#231f20" stroke="#231f20" stroke-width="0.14" >IgL CH01</text>
<text transform="translate(227.9,200) rotate(-90)" font-size="6.5" text-anchor="middle" fill="#231f20">Mean Ca<tspan font-size="4.2" dy="-2.3">2+</tspan><tspan dy="2.3"> response (×10</tspan><tspan font-size="4.2" dy="-2.3">6</tspan><tspan dy="2.3">)</tspan></text>
<polyline points="251.50,249.60 270.00,249.40 300.00,249.30 330.00,249.20 352.50,249.30" fill="none" stroke="#9a9a9a" stroke-width="0.8" stroke-linejoin="round" stroke-linecap="round" />
<polyline points="251.50,250.46 252.50,250.52 253.50,250.55 254.50,250.62 255.50,250.52 256.50,250.61 257.50,250.16 258.50,250.38 259.50,250.62 260.50,250.47 261.50,250.60 262.50,250.09 263.50,250.03 264.50,249.70 265.50,249.65 266.50,249.47 267.50,249.00 268.50,248.93 269.50,248.80 270.50,248.97 271.50,248.75 272.50,248.31 273.50,248.51 274.50,248.06 275.50,248.18 276.50,247.83 277.50,247.67 278.50,248.01 279.50,247.59 280.50,247.51 281.50,247.81 282.50,247.68 283.50,247.32 284.50,247.59 285.50,247.32 286.50,247.33 287.50,247.04 288.50,247.36 289.50,247.18 290.50,247.27 291.50,247.20 292.50,246.86 293.50,246.85 294.50,246.72 295.50,246.67 296.50,246.60 297.50,246.69 298.50,246.81 299.50,246.48 300.50,246.80 301.50,246.60 302.50,246.57 303.50,246.80 304.50,246.61 305.50,246.51 306.50,246.57 307.50,246.67 308.50,246.33 309.50,246.77 310.50,246.28 311.50,246.64 312.50,246.67 313.50,246.25 314.50,246.62 315.50,246.40 316.50,246.50 317.50,246.20 318.50,246.23 319.50,246.32 320.50,246.73 321.50,246.37 322.50,246.67 323.50,246.78 324.50,246.81 325.50,246.54 326.50,246.57 327.50,246.68 328.50,246.83 329.50,246.52 330.50,246.87 331.50,246.92 332.50,246.97 333.50,246.59 334.50,247.07 335.50,246.67" fill="none" stroke="#2bb6e8" stroke-width="1.25" stroke-linejoin="round" stroke-linecap="round" />
<polyline points="251.50,249.80 258.00,250.00 260.80,249.90 261.40,235.00 262.30,191.00 263.50,168.00 264.60,158.80 266.10,154.50 268.40,152.59 272.20,151.98 274.50,152.49 277.60,154.09 282.20,157.60 287.60,161.93 291.00,164.37 294.50,167.07 297.50,170.07 302.90,174.60 306.50,178.15 309.80,181.93 315.90,187.55 322.00,191.56 328.20,197.58 334.30,202.04 340.40,206.32 344.00,208.43 348.10,210.72 351.90,212.47 353.00,212.73" fill="none" stroke="#f0443a" stroke-width="0.95" stroke-linejoin="round" stroke-linecap="round" />
<line x1="261.2" y1="263" x2="261.2" y2="255.5" stroke="#111" stroke-width="0.8"/><polygon points="259.7,256.6 262.7,256.6 261.2,253.2" fill="#111"/>
<line x1="342.0" y1="241.8" x2="346.3" y2="246.8" stroke="#111" stroke-width="0.75"/><polygon points="344.6,247.2 347.0,245.2 348.0,248.8" fill="#111"/>
<text x="318.20" y="164.20" font-size="6.4" text-anchor="middle" font-weight="normal" fill="#231f20" stroke="#231f20" stroke-width="0.14" >Q23 NFL</text>
<text x="318.20" y="172.20" font-size="6.4" text-anchor="middle" font-weight="normal" fill="#231f20" stroke="#231f20" stroke-width="0.14" >liposome</text>
<text x="318.20" y="180.20" font-size="6.4" text-anchor="middle" font-weight="normal" fill="#231f20" stroke="#231f20" stroke-width="0.14" >4 nM</text>
<text x="291.80" y="235.60" font-size="6.4" text-anchor="middle" font-weight="normal" fill="#231f20" stroke="#231f20" stroke-width="0.14" >Q23 NFL</text>
<text x="291.60" y="243.50" font-size="6.4" text-anchor="middle" font-weight="normal" fill="#231f20" stroke="#231f20" stroke-width="0.14" >soluble 4 nM</text>
<text x="335.50" y="230.20" font-size="6.4" text-anchor="middle" font-weight="normal" fill="#231f20" stroke="#231f20" stroke-width="0.14" >Blank</text>
<text x="335.60" y="238.20" font-size="6.4" text-anchor="middle" font-weight="normal" fill="#231f20" stroke="#231f20" stroke-width="0.14" >liposome</text>
<text x="406.40" y="148.70" font-size="6.5" text-anchor="middle" font-weight="normal" fill="#231f20" stroke="#231f20" stroke-width="0.14" >Group</text>
<line x1="391.60" y1="150.50" x2="425.90" y2="150.50" stroke="#444" stroke-width="0.75" />
<text x="485.50" y="148.70" font-size="6.5" text-anchor="middle" font-weight="normal" fill="#231f20" stroke="#231f20" stroke-width="0.14" >NHP ID</text>
<line x1="469.80" y1="150.50" x2="500.90" y2="150.50" stroke="#444" stroke-width="0.75" />
<text x="409.00" y="159.30" font-size="6.5" text-anchor="middle" font-weight="normal" fill="#231f20" stroke="#231f20" stroke-width="0.14" >Soluble trimer</text>
<text x="485.60" y="159.30" font-size="6.5" text-anchor="middle" font-weight="normal" fill="#231f20" stroke="#231f20" stroke-width="0.14" >(Q1–6)</text>
<text x="409.60" y="170.30" font-size="6.5" text-anchor="middle" font-weight="normal" fill="#231f20" stroke="#231f20" stroke-width="0.14" >Trimer-liposome</text>
<text x="485.10" y="170.30" font-size="6.5" text-anchor="middle" font-weight="normal" fill="#231f20" stroke="#231f20" stroke-width="0.14" >(Q7–12)</text>
<text x="429.40" y="189.50" font-size="6.55" text-anchor="end" font-weight="normal" fill="#231f20" stroke="#231f20" stroke-width="0.14" >NFL</text>
<rect x="436.9" y="178.4" width="34.00" height="17.4" fill="#12aeea"/>
<text x="453.90" y="189.50" font-size="6.5" text-anchor="middle" font-weight="normal" fill="#fff" stroke="#fff" stroke-width="0.0" fill-opacity="0.92">Q23</text>
<rect x="473" y="178.4" width="40.20" height="17.4" fill="#737373"/>
<text x="493.10" y="189.50" font-size="6.5" text-anchor="middle" font-weight="normal" fill="#fff" stroke="#fff" stroke-width="0.0" fill-opacity="0.92">ZM233</text>
<rect x="516.4" y="178.4" width="35.30" height="17.4" fill="#8bc651"/>
<text x="534.05" y="189.50" font-size="6.5" text-anchor="middle" font-weight="normal" fill="#fff" stroke="#fff" stroke-width="0.0" fill-opacity="0.92">WITO</text>
<rect x="554.9" y="178.4" width="41.80" height="17.4" fill="#fdb913"/>
<text x="575.80" y="189.50" font-size="6.5" text-anchor="middle" font-weight="normal" fill="#fff" stroke="#fff" stroke-width="0.0" fill-opacity="0.92">001428</text>
<rect x="599.2" y="178.4" width="41.80" height="17.4" fill="#d66fd0"/>
<text x="620.10" y="189.50" font-size="6.5" text-anchor="middle" font-weight="normal" fill="#fff" stroke="#fff" stroke-width="0.0" fill-opacity="0.92">RW020</text>
<rect x="643" y="178.4" width="42.00" height="17.4" fill="#c0521c"/>
<text x="664.00" y="189.50" font-size="6.5" text-anchor="middle" font-weight="normal" fill="#fff" stroke="#fff" stroke-width="0.0" fill-opacity="0.92">CH119</text>
<text x="429.40" y="217.40" font-size="6.55" text-anchor="end" font-weight="normal" fill="#231f20" stroke="#231f20" stroke-width="0.14" >Immunizations</text>
<text x="429.40" y="236.80" font-size="6.55" text-anchor="end" font-weight="normal" fill="#231f20" stroke="#231f20" stroke-width="0.14" >Weeks</text>
<text x="429.40" y="268.00" font-size="6.55" text-anchor="end" font-weight="normal" fill="#231f20" stroke="#231f20" stroke-width="0.14" >Bleeds</text>
<line x1="436.10" y1="226.90" x2="685.00" y2="226.90" stroke="#000" stroke-width="1.7" />
<line x1="437.6" y1="203.2" x2="437.6" y2="219.5" stroke="#1cb4ef" stroke-width="0.9"/><polygon points="435.85,218.6 439.35,218.6 437.6,222.0" fill="#1cb4ef"/>
<line x1="446.1" y1="203.2" x2="446.1" y2="219.5" stroke="#1cb4ef" stroke-width="0.9"/><polygon points="444.35,218.6 447.85,218.6 446.1,222.0" fill="#1cb4ef"/>
<line x1="454.3" y1="203.2" x2="454.3" y2="219.5" stroke="#1cb4ef" stroke-width="0.9"/><polygon points="452.55,218.6 456.05,218.6 454.3,222.0" fill="#1cb4ef"/>
<line x1="462.7" y1="203.2" x2="462.7" y2="219.5" stroke="#1cb4ef" stroke-width="0.9"/><polygon points="460.95,218.6 464.45,218.6 462.7,222.0" fill="#1cb4ef"/>
<line x1="470.9" y1="203.2" x2="470.9" y2="219.5" stroke="#1cb4ef" stroke-width="0.9"/><polygon points="469.15,218.6 472.65,218.6 470.9,222.0" fill="#1cb4ef"/>
<line x1="498.7" y1="204" x2="498.7" y2="219.5" stroke="#707070" stroke-width="0.9"/><polygon points="496.95,218.6 500.45,218.6 498.7,222.0" fill="#707070"/>
<line x1="540.3" y1="203.2" x2="540.3" y2="219.5" stroke="#8bc651" stroke-width="0.9"/><polygon points="538.55,218.6 542.05,218.6 540.3,222.0" fill="#8bc651"/>
<line x1="581.6" y1="203.2" x2="581.6" y2="219.5" stroke="#fdb913" stroke-width="0.9"/><polygon points="579.85,218.6 583.35,218.6 581.6,222.0" fill="#fdb913"/>
<line x1="623.3" y1="203.2" x2="623.3" y2="219.5" stroke="#d66fd0" stroke-width="0.9"/><polygon points="621.55,218.6 625.05,218.6 623.3,222.0" fill="#d66fd0"/>
<line x1="664.7" y1="203.2" x2="664.7" y2="219.5" stroke="#c0521c" stroke-width="0.9"/><polygon points="662.95,218.6 666.45,218.6 664.7,222.0" fill="#c0521c"/>
<text x="437.60" y="236.80" font-size="6.5" text-anchor="middle" font-weight="normal" fill="#231f20" stroke="#231f20" stroke-width="0.14" >0</text>
<text x="470.90" y="236.80" font-size="6.5" text-anchor="middle" font-weight="normal" fill="#231f20" stroke="#231f20" stroke-width="0.14" >8</text>
<text x="498.70" y="236.80" font-size="6.5" text-anchor="middle" font-weight="normal" fill="#231f20" stroke="#231f20" stroke-width="0.14" >20</text>
<text x="540.30" y="236.80" font-size="6.5" text-anchor="middle" font-weight="normal" fill="#231f20" stroke="#231f20" stroke-width="0.14" >31</text>
<text x="581.60" y="236.80" font-size="6.5" text-anchor="middle" font-weight="normal" fill="#231f20" stroke="#231f20" stroke-width="0.14" >42</text>
<text x="623.30" y="236.80" font-size="6.5" text-anchor="middle" font-weight="normal" fill="#231f20" stroke="#231f20" stroke-width="0.14" >64</text>
<text x="664.70" y="236.80" font-size="6.5" text-anchor="middle" font-weight="normal" fill="#231f20" stroke="#231f20" stroke-width="0.14" >102</text>
<line x1="473.9" y1="258.4" x2="473.9" y2="242.2" stroke="#f4232b" stroke-width="0.9"/><polygon points="472.15,243.1 475.65,243.1 473.9,239.7" fill="#f4232b"/>
<text x="473.90" y="268.00" font-size="6.5" text-anchor="middle" font-weight="normal" fill="#231f20" stroke="#231f20" stroke-width="0.14" >P1</text>
<line x1="505.5" y1="258.4" x2="505.5" y2="242.2" stroke="#f4232b" stroke-width="0.9"/><polygon points="503.75,243.1 507.25,243.1 505.5,239.7" fill="#f4232b"/>
<text x="505.50" y="268.00" font-size="6.5" text-anchor="middle" font-weight="normal" fill="#231f20" stroke="#231f20" stroke-width="0.14" >P2</text>
<line x1="546.8" y1="258.4" x2="546.8" y2="242.2" stroke="#f4232b" stroke-width="0.9"/><polygon points="545.05,243.1 548.55,243.1 546.8,239.7" fill="#f4232b"/>
<text x="546.80" y="268.00" font-size="6.5" text-anchor="middle" font-weight="normal" fill="#231f20" stroke="#231f20" stroke-width="0.14" >P3</text>
<line x1="589.7" y1="258.4" x2="589.7" y2="242.2" stroke="#f4232b" stroke-width="0.9"/><polygon points="587.95,243.1 591.45,243.1 589.7,239.7" fill="#f4232b"/>
<text x="589.70" y="268.00" font-size="6.5" text-anchor="middle" font-weight="normal" fill="#231f20" stroke="#231f20" stroke-width="0.14" >P4</text>
<line x1="632.0" y1="258.4" x2="632.0" y2="242.2" stroke="#f4232b" stroke-width="0.9"/><polygon points="630.25,243.1 633.75,243.1 632.0,239.7" fill="#f4232b"/>
<text x="632.00" y="268.00" font-size="6.5" text-anchor="middle" font-weight="normal" fill="#231f20" stroke="#231f20" stroke-width="0.14" >P5</text>
<line x1="674.2" y1="258.4" x2="674.2" y2="242.2" stroke="#f4232b" stroke-width="0.9"/><polygon points="672.45,243.1 675.95,243.1 674.2,239.7" fill="#f4232b"/>
<text x="674.20" y="268.00" font-size="6.5" text-anchor="middle" font-weight="normal" fill="#231f20" stroke="#231f20" stroke-width="0.14" >P6</text>
<defs>
<radialGradient id="gBody" cx="0.42" cy="0.38" r="0.75"><stop offset="0" stop-color="#c4c4c4"/><stop offset="0.55" stop-color="#a9a9a9"/><stop offset="0.85" stop-color="#8e8e8e"/><stop offset="1" stop-color="#7a7a7a"/></radialGradient>
<radialGradient id="gGreen" cx="0.4" cy="0.35" r="0.8"><stop offset="0" stop-color="#55b866"/><stop offset="0.6" stop-color="#389a4c"/><stop offset="1" stop-color="#267436"/></radialGradient>
<radialGradient id="gPurp" cx="0.45" cy="0.4" r="0.8"><stop offset="0" stop-color="#b46cf0"/><stop offset="0.6" stop-color="#9d4de2"/><stop offset="1" stop-color="#8036c4"/></radialGradient>
<radialGradient id="gBlue" cx="0.45" cy="0.4" r="0.8"><stop offset="0" stop-color="#5c9af5"/><stop offset="0.6" stop-color="#3a78e6"/><stop offset="1" stop-color="#2a5fc0"/></radialGradient>
<radialGradient id="gYel" cx="0.45" cy="0.4" r="0.8"><stop offset="0" stop-color="#f6f0c0"/><stop offset="0.7" stop-color="#e9e2a6"/><stop offset="1" stop-color="#d6cc88"/></radialGradient>
<filter id="soft" x="-0.2" y="-0.2" width="1.4" height="1.4"><feGaussianBlur stdDeviation="1.2"/></filter>
</defs>
<clipPath id="clQ7"><path d="M34.10,338.70 C34.63,336.55 36.03,332.62 37.70,330.60 C39.37,328.58 41.95,327.72 44.10,326.60 C46.25,325.48 48.18,324.43 50.60,323.90 C53.02,323.37 56.53,323.22 58.60,323.40 C60.67,323.58 61.43,324.65 63.00,325.00 C64.57,325.35 66.03,325.10 68.00,325.50 C69.97,325.90 72.60,326.68 74.80,327.40 C77.00,328.12 79.45,328.58 81.20,329.80 C82.95,331.02 84.22,332.68 85.30,334.70 C86.38,336.72 87.43,339.62 87.70,341.90 C87.97,344.18 87.58,346.38 86.90,348.40 C86.22,350.42 84.82,352.65 83.60,354.00 C82.38,355.35 80.80,355.28 79.60,356.50 C78.40,357.72 78.02,360.10 76.40,361.30 C74.78,362.50 72.32,363.12 69.90,363.70 C67.48,364.28 64.58,364.77 61.90,364.80 C59.22,364.83 56.08,364.48 53.80,363.90 C51.52,363.32 49.42,362.82 48.20,361.30 C46.98,359.78 47.45,356.42 46.50,354.80 C45.55,353.18 44.10,352.67 42.50,351.60 C40.90,350.53 38.23,349.75 36.90,348.40 C35.57,347.05 34.97,345.12 34.50,343.50 C34.03,341.88 33.57,340.85 34.10,338.70 Z"/></clipPath>
<g clip-path="url(#clQ7)">
<path d="M34.10,338.70 C34.63,336.55 36.03,332.62 37.70,330.60 C39.37,328.58 41.95,327.72 44.10,326.60 C46.25,325.48 48.18,324.43 50.60,323.90 C53.02,323.37 56.53,323.22 58.60,323.40 C60.67,323.58 61.43,324.65 63.00,325.00 C64.57,325.35 66.03,325.10 68.00,325.50 C69.97,325.90 72.60,326.68 74.80,327.40 C77.00,328.12 79.45,328.58 81.20,329.80 C82.95,331.02 84.22,332.68 85.30,334.70 C86.38,336.72 87.43,339.62 87.70,341.90 C87.97,344.18 87.58,346.38 86.90,348.40 C86.22,350.42 84.82,352.65 83.60,354.00 C82.38,355.35 80.80,355.28 79.60,356.50 C78.40,357.72 78.02,360.10 76.40,361.30 C74.78,362.50 72.32,363.12 69.90,363.70 C67.48,364.28 64.58,364.77 61.90,364.80 C59.22,364.83 56.08,364.48 53.80,363.90 C51.52,363.32 49.42,362.82 48.20,361.30 C46.98,359.78 47.45,356.42 46.50,354.80 C45.55,353.18 44.10,352.67 42.50,351.60 C40.90,350.53 38.23,349.75 36.90,348.40 C35.57,347.05 34.97,345.12 34.50,343.50 C34.03,341.88 33.57,340.85 34.10,338.70 Z" fill="#acacac"/>
<ellipse cx="43.21" cy="340.79" rx="7.50" ry="9.94" fill="#cbcbcb" opacity="0.95" filter="url(#soft)"/>
<ellipse cx="68.40" cy="333.34" rx="10.72" ry="5.80" fill="#c2c2c2" opacity="0.85" filter="url(#soft)"/>
<ellipse cx="58.22" cy="358.18" rx="8.58" ry="4.55" fill="#c0c0c0" opacity="0.9" filter="url(#soft)"/>
<ellipse cx="79.66" cy="337.89" rx="4.29" ry="4.97" fill="#c0c0c0" opacity="0.75" filter="url(#soft)"/>
<ellipse cx="75.37" cy="345.34" rx="4.82" ry="4.97" fill="#7a7a7a" opacity="0.8" filter="url(#soft)"/>
<ellipse cx="66.26" cy="346.17" rx="3.75" ry="8.28" fill="#959595" opacity="0.6" filter="url(#soft)"/>
<ellipse cx="50.18" cy="355.69" rx="3.22" ry="4.14" fill="#8a8a8a" opacity="0.6" filter="url(#soft)"/>
<path d="M52.32,328.37 C50.18,335.82 49.11,344.10 53.40,351.55" fill="none" stroke="#666" stroke-width="2.3" filter="url(#soft)" opacity="0.85"/>
<path d="M34.10,338.70 C34.63,336.55 36.03,332.62 37.70,330.60 C39.37,328.58 41.95,327.72 44.10,326.60 C46.25,325.48 48.18,324.43 50.60,323.90 C53.02,323.37 56.53,323.22 58.60,323.40 C60.67,323.58 61.43,324.65 63.00,325.00 C64.57,325.35 66.03,325.10 68.00,325.50 C69.97,325.90 72.60,326.68 74.80,327.40 C77.00,328.12 79.45,328.58 81.20,329.80 C82.95,331.02 84.22,332.68 85.30,334.70 C86.38,336.72 87.43,339.62 87.70,341.90 C87.97,344.18 87.58,346.38 86.90,348.40 C86.22,350.42 84.82,352.65 83.60,354.00 C82.38,355.35 80.80,355.28 79.60,356.50 C78.40,357.72 78.02,360.10 76.40,361.30 C74.78,362.50 72.32,363.12 69.90,363.70 C67.48,364.28 64.58,364.77 61.90,364.80 C59.22,364.83 56.08,364.48 53.80,363.90 C51.52,363.32 49.42,362.82 48.20,361.30 C46.98,359.78 47.45,356.42 46.50,354.80 C45.55,353.18 44.10,352.67 42.50,351.60 C40.90,350.53 38.23,349.75 36.90,348.40 C35.57,347.05 34.97,345.12 34.50,343.50 C34.03,341.88 33.57,340.85 34.10,338.70 Z" fill="none" stroke="#858585" stroke-width="2.0" filter="url(#soft)" opacity="0.6"/>
</g>
<path d="M60.00,305.80 C60.83,305.10 62.33,304.43 63.50,304.30 C64.67,304.17 66.20,304.38 67.00,305.00 C67.80,305.62 68.17,306.83 68.30,308.00 C68.43,309.17 68.05,310.75 67.80,312.00 C67.55,313.25 66.52,314.33 66.80,315.50 C67.08,316.67 68.55,317.75 69.50,319.00 C70.45,320.25 71.83,321.58 72.50,323.00 C73.17,324.42 73.83,326.40 73.50,327.50 C73.17,328.60 71.75,329.25 70.50,329.60 C69.25,329.95 67.33,329.87 66.00,329.60 C64.67,329.33 63.33,328.93 62.50,328.00 C61.67,327.07 61.33,325.42 61.00,324.00 C60.67,322.58 60.75,320.83 60.50,319.50 C60.25,318.17 59.83,317.25 59.50,316.00 C59.17,314.75 58.67,313.25 58.50,312.00 C58.33,310.75 58.25,309.53 58.50,308.50 C58.75,307.47 59.17,306.50 60.00,305.80 Z" fill="url(#gGreen)"/>
<path d="M70.00,358.50 C70.75,357.75 72.50,356.75 73.50,357.00 C74.50,357.25 75.50,358.83 76.00,360.00 C76.50,361.17 75.83,363.08 76.50,364.00 C77.17,364.92 78.42,365.08 80.00,365.50 C81.58,365.92 84.33,365.92 86.00,366.50 C87.67,367.08 89.20,367.92 90.00,369.00 C90.80,370.08 91.05,371.67 90.80,373.00 C90.55,374.33 89.97,375.93 88.50,377.00 C87.03,378.07 84.42,379.07 82.00,379.40 C79.58,379.73 76.33,379.32 74.00,379.00 C71.67,378.68 69.37,378.33 68.00,377.50 C66.63,376.67 65.97,375.08 65.80,374.00 C65.63,372.92 66.13,371.75 67.00,371.00 C67.87,370.25 70.42,370.50 71.00,369.50 C71.58,368.50 70.83,366.33 70.50,365.00 C70.17,363.67 69.08,362.58 69.00,361.50 C68.92,360.42 69.25,359.25 70.00,358.50 Z" fill="url(#gPurp)"/>
<text x="59.80" y="298.20" font-size="6.4" text-anchor="middle" font-weight="normal" fill="#231f20" stroke="#231f20" stroke-width="0.14" >Q7</text>
<clipPath id="clQ8"><path d="M118.50,339.50 C118.77,337.22 119.83,334.18 121.70,332.30 C123.57,330.42 127.02,329.28 129.70,328.20 C132.38,327.12 135.37,326.07 137.80,325.80 C140.23,325.53 141.88,326.47 144.30,326.60 C146.72,326.73 149.62,326.20 152.30,326.60 C154.98,327.00 158.25,327.78 160.40,329.00 C162.55,330.22 163.92,331.75 165.20,333.90 C166.48,336.05 167.83,339.75 168.10,341.90 C168.37,344.05 167.82,345.45 166.80,346.80 C165.78,348.15 163.33,348.67 162.00,350.00 C160.67,351.33 159.60,353.18 158.80,354.80 C158.00,356.42 158.28,358.48 157.20,359.70 C156.12,360.92 154.45,361.57 152.30,362.10 C150.15,362.63 146.98,363.03 144.30,362.90 C141.62,362.77 138.35,362.23 136.20,361.30 C134.05,360.37 132.48,358.92 131.40,357.30 C130.32,355.68 130.78,352.95 129.70,351.60 C128.62,350.25 126.50,350.13 124.90,349.20 C123.30,348.27 121.17,347.62 120.10,346.00 C119.03,344.38 118.23,341.78 118.50,339.50 Z"/></clipPath>
<g clip-path="url(#clQ8)">
<path d="M118.50,339.50 C118.77,337.22 119.83,334.18 121.70,332.30 C123.57,330.42 127.02,329.28 129.70,328.20 C132.38,327.12 135.37,326.07 137.80,325.80 C140.23,325.53 141.88,326.47 144.30,326.60 C146.72,326.73 149.62,326.20 152.30,326.60 C154.98,327.00 158.25,327.78 160.40,329.00 C162.55,330.22 163.92,331.75 165.20,333.90 C166.48,336.05 167.83,339.75 168.10,341.90 C168.37,344.05 167.82,345.45 166.80,346.80 C165.78,348.15 163.33,348.67 162.00,350.00 C160.67,351.33 159.60,353.18 158.80,354.80 C158.00,356.42 158.28,358.48 157.20,359.70 C156.12,360.92 154.45,361.57 152.30,362.10 C150.15,362.63 146.98,363.03 144.30,362.90 C141.62,362.77 138.35,362.23 136.20,361.30 C134.05,360.37 132.48,358.92 131.40,357.30 C130.32,355.68 130.78,352.95 129.70,351.60 C128.62,350.25 126.50,350.13 124.90,349.20 C123.30,348.27 121.17,347.62 120.10,346.00 C119.03,344.38 118.23,341.78 118.50,339.50 Z" fill="#acacac"/>
<ellipse cx="126.93" cy="341.38" rx="6.94" ry="8.90" fill="#cbcbcb" opacity="0.95" filter="url(#soft)"/>
<ellipse cx="150.24" cy="334.70" rx="9.92" ry="5.19" fill="#c2c2c2" opacity="0.85" filter="url(#soft)"/>
<ellipse cx="140.82" cy="356.96" rx="7.94" ry="4.08" fill="#c0c0c0" opacity="0.9" filter="url(#soft)"/>
<ellipse cx="160.66" cy="338.79" rx="3.97" ry="4.45" fill="#c0c0c0" opacity="0.75" filter="url(#soft)"/>
<ellipse cx="156.69" cy="345.46" rx="4.46" ry="4.45" fill="#7a7a7a" opacity="0.8" filter="url(#soft)"/>
<ellipse cx="148.26" cy="346.20" rx="3.47" ry="7.42" fill="#959595" opacity="0.6" filter="url(#soft)"/>
<ellipse cx="133.38" cy="354.74" rx="2.98" ry="3.71" fill="#8a8a8a" opacity="0.6" filter="url(#soft)"/>
<path d="M135.36,330.25 C133.38,336.93 132.39,344.35 136.36,351.03" fill="none" stroke="#666" stroke-width="2.3" filter="url(#soft)" opacity="0.85"/>
<path d="M118.50,339.50 C118.77,337.22 119.83,334.18 121.70,332.30 C123.57,330.42 127.02,329.28 129.70,328.20 C132.38,327.12 135.37,326.07 137.80,325.80 C140.23,325.53 141.88,326.47 144.30,326.60 C146.72,326.73 149.62,326.20 152.30,326.60 C154.98,327.00 158.25,327.78 160.40,329.00 C162.55,330.22 163.92,331.75 165.20,333.90 C166.48,336.05 167.83,339.75 168.10,341.90 C168.37,344.05 167.82,345.45 166.80,346.80 C165.78,348.15 163.33,348.67 162.00,350.00 C160.67,351.33 159.60,353.18 158.80,354.80 C158.00,356.42 158.28,358.48 157.20,359.70 C156.12,360.92 154.45,361.57 152.30,362.10 C150.15,362.63 146.98,363.03 144.30,362.90 C141.62,362.77 138.35,362.23 136.20,361.30 C134.05,360.37 132.48,358.92 131.40,357.30 C130.32,355.68 130.78,352.95 129.70,351.60 C128.62,350.25 126.50,350.13 124.90,349.20 C123.30,348.27 121.17,347.62 120.10,346.00 C119.03,344.38 118.23,341.78 118.50,339.50 Z" fill="none" stroke="#858585" stroke-width="2.0" filter="url(#soft)" opacity="0.6"/>
</g>
<path d="M143.00,304.50 C144.08,304.05 146.00,304.22 147.50,304.30 C149.00,304.38 151.00,304.38 152.00,305.00 C153.00,305.62 153.42,306.92 153.50,308.00 C153.58,309.08 152.92,310.50 152.50,311.50 C152.08,312.50 150.92,312.92 151.00,314.00 C151.08,315.08 152.53,316.50 153.00,318.00 C153.47,319.50 154.05,321.42 153.80,323.00 C153.55,324.58 152.63,326.42 151.50,327.50 C150.37,328.58 148.33,329.50 147.00,329.50 C145.67,329.50 144.42,328.58 143.50,327.50 C142.58,326.42 141.75,324.50 141.50,323.00 C141.25,321.50 142.08,319.83 142.00,318.50 C141.92,317.17 141.33,316.25 141.00,315.00 C140.67,313.75 140.00,312.33 140.00,311.00 C140.00,309.67 140.50,308.08 141.00,307.00 C141.50,305.92 141.92,304.95 143.00,304.50 Z" fill="url(#gGreen)"/>
<path d="M137.00,361.30 C138.92,361.05 139.75,360.63 140.50,361.00 C141.25,361.37 141.67,362.42 141.50,363.50 C141.33,364.58 140.42,366.17 139.50,367.50 C138.58,368.83 137.42,370.17 136.00,371.50 C134.58,372.83 132.58,374.63 131.00,375.50 C129.42,376.37 127.83,376.87 126.50,376.70 C125.17,376.53 123.68,375.62 123.00,374.50 C122.32,373.38 122.15,371.58 122.40,370.00 C122.65,368.42 123.40,366.25 124.50,365.00 C125.60,363.75 126.92,363.12 129.00,362.50 C131.08,361.88 135.08,361.55 137.00,361.30 Z" fill="url(#gPurp)"/>
<text x="143.70" y="298.20" font-size="6.4" text-anchor="middle" font-weight="normal" fill="#231f20" stroke="#231f20" stroke-width="0.14" >Q8</text>
<clipPath id="clQ9"><path d="M198.50,338.70 C199.43,335.87 202.22,331.55 204.90,329.00 C207.58,326.45 211.37,324.47 214.60,323.40 C217.83,322.33 221.08,322.60 224.30,322.60 C227.52,322.60 230.95,322.60 233.90,323.40 C236.85,324.20 239.72,325.65 242.00,327.40 C244.28,329.15 246.25,331.48 247.60,333.90 C248.95,336.32 249.95,339.48 250.10,341.90 C250.25,344.32 249.58,346.52 248.50,348.40 C247.42,350.28 245.22,351.72 243.60,353.20 C241.98,354.68 240.95,355.95 238.80,357.30 C236.65,358.65 233.12,360.37 230.70,361.30 C228.28,362.23 226.72,362.77 224.30,362.90 C221.88,363.03 218.50,362.77 216.20,362.10 C213.90,361.43 211.85,360.38 210.50,358.90 C209.15,357.42 209.30,354.68 208.10,353.20 C206.90,351.72 204.77,351.20 203.30,350.00 C201.83,348.80 200.10,347.88 199.30,346.00 C198.50,344.12 197.57,341.53 198.50,338.70 Z"/></clipPath>
<g clip-path="url(#clQ9)">
<path d="M198.50,338.70 C199.43,335.87 202.22,331.55 204.90,329.00 C207.58,326.45 211.37,324.47 214.60,323.40 C217.83,322.33 221.08,322.60 224.30,322.60 C227.52,322.60 230.95,322.60 233.90,323.40 C236.85,324.20 239.72,325.65 242.00,327.40 C244.28,329.15 246.25,331.48 247.60,333.90 C248.95,336.32 249.95,339.48 250.10,341.90 C250.25,344.32 249.58,346.52 248.50,348.40 C247.42,350.28 245.22,351.72 243.60,353.20 C241.98,354.68 240.95,355.95 238.80,357.30 C236.65,358.65 233.12,360.37 230.70,361.30 C228.28,362.23 226.72,362.77 224.30,362.90 C221.88,363.03 218.50,362.77 216.20,362.10 C213.90,361.43 211.85,360.38 210.50,358.90 C209.15,357.42 209.30,354.68 208.10,353.20 C206.90,351.72 204.77,351.20 203.30,350.00 C201.83,348.80 200.10,347.88 199.30,346.00 C198.50,344.12 197.57,341.53 198.50,338.70 Z" fill="#acacac"/>
<ellipse cx="207.27" cy="339.53" rx="7.22" ry="9.67" fill="#cbcbcb" opacity="0.95" filter="url(#soft)"/>
<ellipse cx="231.52" cy="332.27" rx="10.32" ry="5.64" fill="#c2c2c2" opacity="0.85" filter="url(#soft)"/>
<ellipse cx="221.72" cy="356.45" rx="8.26" ry="4.43" fill="#c0c0c0" opacity="0.9" filter="url(#soft)"/>
<ellipse cx="242.36" cy="336.70" rx="4.13" ry="4.84" fill="#c0c0c0" opacity="0.75" filter="url(#soft)"/>
<ellipse cx="238.23" cy="343.96" rx="4.64" ry="4.84" fill="#7a7a7a" opacity="0.8" filter="url(#soft)"/>
<ellipse cx="229.46" cy="344.76" rx="3.61" ry="8.06" fill="#959595" opacity="0.6" filter="url(#soft)"/>
<ellipse cx="213.98" cy="354.03" rx="3.10" ry="4.03" fill="#8a8a8a" opacity="0.6" filter="url(#soft)"/>
<path d="M216.04,327.44 C213.98,334.69 212.95,342.75 217.08,350.00" fill="none" stroke="#666" stroke-width="2.3" filter="url(#soft)" opacity="0.85"/>
<path d="M198.50,338.70 C199.43,335.87 202.22,331.55 204.90,329.00 C207.58,326.45 211.37,324.47 214.60,323.40 C217.83,322.33 221.08,322.60 224.30,322.60 C227.52,322.60 230.95,322.60 233.90,323.40 C236.85,324.20 239.72,325.65 242.00,327.40 C244.28,329.15 246.25,331.48 247.60,333.90 C248.95,336.32 249.95,339.48 250.10,341.90 C250.25,344.32 249.58,346.52 248.50,348.40 C247.42,350.28 245.22,351.72 243.60,353.20 C241.98,354.68 240.95,355.95 238.80,357.30 C236.65,358.65 233.12,360.37 230.70,361.30 C228.28,362.23 226.72,362.77 224.30,362.90 C221.88,363.03 218.50,362.77 216.20,362.10 C213.90,361.43 211.85,360.38 210.50,358.90 C209.15,357.42 209.30,354.68 208.10,353.20 C206.90,351.72 204.77,351.20 203.30,350.00 C201.83,348.80 200.10,347.88 199.30,346.00 C198.50,344.12 197.57,341.53 198.50,338.70 Z" fill="none" stroke="#858585" stroke-width="2.0" filter="url(#soft)" opacity="0.6"/>
</g>
<path d="M221.00,306.50 C222.37,305.68 224.33,305.65 226.00,305.60 C227.67,305.55 229.93,305.55 231.00,306.20 C232.07,306.85 232.40,308.28 232.40,309.50 C232.40,310.72 231.65,312.33 231.00,313.50 C230.35,314.67 228.75,315.42 228.50,316.50 C228.25,317.58 229.17,318.67 229.50,320.00 C229.83,321.33 230.75,323.08 230.50,324.50 C230.25,325.92 229.08,327.68 228.00,328.50 C226.92,329.32 224.83,329.98 224.00,329.40 C223.17,328.82 223.08,326.48 223.00,325.00 C222.92,323.52 223.75,321.75 223.50,320.50 C223.25,319.25 222.33,318.42 221.50,317.50 C220.67,316.58 219.12,316.17 218.50,315.00 C217.88,313.83 217.38,311.92 217.80,310.50 C218.22,309.08 219.63,307.32 221.00,306.50 Z" fill="url(#gGreen)"/>
<path d="M227.00,360.00 C227.75,359.48 229.50,358.98 231.00,358.90 C232.50,358.82 234.42,359.15 236.00,359.50 C237.58,359.85 239.00,360.75 240.50,361.00 C242.00,361.25 243.50,360.75 245.00,361.00 C246.50,361.25 248.38,361.67 249.50,362.50 C250.62,363.33 251.45,364.67 251.70,366.00 C251.95,367.33 251.70,369.42 251.00,370.50 C250.30,371.58 248.83,372.00 247.50,372.50 C246.17,373.00 244.08,372.92 243.00,373.50 C241.92,374.08 241.83,375.50 241.00,376.00 C240.17,376.50 238.75,377.00 238.00,376.50 C237.25,376.00 236.83,374.25 236.50,373.00 C236.17,371.75 236.75,370.08 236.00,369.00 C235.25,367.92 233.33,367.25 232.00,366.50 C230.67,365.75 228.92,365.25 228.00,364.50 C227.08,363.75 226.67,362.75 226.50,362.00 C226.33,361.25 226.25,360.52 227.00,360.00 Z" fill="url(#gPurp)"/>
<text x="221.00" y="298.20" font-size="6.4" text-anchor="middle" font-weight="normal" fill="#231f20" stroke="#231f20" stroke-width="0.14" >Q9</text>
<clipPath id="clQ10"><path d="M285.70,337.10 C285.78,335.22 285.93,331.42 287.00,329.00 C288.07,326.58 289.90,324.35 292.10,322.60 C294.30,320.85 297.23,319.45 300.20,318.50 C303.17,317.55 306.68,317.03 309.90,316.90 C313.12,316.77 316.55,317.02 319.50,317.70 C322.45,318.38 325.30,319.38 327.60,321.00 C329.90,322.62 331.68,324.98 333.30,327.40 C334.92,329.82 336.77,333.08 337.30,335.50 C337.83,337.92 337.30,340.15 336.50,341.90 C335.70,343.65 333.98,344.92 332.50,346.00 C331.02,347.08 329.22,347.47 327.60,348.40 C325.98,349.33 324.68,350.25 322.80,351.60 C320.92,352.95 318.72,355.28 316.30,356.50 C313.88,357.72 310.98,358.63 308.30,358.90 C305.62,359.17 302.35,359.05 300.20,358.10 C298.05,357.15 296.35,354.95 295.40,353.20 C294.45,351.45 295.32,349.22 294.50,347.60 C293.68,345.98 291.83,344.72 290.50,343.50 C289.17,342.28 287.30,341.37 286.50,340.30 C285.70,339.23 285.62,338.98 285.70,337.10 Z"/></clipPath>
<g clip-path="url(#clQ10)">
<path d="M285.70,337.10 C285.78,335.22 285.93,331.42 287.00,329.00 C288.07,326.58 289.90,324.35 292.10,322.60 C294.30,320.85 297.23,319.45 300.20,318.50 C303.17,317.55 306.68,317.03 309.90,316.90 C313.12,316.77 316.55,317.02 319.50,317.70 C322.45,318.38 325.30,319.38 327.60,321.00 C329.90,322.62 331.68,324.98 333.30,327.40 C334.92,329.82 336.77,333.08 337.30,335.50 C337.83,337.92 337.30,340.15 336.50,341.90 C335.70,343.65 333.98,344.92 332.50,346.00 C331.02,347.08 329.22,347.47 327.60,348.40 C325.98,349.33 324.68,350.25 322.80,351.60 C320.92,352.95 318.72,355.28 316.30,356.50 C313.88,357.72 310.98,358.63 308.30,358.90 C305.62,359.17 302.35,359.05 300.20,358.10 C298.05,357.15 296.35,354.95 295.40,353.20 C294.45,351.45 295.32,349.22 294.50,347.60 C293.68,345.98 291.83,344.72 290.50,343.50 C289.17,342.28 287.30,341.37 286.50,340.30 C285.70,339.23 285.62,338.98 285.70,337.10 Z" fill="#acacac"/>
<ellipse cx="294.47" cy="334.54" rx="7.22" ry="10.08" fill="#cbcbcb" opacity="0.95" filter="url(#soft)"/>
<ellipse cx="318.72" cy="326.98" rx="10.32" ry="5.88" fill="#c2c2c2" opacity="0.85" filter="url(#soft)"/>
<ellipse cx="308.92" cy="352.18" rx="8.26" ry="4.62" fill="#c0c0c0" opacity="0.9" filter="url(#soft)"/>
<ellipse cx="329.56" cy="331.60" rx="4.13" ry="5.04" fill="#c0c0c0" opacity="0.75" filter="url(#soft)"/>
<ellipse cx="325.43" cy="339.16" rx="4.64" ry="5.04" fill="#7a7a7a" opacity="0.8" filter="url(#soft)"/>
<ellipse cx="316.66" cy="340.00" rx="3.61" ry="8.40" fill="#959595" opacity="0.6" filter="url(#soft)"/>
<ellipse cx="301.18" cy="349.66" rx="3.10" ry="4.20" fill="#8a8a8a" opacity="0.6" filter="url(#soft)"/>
<path d="M303.24,321.94 C301.18,329.50 300.15,337.90 304.28,345.46" fill="none" stroke="#666" stroke-width="2.3" filter="url(#soft)" opacity="0.85"/>
<path d="M285.70,337.10 C285.78,335.22 285.93,331.42 287.00,329.00 C288.07,326.58 289.90,324.35 292.10,322.60 C294.30,320.85 297.23,319.45 300.20,318.50 C303.17,317.55 306.68,317.03 309.90,316.90 C313.12,316.77 316.55,317.02 319.50,317.70 C322.45,318.38 325.30,319.38 327.60,321.00 C329.90,322.62 331.68,324.98 333.30,327.40 C334.92,329.82 336.77,333.08 337.30,335.50 C337.83,337.92 337.30,340.15 336.50,341.90 C335.70,343.65 333.98,344.92 332.50,346.00 C331.02,347.08 329.22,347.47 327.60,348.40 C325.98,349.33 324.68,350.25 322.80,351.60 C320.92,352.95 318.72,355.28 316.30,356.50 C313.88,357.72 310.98,358.63 308.30,358.90 C305.62,359.17 302.35,359.05 300.20,358.10 C298.05,357.15 296.35,354.95 295.40,353.20 C294.45,351.45 295.32,349.22 294.50,347.60 C293.68,345.98 291.83,344.72 290.50,343.50 C289.17,342.28 287.30,341.37 286.50,340.30 C285.70,339.23 285.62,338.98 285.70,337.10 Z" fill="none" stroke="#858585" stroke-width="2.0" filter="url(#soft)" opacity="0.6"/>
</g>
<path d="M313.80,310.50 C314.45,309.65 315.80,309.07 317.00,308.90 C318.20,308.73 320.03,308.90 321.00,309.50 C321.97,310.10 322.72,311.50 322.80,312.50 C322.88,313.50 322.05,314.67 321.50,315.50 C320.95,316.33 319.92,316.58 319.50,317.50 C319.08,318.42 319.13,319.58 319.00,321.00 C318.87,322.42 319.12,324.53 318.70,326.00 C318.28,327.47 317.37,329.22 316.50,329.80 C315.63,330.38 314.17,330.13 313.50,329.50 C312.83,328.87 312.50,327.42 312.50,326.00 C312.50,324.58 313.17,322.42 313.50,321.00 C313.83,319.58 314.57,318.67 314.50,317.50 C314.43,316.33 313.22,315.17 313.10,314.00 C312.98,312.83 313.15,311.35 313.80,310.50 Z" fill="url(#gGreen)"/>
<path d="M280.80,329.80 C280.93,329.03 280.98,327.70 281.60,327.40 C282.22,327.10 283.28,327.18 284.50,328.00 C285.72,328.82 287.40,331.37 288.90,332.30 C290.40,333.23 291.88,333.33 293.50,333.60 C295.12,333.87 296.93,333.92 298.60,333.90 C300.27,333.88 301.88,333.77 303.50,333.50 C305.12,333.23 306.97,332.80 308.30,332.30 C309.63,331.80 310.43,331.18 311.50,330.50 C312.57,329.82 313.63,328.85 314.70,328.20 C315.77,327.55 317.15,326.72 317.90,326.60 C318.65,326.48 319.07,326.97 319.20,327.50 C319.33,328.03 319.15,329.05 318.70,329.80 C318.25,330.55 317.43,331.18 316.50,332.00 C315.57,332.82 314.18,333.78 313.10,334.70 C312.02,335.62 311.08,336.57 310.00,337.50 C308.92,338.43 307.93,339.55 306.60,340.30 C305.27,341.05 303.60,341.52 302.00,342.00 C300.40,342.48 298.58,343.12 297.00,343.20 C295.42,343.28 293.85,342.98 292.50,342.50 C291.15,342.02 290.07,341.13 288.90,340.30 C287.73,339.47 286.57,338.43 285.50,337.50 C284.43,336.57 283.28,335.62 282.50,334.70 C281.72,333.78 281.08,332.82 280.80,332.00 C280.52,331.18 280.67,330.57 280.80,329.80 Z" fill="url(#gBlue)"/>
<path d="M326.50,348.60 C327.25,348.17 328.42,348.25 329.50,348.40 C330.58,348.55 331.92,348.90 333.00,349.50 C334.08,350.10 335.42,350.92 336.00,352.00 C336.58,353.08 336.67,354.83 336.50,356.00 C336.33,357.17 335.17,357.92 335.00,359.00 C334.83,360.08 335.58,361.33 335.50,362.50 C335.42,363.67 335.25,365.13 334.50,366.00 C333.75,366.87 332.25,367.53 331.00,367.70 C329.75,367.87 328.17,367.45 327.00,367.00 C325.83,366.55 325.08,365.42 324.00,365.00 C322.92,364.58 321.75,364.75 320.50,364.50 C319.25,364.25 317.47,364.00 316.50,363.50 C315.53,363.00 314.70,362.17 314.70,361.50 C314.70,360.83 315.45,359.83 316.50,359.50 C317.55,359.17 319.58,359.45 321.00,359.50 C322.42,359.55 324.00,360.13 325.00,359.80 C326.00,359.47 326.83,358.47 327.00,357.50 C327.17,356.53 326.33,355.08 326.00,354.00 C325.67,352.92 324.92,351.90 325.00,351.00 C325.08,350.10 325.75,349.03 326.50,348.60 Z" fill="url(#gPurp)"/>
<text x="307.00" y="298.20" font-size="6.4" text-anchor="middle" font-weight="normal" fill="#231f20" stroke="#231f20" stroke-width="0.14" >Q10</text>
<clipPath id="clQ11"><path d="M364.30,337.10 C364.57,334.27 366.28,330.08 368.30,327.40 C370.32,324.72 373.45,322.48 376.40,321.00 C379.35,319.52 382.78,319.05 386.00,318.50 C389.22,317.95 392.47,317.42 395.70,317.70 C398.93,317.98 402.58,318.72 405.40,320.20 C408.22,321.68 410.58,324.18 412.60,326.60 C414.62,329.02 416.55,332.42 417.50,334.70 C418.45,336.98 418.70,338.68 418.30,340.30 C417.90,341.92 416.72,343.32 415.10,344.40 C413.48,345.48 410.08,345.60 408.60,346.80 C407.12,348.00 406.73,349.98 406.20,351.60 C405.67,353.22 406.62,355.28 405.40,356.50 C404.18,357.72 401.58,358.50 398.90,358.90 C396.22,359.30 392.25,359.30 389.30,358.90 C386.35,358.50 383.22,357.72 381.20,356.50 C379.18,355.28 378.68,352.95 377.20,351.60 C375.72,350.25 374.05,349.60 372.30,348.40 C370.55,347.20 368.03,346.28 366.70,344.40 C365.37,342.52 364.03,339.93 364.30,337.10 Z"/></clipPath>
<g clip-path="url(#clQ11)">
<path d="M364.30,337.10 C364.57,334.27 366.28,330.08 368.30,327.40 C370.32,324.72 373.45,322.48 376.40,321.00 C379.35,319.52 382.78,319.05 386.00,318.50 C389.22,317.95 392.47,317.42 395.70,317.70 C398.93,317.98 402.58,318.72 405.40,320.20 C408.22,321.68 410.58,324.18 412.60,326.60 C414.62,329.02 416.55,332.42 417.50,334.70 C418.45,336.98 418.70,338.68 418.30,340.30 C417.90,341.92 416.72,343.32 415.10,344.40 C413.48,345.48 410.08,345.60 408.60,346.80 C407.12,348.00 406.73,349.98 406.20,351.60 C405.67,353.22 406.62,355.28 405.40,356.50 C404.18,357.72 401.58,358.50 398.90,358.90 C396.22,359.30 392.25,359.30 389.30,358.90 C386.35,358.50 383.22,357.72 381.20,356.50 C379.18,355.28 378.68,352.95 377.20,351.60 C375.72,350.25 374.05,349.60 372.30,348.40 C370.55,347.20 368.03,346.28 366.70,344.40 C365.37,342.52 364.03,339.93 364.30,337.10 Z" fill="#acacac"/>
<ellipse cx="373.48" cy="335.00" rx="7.56" ry="9.89" fill="#cbcbcb" opacity="0.95" filter="url(#soft)"/>
<ellipse cx="398.86" cy="327.59" rx="10.80" ry="5.77" fill="#c2c2c2" opacity="0.85" filter="url(#soft)"/>
<ellipse cx="388.60" cy="352.31" rx="8.64" ry="4.53" fill="#c0c0c0" opacity="0.9" filter="url(#soft)"/>
<ellipse cx="410.20" cy="332.12" rx="4.32" ry="4.94" fill="#c0c0c0" opacity="0.75" filter="url(#soft)"/>
<ellipse cx="405.88" cy="339.54" rx="4.86" ry="4.94" fill="#7a7a7a" opacity="0.8" filter="url(#soft)"/>
<ellipse cx="396.70" cy="340.36" rx="3.78" ry="8.24" fill="#959595" opacity="0.6" filter="url(#soft)"/>
<ellipse cx="380.50" cy="349.84" rx="3.24" ry="4.12" fill="#8a8a8a" opacity="0.6" filter="url(#soft)"/>
<path d="M382.66,322.64 C380.50,330.06 379.42,338.30 383.74,345.72" fill="none" stroke="#666" stroke-width="2.3" filter="url(#soft)" opacity="0.85"/>
<path d="M364.30,337.10 C364.57,334.27 366.28,330.08 368.30,327.40 C370.32,324.72 373.45,322.48 376.40,321.00 C379.35,319.52 382.78,319.05 386.00,318.50 C389.22,317.95 392.47,317.42 395.70,317.70 C398.93,317.98 402.58,318.72 405.40,320.20 C408.22,321.68 410.58,324.18 412.60,326.60 C414.62,329.02 416.55,332.42 417.50,334.70 C418.45,336.98 418.70,338.68 418.30,340.30 C417.90,341.92 416.72,343.32 415.10,344.40 C413.48,345.48 410.08,345.60 408.60,346.80 C407.12,348.00 406.73,349.98 406.20,351.60 C405.67,353.22 406.62,355.28 405.40,356.50 C404.18,357.72 401.58,358.50 398.90,358.90 C396.22,359.30 392.25,359.30 389.30,358.90 C386.35,358.50 383.22,357.72 381.20,356.50 C379.18,355.28 378.68,352.95 377.20,351.60 C375.72,350.25 374.05,349.60 372.30,348.40 C370.55,347.20 368.03,346.28 366.70,344.40 C365.37,342.52 364.03,339.93 364.30,337.10 Z" fill="none" stroke="#858585" stroke-width="2.0" filter="url(#soft)" opacity="0.6"/>
</g>
<path d="M384.50,309.00 C385.37,307.87 386.58,306.77 388.00,306.20 C389.42,305.63 391.25,305.60 393.00,305.60 C394.75,305.60 397.00,305.72 398.50,306.20 C400.00,306.68 401.25,307.53 402.00,308.50 C402.75,309.47 403.17,310.75 403.00,312.00 C402.83,313.25 401.55,314.77 401.00,316.00 C400.45,317.23 399.95,318.15 399.70,319.40 C399.45,320.65 399.70,322.15 399.50,323.50 C399.30,324.85 399.33,326.58 398.50,327.50 C397.67,328.42 395.58,329.00 394.50,329.00 C393.42,329.00 392.33,328.42 392.00,327.50 C391.67,326.58 392.50,324.75 392.50,323.50 C392.50,322.25 392.75,320.68 392.00,320.00 C391.25,319.32 389.33,319.82 388.00,319.40 C386.67,318.98 384.87,318.57 384.00,317.50 C383.13,316.43 382.72,314.42 382.80,313.00 C382.88,311.58 383.63,310.13 384.50,309.00 Z" fill="url(#gGreen)"/>
<path d="M381.00,354.00 C381.53,353.20 383.08,352.95 384.00,353.20 C384.92,353.45 385.75,354.53 386.50,355.50 C387.25,356.47 387.83,357.83 388.50,359.00 C389.17,360.17 389.58,361.97 390.50,362.50 C391.42,363.03 392.75,362.03 394.00,362.20 C395.25,362.37 397.05,362.78 398.00,363.50 C398.95,364.22 399.62,365.50 399.70,366.50 C399.78,367.50 399.28,368.83 398.50,369.50 C397.72,370.17 396.17,370.25 395.00,370.50 C393.83,370.75 392.42,370.50 391.50,371.00 C390.58,371.50 390.17,372.50 389.50,373.50 C388.83,374.50 388.50,376.22 387.50,377.00 C386.50,377.78 384.58,378.20 383.50,378.20 C382.42,378.20 381.52,377.70 381.00,377.00 C380.48,376.30 380.15,375.00 380.40,374.00 C380.65,373.00 381.65,371.92 382.50,371.00 C383.35,370.08 385.08,369.42 385.50,368.50 C385.92,367.58 385.50,366.58 385.00,365.50 C384.50,364.42 383.20,363.25 382.50,362.00 C381.80,360.75 381.05,359.33 380.80,358.00 C380.55,356.67 380.47,354.80 381.00,354.00 Z" fill="url(#gYel)"/>
<text x="388.00" y="298.20" font-size="6.4" text-anchor="middle" font-weight="normal" fill="#231f20" stroke="#231f20" stroke-width="0.14" >Q11</text>
<clipPath id="clQ12"><path d="M443.50,336.30 C443.90,333.33 445.63,329.95 447.50,327.40 C449.37,324.85 451.88,322.48 454.70,321.00 C457.52,319.52 461.17,318.92 464.40,318.50 C467.63,318.08 470.60,318.08 474.10,318.50 C477.60,318.92 482.32,319.65 485.40,321.00 C488.48,322.35 490.58,324.45 492.60,326.60 C494.62,328.75 496.55,331.62 497.50,333.90 C498.45,336.18 498.70,338.42 498.30,340.30 C497.90,342.18 496.72,343.85 495.10,345.20 C493.48,346.55 490.08,347.07 488.60,348.40 C487.12,349.73 487.00,351.72 486.20,353.20 C485.40,354.68 485.55,356.08 483.80,357.30 C482.05,358.52 478.67,359.83 475.70,360.50 C472.73,361.17 468.82,361.43 466.00,361.30 C463.18,361.17 460.55,360.92 458.80,359.70 C457.05,358.48 456.72,355.75 455.50,354.00 C454.28,352.25 453.23,350.67 451.50,349.20 C449.77,347.73 446.43,347.35 445.10,345.20 C443.77,343.05 443.10,339.27 443.50,336.30 Z"/></clipPath>
<g clip-path="url(#clQ12)">
<path d="M443.50,336.30 C443.90,333.33 445.63,329.95 447.50,327.40 C449.37,324.85 451.88,322.48 454.70,321.00 C457.52,319.52 461.17,318.92 464.40,318.50 C467.63,318.08 470.60,318.08 474.10,318.50 C477.60,318.92 482.32,319.65 485.40,321.00 C488.48,322.35 490.58,324.45 492.60,326.60 C494.62,328.75 496.55,331.62 497.50,333.90 C498.45,336.18 498.70,338.42 498.30,340.30 C497.90,342.18 496.72,343.85 495.10,345.20 C493.48,346.55 490.08,347.07 488.60,348.40 C487.12,349.73 487.00,351.72 486.20,353.20 C485.40,354.68 485.55,356.08 483.80,357.30 C482.05,358.52 478.67,359.83 475.70,360.50 C472.73,361.17 468.82,361.43 466.00,361.30 C463.18,361.17 460.55,360.92 458.80,359.70 C457.05,358.48 456.72,355.75 455.50,354.00 C454.28,352.25 453.23,350.67 451.50,349.20 C449.77,347.73 446.43,347.35 445.10,345.20 C443.77,343.05 443.10,339.27 443.50,336.30 Z" fill="#acacac"/>
<ellipse cx="452.82" cy="336.48" rx="7.67" ry="10.27" fill="#cbcbcb" opacity="0.95" filter="url(#soft)"/>
<ellipse cx="478.57" cy="328.77" rx="10.96" ry="5.99" fill="#c2c2c2" opacity="0.85" filter="url(#soft)"/>
<ellipse cx="468.16" cy="354.45" rx="8.77" ry="4.71" fill="#c0c0c0" opacity="0.9" filter="url(#soft)"/>
<ellipse cx="490.08" cy="333.48" rx="4.38" ry="5.14" fill="#c0c0c0" opacity="0.75" filter="url(#soft)"/>
<ellipse cx="485.70" cy="341.18" rx="4.93" ry="5.14" fill="#7a7a7a" opacity="0.8" filter="url(#soft)"/>
<ellipse cx="476.38" cy="342.04" rx="3.84" ry="8.56" fill="#959595" opacity="0.6" filter="url(#soft)"/>
<ellipse cx="459.94" cy="351.88" rx="3.29" ry="4.28" fill="#8a8a8a" opacity="0.6" filter="url(#soft)"/>
<path d="M462.13,323.64 C459.94,331.34 458.84,339.90 463.23,347.60" fill="none" stroke="#666" stroke-width="2.3" filter="url(#soft)" opacity="0.85"/>
<path d="M443.50,336.30 C443.90,333.33 445.63,329.95 447.50,327.40 C449.37,324.85 451.88,322.48 454.70,321.00 C457.52,319.52 461.17,318.92 464.40,318.50 C467.63,318.08 470.60,318.08 474.10,318.50 C477.60,318.92 482.32,319.65 485.40,321.00 C488.48,322.35 490.58,324.45 492.60,326.60 C494.62,328.75 496.55,331.62 497.50,333.90 C498.45,336.18 498.70,338.42 498.30,340.30 C497.90,342.18 496.72,343.85 495.10,345.20 C493.48,346.55 490.08,347.07 488.60,348.40 C487.12,349.73 487.00,351.72 486.20,353.20 C485.40,354.68 485.55,356.08 483.80,357.30 C482.05,358.52 478.67,359.83 475.70,360.50 C472.73,361.17 468.82,361.43 466.00,361.30 C463.18,361.17 460.55,360.92 458.80,359.70 C457.05,358.48 456.72,355.75 455.50,354.00 C454.28,352.25 453.23,350.67 451.50,349.20 C449.77,347.73 446.43,347.35 445.10,345.20 C443.77,343.05 443.10,339.27 443.50,336.30 Z" fill="none" stroke="#858585" stroke-width="2.0" filter="url(#soft)" opacity="0.6"/>
</g>
<path d="M470.00,308.50 C470.90,307.77 472.50,306.93 474.00,306.60 C475.50,306.27 477.58,306.18 479.00,306.50 C480.42,306.82 481.83,307.58 482.50,308.50 C483.17,309.42 483.17,310.75 483.00,312.00 C482.83,313.25 481.92,314.58 481.50,316.00 C481.08,317.42 481.08,319.17 480.50,320.50 C479.92,321.83 479.00,323.12 478.00,324.00 C477.00,324.88 475.50,325.72 474.50,325.80 C473.50,325.88 472.50,325.30 472.00,324.50 C471.50,323.70 471.83,322.00 471.50,321.00 C471.17,320.00 470.45,319.50 470.00,318.50 C469.55,317.50 469.03,316.25 468.80,315.00 C468.57,313.75 468.40,312.08 468.60,311.00 C468.80,309.92 469.10,309.23 470.00,308.50 Z" fill="url(#gGreen)"/>
<path d="M474.50,357.00 C475.28,356.50 477.25,356.25 478.50,356.50 C479.75,356.75 480.75,357.92 482.00,358.50 C483.25,359.08 484.58,359.42 486.00,360.00 C487.42,360.58 488.92,361.33 490.50,362.00 C492.08,362.67 494.15,363.08 495.50,364.00 C496.85,364.92 498.18,366.33 498.60,367.50 C499.02,368.67 498.68,370.08 498.00,371.00 C497.32,371.92 495.83,372.58 494.50,373.00 C493.17,373.42 491.17,373.03 490.00,373.50 C488.83,373.97 488.42,375.47 487.50,375.80 C486.58,376.13 485.33,376.13 484.50,375.50 C483.67,374.87 483.00,373.25 482.50,372.00 C482.00,370.75 482.08,369.08 481.50,368.00 C480.92,366.92 480.00,366.42 479.00,365.50 C478.00,364.58 476.37,363.50 475.50,362.50 C474.63,361.50 473.97,360.42 473.80,359.50 C473.63,358.58 473.72,357.50 474.50,357.00 Z" fill="url(#gPurp)"/>
<text x="469.30" y="298.20" font-size="6.4" text-anchor="middle" font-weight="normal" fill="#231f20" stroke="#231f20" stroke-width="0.14" >Q12</text>
<text x="185.00" y="285.90" font-size="6.5" text-anchor="start" font-weight="normal" fill="#231f20" stroke="#231f20" stroke-width="0.14" textLength="162.5" lengthAdjust="spacingAndGlyphs">EMPEM: trimer-liposome group at P2 (probe: Q23 NFL)</text>
<text x="560.80" y="297.30" font-size="6.4" text-anchor="middle" font-weight="normal" fill="#231f20" stroke="#231f20" stroke-width="0.14" >Epitope</text>
<rect x="529.5" y="302.9" width="62.6" height="20.30" fill="#5cb868"/>
<text x="560.80" y="315.35" font-size="6.4" text-anchor="middle" font-weight="normal" fill="#231f20" stroke="#231f20" stroke-width="0.14" >Apex</text>
<rect x="529.5" y="323.2" width="62.6" height="21.10" fill="#4b82f0"/>
<text x="560.80" y="336.05" font-size="6.4" text-anchor="middle" font-weight="normal" fill="#231f20" stroke="#231f20" stroke-width="0.14" >C3V5</text>
<rect x="529.5" y="344.8" width="62.6" height="20.90" fill="#fefac8"/>
<text x="560.80" y="357.55" font-size="6.4" text-anchor="middle" font-weight="normal" fill="#231f20" stroke="#231f20" stroke-width="0.14" >gp41-GH</text>
<rect x="529.5" y="365.7" width="62.6" height="20.90" fill="#9450d0"/>
<text x="560.80" y="378.45" font-size="6.4" text-anchor="middle" font-weight="normal" fill="#231f20" stroke="#231f20" stroke-width="0.14" >Base</text>
<line x1="78.90" y1="396.00" x2="78.90" y2="486.30" stroke="#b4b4b4" stroke-width="0.55" stroke-dasharray="1,1.2"/>
<line x1="92.56" y1="396.00" x2="92.56" y2="486.30" stroke="#b4b4b4" stroke-width="0.55" stroke-dasharray="1,1.2"/>
<line x1="106.22" y1="396.00" x2="106.22" y2="486.30" stroke="#b4b4b4" stroke-width="0.55" stroke-dasharray="1,1.2"/>
<line x1="119.88" y1="396.00" x2="119.88" y2="486.30" stroke="#b4b4b4" stroke-width="0.55" stroke-dasharray="1,1.2"/>
<line x1="133.54" y1="396.00" x2="133.54" y2="486.30" stroke="#b4b4b4" stroke-width="0.55" stroke-dasharray="1,1.2"/>
<line x1="147.20" y1="396.00" x2="147.20" y2="486.30" stroke="#b4b4b4" stroke-width="0.55" stroke-dasharray="1,1.2"/>
<line x1="160.86" y1="396.00" x2="160.86" y2="486.30" stroke="#b4b4b4" stroke-width="0.55" stroke-dasharray="1,1.2"/>
<line x1="174.52" y1="396.00" x2="174.52" y2="486.30" stroke="#b4b4b4" stroke-width="0.55" stroke-dasharray="1,1.2"/>
<line x1="188.18" y1="396.00" x2="188.18" y2="486.30" stroke="#b4b4b4" stroke-width="0.55" stroke-dasharray="1,1.2"/>
<line x1="201.84" y1="396.00" x2="201.84" y2="486.30" stroke="#b4b4b4" stroke-width="0.55" stroke-dasharray="1,1.2"/>
<line x1="215.50" y1="396.00" x2="215.50" y2="486.30" stroke="#b4b4b4" stroke-width="0.55" stroke-dasharray="1,1.2"/>
<line x1="229.16" y1="396.00" x2="229.16" y2="486.30" stroke="#b4b4b4" stroke-width="0.55" stroke-dasharray="1,1.2"/>
<line x1="70.60" y1="395.70" x2="70.60" y2="486.30" stroke="#777" stroke-width="0.75" />
<line x1="70.60" y1="486.30" x2="237.50" y2="486.30" stroke="#777" stroke-width="0.75" />
<line x1="66.60" y1="404.60" x2="70.60" y2="404.60" stroke="#777" stroke-width="0.7" />
<text x="63.20" y="406.80" font-size="6.3" text-anchor="end" font-weight="normal" fill="#231f20" stroke="#231f20" stroke-width="0.14" >V2-apex</text>
<line x1="66.60" y1="416.25" x2="70.60" y2="416.25" stroke="#777" stroke-width="0.7" />
<text x="63.20" y="418.45" font-size="6.3" text-anchor="end" font-weight="normal" fill="#231f20" stroke="#231f20" stroke-width="0.14" >gp120–gp120</text>
<line x1="66.60" y1="427.90" x2="70.60" y2="427.90" stroke="#777" stroke-width="0.7" />
<text x="63.20" y="430.10" font-size="6.3" text-anchor="end" font-weight="normal" fill="#231f20" stroke="#231f20" stroke-width="0.14" >C3V5</text>
<line x1="66.60" y1="439.55" x2="70.60" y2="439.55" stroke="#777" stroke-width="0.7" />
<text x="63.20" y="441.75" font-size="6.3" text-anchor="end" font-weight="normal" fill="#231f20" stroke="#231f20" stroke-width="0.14" >gp41-FP</text>
<line x1="66.60" y1="451.20" x2="70.60" y2="451.20" stroke="#777" stroke-width="0.7" />
<text x="63.20" y="453.40" font-size="6.3" text-anchor="end" font-weight="normal" fill="#231f20" stroke="#231f20" stroke-width="0.14" >gp41-GH</text>
<line x1="66.60" y1="462.85" x2="70.60" y2="462.85" stroke="#777" stroke-width="0.7" />
<text x="63.20" y="465.05" font-size="6.3" text-anchor="end" font-weight="normal" fill="#231f20" stroke="#231f20" stroke-width="0.14" >gp41-base</text>
<line x1="66.60" y1="474.50" x2="70.60" y2="474.50" stroke="#777" stroke-width="0.7" />
<text x="63.20" y="476.70" font-size="6.3" text-anchor="end" font-weight="normal" fill="#231f20" stroke="#231f20" stroke-width="0.14" >Protomers</text>
<line x1="78.90" y1="486.30" x2="78.90" y2="491.60" stroke="#777" stroke-width="0.7" />
<line x1="92.56" y1="486.30" x2="92.56" y2="491.60" stroke="#777" stroke-width="0.7" />
<line x1="106.22" y1="486.30" x2="106.22" y2="491.60" stroke="#777" stroke-width="0.7" />
<line x1="119.88" y1="486.30" x2="119.88" y2="491.60" stroke="#777" stroke-width="0.7" />
<line x1="133.54" y1="486.30" x2="133.54" y2="491.60" stroke="#777" stroke-width="0.7" />
<line x1="147.20" y1="486.30" x2="147.20" y2="491.60" stroke="#777" stroke-width="0.7" />
<line x1="160.86" y1="486.30" x2="160.86" y2="491.60" stroke="#777" stroke-width="0.7" />
<line x1="174.52" y1="486.30" x2="174.52" y2="491.60" stroke="#777" stroke-width="0.7" />
<line x1="188.18" y1="486.30" x2="188.18" y2="491.60" stroke="#777" stroke-width="0.7" />
<line x1="201.84" y1="486.30" x2="201.84" y2="491.60" stroke="#777" stroke-width="0.7" />
<line x1="215.50" y1="486.30" x2="215.50" y2="491.60" stroke="#777" stroke-width="0.7" />
<line x1="229.16" y1="486.30" x2="229.16" y2="491.60" stroke="#777" stroke-width="0.7" />
<circle cx="78.90" cy="404.6" r="3.2" fill="#1a7a3e"/>
<circle cx="92.56" cy="404.6" r="3.2" fill="#1a7a3e"/>
<circle cx="106.22" cy="404.6" r="3.2" fill="#1a7a3e"/>
<circle cx="119.88" cy="404.6" r="3.2" fill="#1a7a3e"/>
<circle cx="160.86" cy="404.6" r="3.2" fill="#1a7a3e"/>
<circle cx="174.52" cy="404.6" r="3.2" fill="#1a7a3e"/>
<circle cx="188.18" cy="404.6" r="3.2" fill="#1a7a3e"/>
<circle cx="201.84" cy="404.6" r="3.2" fill="#1a7a3e"/>
<circle cx="215.50" cy="404.6" r="3.2" fill="#1a7a3e"/>
<circle cx="229.16" cy="404.6" r="3.2" fill="#1a7a3e"/>
<circle cx="78.90" cy="462.85" r="3.2" fill="#8b1a96"/>
<circle cx="92.56" cy="462.85" r="3.2" fill="#8b1a96"/>
<circle cx="106.22" cy="462.85" r="3.2" fill="#8b1a96"/>
<circle cx="119.88" cy="462.85" r="3.2" fill="#8b1a96"/>
<circle cx="133.54" cy="462.85" r="3.2" fill="#8b1a96"/>
<circle cx="147.20" cy="462.85" r="3.2" fill="#8b1a96"/>
<circle cx="160.86" cy="462.85" r="3.2" fill="#8b1a96"/>
<circle cx="174.52" cy="462.85" r="3.2" fill="#8b1a96"/>
<circle cx="188.18" cy="462.85" r="3.2" fill="#8b1a96"/>
<circle cx="201.84" cy="462.85" r="3.2" fill="#8b1a96"/>
<circle cx="229.16" cy="462.85" r="3.2" fill="#8b1a96"/>
<circle cx="133.54" cy="416.25" r="3.2" fill="#fa2d0e"/>
<circle cx="106.22" cy="427.90000000000003" r="3.2" fill="#1595f8"/>
<circle cx="201.84" cy="427.90000000000003" r="3.2" fill="#1595f8"/>
<circle cx="133.54" cy="439.55" r="3.2" fill="#fb8a0c"/>
<circle cx="215.50" cy="451.20000000000005" r="3.2" fill="#fdd282"/>
<text transform="translate(81.20,494.3) rotate(-90)" font-size="6.4" text-anchor="end" fill="#231f20">Q1</text>
<text transform="translate(94.86,494.3) rotate(-90)" font-size="6.4" text-anchor="end" fill="#231f20">Q2</text>
<text transform="translate(108.52,494.3) rotate(-90)" font-size="6.4" text-anchor="end" fill="#231f20">Q3</text>
<text transform="translate(122.18,494.3) rotate(-90)" font-size="6.4" text-anchor="end" fill="#231f20">Q4</text>
<text transform="translate(135.84,494.3) rotate(-90)" font-size="6.4" text-anchor="end" fill="#231f20">Q5</text>
<text transform="translate(149.50,494.3) rotate(-90)" font-size="6.4" text-anchor="end" fill="#231f20">Q6</text>
<text transform="translate(163.16,494.3) rotate(-90)" font-size="6.4" text-anchor="end" fill="#231f20">Q7</text>
<text transform="translate(176.82,494.3) rotate(-90)" font-size="6.4" text-anchor="end" fill="#231f20">Q8</text>
<text transform="translate(190.48,494.3) rotate(-90)" font-size="6.4" text-anchor="end" fill="#231f20">Q9</text>
<text transform="translate(204.14,494.3) rotate(-90)" font-size="6.4" text-anchor="end" fill="#231f20">Q10</text>
<text transform="translate(217.80,494.3) rotate(-90)" font-size="6.4" text-anchor="end" fill="#231f20">Q11</text>
<text transform="translate(231.46,494.3) rotate(-90)" font-size="6.4" text-anchor="end" fill="#231f20">Q12</text>
<polyline points="73.3,509.4 73.3,517.2 149.3,517.2 149.3,509.4" fill="none" stroke="#555" stroke-width="0.75"/>
<text x="111.80" y="526.30" font-size="6.3" text-anchor="middle" font-weight="normal" fill="#231f20" stroke="#231f20" stroke-width="0.14" >Soluble trimer</text>
<polyline points="156.5,509.4 156.5,517.2 232.5,517.2 232.5,509.4" fill="none" stroke="#555" stroke-width="0.75"/>
<text x="194.60" y="526.30" font-size="6.3" text-anchor="middle" font-weight="normal" fill="#231f20" stroke="#231f20" stroke-width="0.14" >Trimer liposomes</text>
<line x1="287.60" y1="410.50" x2="287.60" y2="486.30" stroke="#777" stroke-width="0.75" />
<line x1="287.60" y1="486.60" x2="448.00" y2="486.60" stroke="#777" stroke-width="0.75" />
<line x1="284.60" y1="486.30" x2="287.60" y2="486.30" stroke="#777" stroke-width="0.7" />
<text x="282.60" y="488.50" font-size="6.3" text-anchor="end" font-weight="normal" fill="#231f20" stroke="#231f20" stroke-width="0.14" >0</text>
<line x1="284.60" y1="471.36" x2="287.60" y2="471.36" stroke="#777" stroke-width="0.7" />
<text x="282.60" y="473.56" font-size="6.3" text-anchor="end" font-weight="normal" fill="#231f20" stroke="#231f20" stroke-width="0.14" >0.5</text>
<line x1="284.60" y1="456.42" x2="287.60" y2="456.42" stroke="#777" stroke-width="0.7" />
<text x="282.60" y="458.62" font-size="6.3" text-anchor="end" font-weight="normal" fill="#231f20" stroke="#231f20" stroke-width="0.14" >1.0</text>
<line x1="284.60" y1="441.48" x2="287.60" y2="441.48" stroke="#777" stroke-width="0.7" />
<text x="282.60" y="443.68" font-size="6.3" text-anchor="end" font-weight="normal" fill="#231f20" stroke="#231f20" stroke-width="0.14" >1.5</text>
<line x1="284.60" y1="426.54" x2="287.60" y2="426.54" stroke="#777" stroke-width="0.7" />
<text x="282.60" y="428.74" font-size="6.3" text-anchor="end" font-weight="normal" fill="#231f20" stroke="#231f20" stroke-width="0.14" >2.0</text>
<line x1="284.60" y1="411.60" x2="287.60" y2="411.60" stroke="#777" stroke-width="0.7" />
<text x="282.60" y="413.80" font-size="6.3" text-anchor="end" font-weight="normal" fill="#231f20" stroke="#231f20" stroke-width="0.14" >2.5</text>
<line x1="294.70" y1="486.60" x2="294.70" y2="489.80" stroke="#777" stroke-width="0.7" />
<line x1="308.57" y1="486.60" x2="308.57" y2="489.80" stroke="#777" stroke-width="0.7" />
<line x1="322.44" y1="486.60" x2="322.44" y2="489.80" stroke="#777" stroke-width="0.7" />
<line x1="336.31" y1="486.60" x2="336.31" y2="489.80" stroke="#777" stroke-width="0.7" />
<line x1="350.18" y1="486.60" x2="350.18" y2="489.80" stroke="#777" stroke-width="0.7" />
<line x1="364.05" y1="486.60" x2="364.05" y2="489.80" stroke="#777" stroke-width="0.7" />
<line x1="377.92" y1="486.60" x2="377.92" y2="489.80" stroke="#777" stroke-width="0.7" />
<line x1="391.79" y1="486.60" x2="391.79" y2="489.80" stroke="#777" stroke-width="0.7" />
<line x1="405.66" y1="486.60" x2="405.66" y2="489.80" stroke="#777" stroke-width="0.7" />
<line x1="419.53" y1="486.60" x2="419.53" y2="489.80" stroke="#777" stroke-width="0.7" />
<line x1="433.40" y1="486.60" x2="433.40" y2="489.80" stroke="#777" stroke-width="0.7" />
<line x1="447.27" y1="486.60" x2="447.27" y2="489.80" stroke="#777" stroke-width="0.7" />
<text transform="translate(297.00,493.3) rotate(-90)" font-size="6.4" text-anchor="end" fill="#231f20">Q1</text>
<text transform="translate(310.87,493.3) rotate(-90)" font-size="6.4" text-anchor="end" fill="#231f20">Q2</text>
<text transform="translate(324.74,493.3) rotate(-90)" font-size="6.4" text-anchor="end" fill="#231f20">Q3</text>
<text transform="translate(338.61,493.3) rotate(-90)" font-size="6.4" text-anchor="end" fill="#231f20">Q4</text>
<text transform="translate(352.48,493.3) rotate(-90)" font-size="6.4" text-anchor="end" fill="#231f20">Q5</text>
<text transform="translate(366.35,493.3) rotate(-90)" font-size="6.4" text-anchor="end" fill="#231f20">Q6</text>
<text transform="translate(380.22,493.3) rotate(-90)" font-size="6.4" text-anchor="end" fill="#231f20">Q7</text>
<text transform="translate(394.09,493.3) rotate(-90)" font-size="6.4" text-anchor="end" fill="#231f20">Q8</text>
<text transform="translate(407.96,493.3) rotate(-90)" font-size="6.4" text-anchor="end" fill="#231f20">Q9</text>
<text transform="translate(421.83,493.3) rotate(-90)" font-size="6.4" text-anchor="end" fill="#231f20">Q10</text>
<text transform="translate(435.70,493.3) rotate(-90)" font-size="6.4" text-anchor="end" fill="#231f20">Q11</text>
<text transform="translate(449.57,493.3) rotate(-90)" font-size="6.4" text-anchor="end" fill="#231f20">Q12</text>
<text transform="translate(266.4,449) rotate(-90)" font-size="6.3" text-anchor="middle" fill="#231f20">EMPEM magnitude</text>
<polyline points="294.70,486.30 308.57,486.30 322.44,481.82 336.31,486.30 350.18,486.30 364.05,486.30 377.92,486.30 391.79,486.30 405.66,486.30 419.53,484.81 433.40,486.30 447.27,486.30" fill="none" stroke="#1595f8" stroke-width="1.6" stroke-linejoin="round" stroke-linecap="round" />
<polyline points="294.70,486.30 308.57,486.30 322.44,486.30 336.31,486.30 350.18,485.10 364.05,486.30 377.92,486.30 391.79,486.30 405.66,486.30 419.53,486.30 433.40,486.30 447.27,486.30" fill="none" stroke="#fa2d0e" stroke-width="1.6" stroke-linejoin="round" stroke-linecap="round" />
<polyline points="294.70,486.30 308.57,486.30 322.44,486.30 336.31,486.30 350.18,479.73 364.05,486.30 377.92,486.30 391.79,486.30 405.66,486.30 419.53,486.30 433.40,486.30 447.27,486.30" fill="none" stroke="#fb8a0c" stroke-width="1.6" stroke-linejoin="round" stroke-linecap="round" />
<polyline points="294.70,486.30 308.57,486.30 322.44,486.30 336.31,486.30 350.18,486.30 364.05,486.30 377.92,486.30 391.79,486.30 405.66,486.30 419.53,486.30 433.40,484.51 447.27,486.30" fill="none" stroke="#fdd282" stroke-width="1.6" stroke-linejoin="round" stroke-linecap="round" />
<polyline points="294.70,479.43 308.57,460.60 322.44,462.40 336.31,465.38 350.18,485.70 364.05,486.30 377.92,458.21 391.79,473.75 405.66,474.95 419.53,459.71 433.40,479.43 447.27,472.85" fill="none" stroke="#1a8a3e" stroke-width="1.9" stroke-linejoin="round" stroke-linecap="round" />
<polyline points="294.70,437.00 308.57,449.85 322.44,471.96 336.31,439.99 350.18,437.60 364.05,439.99 377.92,480.03 391.79,484.81 405.66,483.01 419.53,483.91 433.40,486.30 447.27,478.23" fill="none" stroke="#8b1a96" stroke-width="1.9" stroke-linejoin="round" stroke-linecap="round" />
<polyline points="294.70,429.53 308.57,424.15 322.44,442.97 336.31,418.77 350.18,429.53 364.05,439.09 377.92,451.34 391.79,472.26 405.66,471.36 419.53,456.42 433.40,477.04 447.27,464.79" fill="none" stroke="#555" stroke-width="1.15" stroke-linejoin="round" stroke-linecap="round" stroke-dasharray="4,2.6" stroke-linecap="butt"/>
<polyline points="291,509.4 291,517.2 366.7,517.2 366.7,509.4" fill="none" stroke="#555" stroke-width="0.75"/>
<text x="329.10" y="526.30" font-size="6.3" text-anchor="middle" font-weight="normal" fill="#231f20" stroke="#231f20" stroke-width="0.14" >Soluble trimer</text>
<polyline points="375.1,509.4 375.1,517.2 450.8,517.2 450.8,509.4" fill="none" stroke="#555" stroke-width="0.75"/>
<text x="412.40" y="526.30" font-size="6.3" text-anchor="middle" font-weight="normal" fill="#231f20" stroke="#231f20" stroke-width="0.14" >Trimer liposomes</text>
<line x1="462.20" y1="410.20" x2="471.70" y2="410.20" stroke="#1a8a3e" stroke-width="1.7" />
<text x="476.00" y="412.40" font-size="6.3" text-anchor="start" font-weight="normal" fill="#231f20" stroke="#231f20" stroke-width="0.14" >V2-apex</text>
<line x1="462.20" y1="421.45" x2="471.70" y2="421.45" stroke="#fa2d0e" stroke-width="1.7" />
<text x="476.00" y="423.65" font-size="6.3" text-anchor="start" font-weight="normal" fill="#231f20" stroke="#231f20" stroke-width="0.14" >gp120–gp120</text>
<line x1="462.20" y1="432.70" x2="471.70" y2="432.70" stroke="#1595f8" stroke-width="1.7" />
<text x="476.00" y="434.90" font-size="6.3" text-anchor="start" font-weight="normal" fill="#231f20" stroke="#231f20" stroke-width="0.14" >C3V5</text>
<line x1="462.20" y1="443.95" x2="471.70" y2="443.95" stroke="#fb8a0c" stroke-width="1.7" />
<text x="476.00" y="446.15" font-size="6.3" text-anchor="start" font-weight="normal" fill="#231f20" stroke="#231f20" stroke-width="0.14" >gp41-FP</text>
<line x1="462.20" y1="455.20" x2="471.70" y2="455.20" stroke="#fdd282" stroke-width="1.7" />
<text x="476.00" y="457.40" font-size="6.3" text-anchor="start" font-weight="normal" fill="#231f20" stroke="#231f20" stroke-width="0.14" >gp41-GH</text>
<line x1="462.20" y1="466.45" x2="471.70" y2="466.45" stroke="#8b1a96" stroke-width="1.7" />
<text x="476.00" y="468.65" font-size="6.3" text-anchor="start" font-weight="normal" fill="#231f20" stroke="#231f20" stroke-width="0.14" >gp41-base</text>
<line x1="462.20" y1="477.70" x2="471.70" y2="477.70" stroke="#555" stroke-width="1.1" stroke-dasharray="3.5,1.8"/>
<text x="476.00" y="479.90" font-size="6.3" text-anchor="start" font-weight="normal" fill="#231f20" stroke="#231f20" stroke-width="0.14" >Total magnitude</text>
</svg></body></html>
